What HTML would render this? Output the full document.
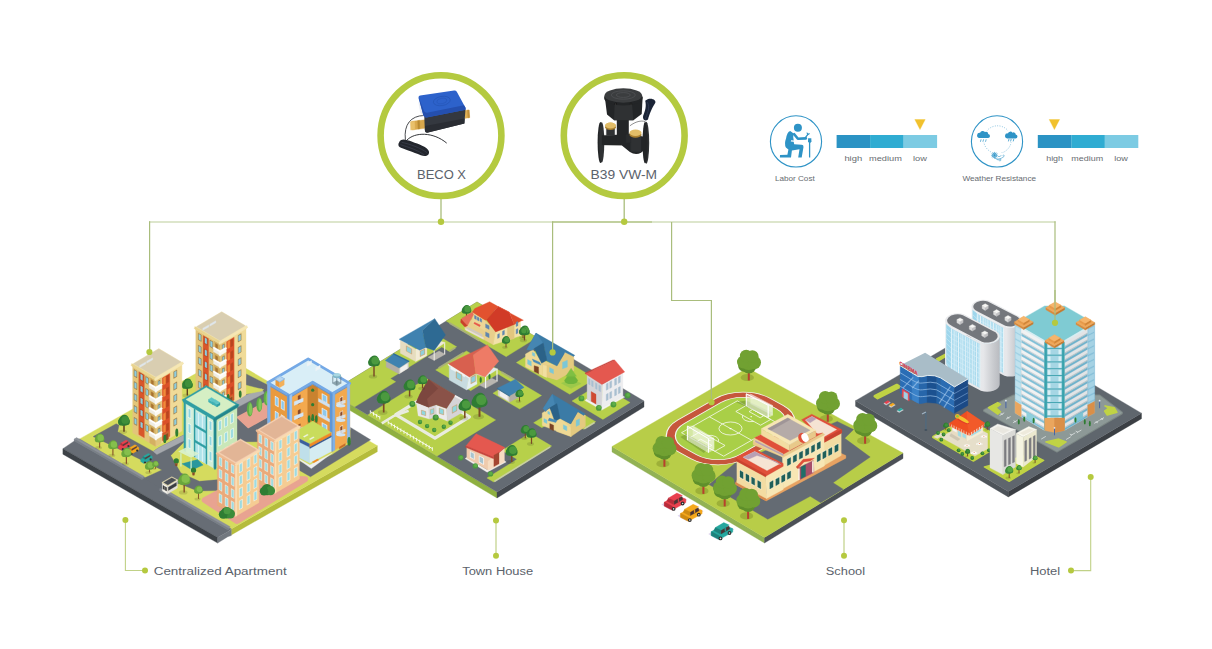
<!DOCTYPE html>
<html><head><meta charset="utf-8"><title>Application</title>
<style>
html,body{margin:0;padding:0;background:#fff;}
svg{display:block;font-family:"Liberation Sans",sans-serif;}
</style></head><body>
<svg width="1212" height="649" viewBox="0 0 1212 649">
<rect width="1212" height="649" fill="#fff"/>
<g id="frame">
<line x1="149.0" y1="222.0" x2="1055.6" y2="222.0" stroke="#d2debb" stroke-width="1.7"/>
<line x1="552.5" y1="222.0" x2="652.0" y2="222.0" stroke="#b7c990" stroke-width="1.7"/>
<line x1="149.6" y1="221.2" x2="149.6" y2="352.0" stroke="#a9bd7c" stroke-width="1.2"/>
<line x1="552.6" y1="221.2" x2="552.6" y2="352.0" stroke="#a9bd7c" stroke-width="1.2"/>
<path d="M671.6 222 V300.5 H711.4 V402" fill="none" stroke="#a9bd7c" stroke-width="1.2"/>
<line x1="1055.0" y1="221.2" x2="1055.0" y2="322.0" stroke="#a9bd7c" stroke-width="1.2"/>
<line x1="441.0" y1="198.0" x2="441.0" y2="222.0" stroke="#a9bd7c" stroke-width="1.3"/>
<line x1="624.2" y1="198.0" x2="624.2" y2="222.0" stroke="#a9bd7c" stroke-width="1.3"/>
<circle cx="441.0" cy="221.8" r="3.2" fill="#b5c93f"/>
<circle cx="624.2" cy="221.8" r="3.2" fill="#b5c93f"/>
<circle cx="441.0" cy="135.6" r="60.4" fill="#fff" stroke="#b4ca40" stroke-width="6.6"/>
<circle cx="624.2" cy="135.6" r="60.4" fill="#fff" stroke="#b4ca40" stroke-width="6.6"/>
<text x="441.5" y="178.6" font-size="12" fill="#5b626b" text-anchor="middle" textLength="49.0" lengthAdjust="spacingAndGlyphs">BECO X</text>
<text x="623.8" y="178.6" font-size="12" fill="#5b626b" text-anchor="middle" textLength="66.5" lengthAdjust="spacingAndGlyphs">B39 VW-M</text>
<path d="M125.4 520 V570.5 H145" fill="none" stroke="#c0d187" stroke-width="1.1"/>
<circle cx="125.4" cy="520.0" r="3.0" fill="#b5c93f"/>
<circle cx="145.0" cy="570.5" r="3.0" fill="#b5c93f"/>
<text x="153.7" y="575.1" font-size="11.7" fill="#5b626b" text-anchor="start" textLength="133.0" lengthAdjust="spacingAndGlyphs">Centralized Apartment</text>
<line x1="496.0" y1="520.4" x2="496.0" y2="555.8" stroke="#c0d187" stroke-width="1.2"/>
<circle cx="496.0" cy="520.4" r="3.0" fill="#b5c93f"/>
<circle cx="496.0" cy="555.8" r="3.0" fill="#b5c93f"/>
<text x="462.2" y="575.1" font-size="11.7" fill="#5b626b" text-anchor="start" textLength="71.0" lengthAdjust="spacingAndGlyphs">Town House</text>
<line x1="844.0" y1="520.3" x2="844.0" y2="555.7" stroke="#c0d187" stroke-width="1.2"/>
<circle cx="844.0" cy="520.3" r="3.0" fill="#b5c93f"/>
<circle cx="844.0" cy="555.7" r="3.0" fill="#b5c93f"/>
<text x="825.8" y="575.3" font-size="11.7" fill="#5b626b" text-anchor="start" textLength="39.2" lengthAdjust="spacingAndGlyphs">School</text>
<path d="M1071 570.6 H1090.7 V477" fill="none" stroke="#c0d187" stroke-width="1.1"/>
<circle cx="1071.0" cy="570.6" r="3.0" fill="#b5c93f"/>
<circle cx="1090.7" cy="477.0" r="3.0" fill="#b5c93f"/>
<text x="1030.0" y="575.1" font-size="11.7" fill="#5b626b" text-anchor="start" textLength="30.2" lengthAdjust="spacingAndGlyphs">Hotel</text>
<circle cx="796.0" cy="141.4" r="25.6" fill="#fff" stroke="#2e93c6" stroke-width="1.1"/>
<rect x="836.6" y="135" width="33.6" height="13" fill="#2b93c4"/>
<rect x="870.1" y="135" width="33.6" height="13" fill="#2facd2"/>
<rect x="903.6" y="135" width="33.5" height="13" fill="#7ccbe3"/>
<polygon points="914.8,119.5 925.2,119.5 920.0,129.6" fill="#f1c12d" stroke="#f1c12d" stroke-width="0.35" stroke-linejoin="round"/>
<text x="775.0" y="180.9" font-size="7.3" fill="#666b70" text-anchor="start" textLength="39.7" lengthAdjust="spacingAndGlyphs">Labor Cost</text>
<text x="844.4" y="160.7" font-size="7.6" fill="#666b70" text-anchor="start" textLength="17.8" lengthAdjust="spacingAndGlyphs">high</text>
<text x="869.1" y="160.7" font-size="7.6" fill="#666b70" text-anchor="start" textLength="32.7" lengthAdjust="spacingAndGlyphs">medium</text>
<text x="913.0" y="160.7" font-size="7.6" fill="#666b70" text-anchor="start" textLength="13.9" lengthAdjust="spacingAndGlyphs">low</text>
<circle cx="997.0" cy="141.4" r="25.6" fill="#fff" stroke="#2e93c6" stroke-width="1.1"/>
<rect x="1037.8" y="135" width="33.6" height="13" fill="#2b93c4"/>
<rect x="1071.3" y="135" width="33.6" height="13" fill="#2facd2"/>
<rect x="1104.8" y="135" width="33.5" height="13" fill="#7ccbe3"/>
<polygon points="1049.2,119.5 1059.6,119.5 1054.4,129.6" fill="#f1c12d" stroke="#f1c12d" stroke-width="0.35" stroke-linejoin="round"/>
<text x="962.4" y="180.9" font-size="7.3" fill="#666b70" text-anchor="start" textLength="73.7" lengthAdjust="spacingAndGlyphs">Weather Resistance</text>
<text x="1046.2" y="160.7" font-size="7.6" fill="#666b70" text-anchor="start" textLength="16.8" lengthAdjust="spacingAndGlyphs">high</text>
<text x="1071.3" y="160.7" font-size="7.6" fill="#666b70" text-anchor="start" textLength="31.8" lengthAdjust="spacingAndGlyphs">medium</text>
<text x="1114.2" y="160.7" font-size="7.6" fill="#666b70" text-anchor="start" textLength="13.7" lengthAdjust="spacingAndGlyphs">low</text>
</g>
<g id="products">
<path d="M423.9 115.5 C411.0 115.8 403.6 124.4 405.4 139.8" fill="none" stroke="#1d1f24" stroke-width="0.8"/>
<path d="M406.6 140.4 C414.7 131.8 433.2 131.8 446.7 143.1" fill="none" stroke="#1d1f24" stroke-width="0.9"/>
<path d="M399.2 142.3 C400.5 138.0 406.0 139.2 412.2 141.7 C418.4 144.1 427.0 146.6 428.8 150.9 C430.1 155.2 425.8 157.1 420.8 155.2 C413.4 152.1 403.6 149.1 399.9 147.2 C398.0 146.0 398.0 144.1 399.2 142.3 Z" fill="#23262d"/>
<path d="M401.7 142.3 C409.7 144.1 420.8 147.8 427.0 152.7" fill="none" stroke="#3c4150" stroke-width="0.7"/>
<path d="M400.5 144.7 C408.5 147.2 418.4 150.3 424.5 155.0" fill="none" stroke="#3c4150" stroke-width="0.7"/>
<polygon points="411.6,121.3 425.1,119.7 425.1,128.3 412.2,129.9" fill="#d9a84c" stroke="#d9a84c" stroke-width="0.35" stroke-linejoin="round"/>
<polygon points="410.3,121.7 414.7,121.2 414.9,129.6 410.7,130.1" fill="#e9c06a" stroke="#e9c06a" stroke-width="0.35" stroke-linejoin="round"/>
<polygon points="417.7,120.7 419.6,120.4 419.8,128.8 418.0,129.1" fill="#b98a32" stroke="#b98a32" stroke-width="0.35" stroke-linejoin="round"/>
<polygon points="464.0,110.6 468.9,110.0 469.5,117.6 464.6,118.5" fill="#e0b055" stroke="#e0b055" stroke-width="0.35" stroke-linejoin="round"/>
<polygon points="467.4,110.1 469.2,110.0 469.7,117.6 467.9,117.9" fill="#c4923a" stroke="#c4923a" stroke-width="0.35" stroke-linejoin="round"/>
<path d="M424.3 116.7 L465.5 109.1 464.4 123.4 427.0 132.8 Q424.8 132.4 424.8 129.9 Z" fill="#34383f"/>
<path d="M425.1 125.9 L464.6 118.5 464.4 123.4 427.0 132.8 Q425.0 132.3 424.9 129.9 Z" fill="#2a2d33"/>
<polygon points="418.6,102.2 422.3,105.3 425.1,117.0 420.6,113.3" fill="#e9ecf2" stroke="#e9ecf2" stroke-width="0.35" stroke-linejoin="round"/>
<path d="M418.6 97.0 Q418.6 95.8 420.2 95.4 L454.1 90.4 Q456.0 90.2 456.8 91.8 L465.5 107.7 Q466.2 109.6 464.5 110.1 L426.5 117.6 Q424.5 117.7 423.5 115.8 L418.6 98.5 Z" fill="#2d62cb"/>
<path d="M418.6 97.0 L423.5 115.8 Q424.5 117.7 426.5 117.6 L464.5 110.1 Q466.2 109.6 465.5 107.7 L464.0 105.3 427.0 112.7 Q424.8 112.8 424.0 111.1 Z" fill="#244fae"/>
<ellipse cx="441.8" cy="101.0" rx="8.5" ry="4.6" fill="none" stroke="#2556b8" stroke-width="0.8" transform="rotate(-10 441.8 101.0)"/>
<ellipse cx="441.8" cy="101.0" rx="5.0" ry="2.7" fill="none" stroke="#2556b8" stroke-width="0.6" transform="rotate(-10 441.8 101.0)"/>
<path d="M629.9 125.8 C635.5 121.6 641.0 120.2 645.2 121.6 L645.2 138.3" fill="none" stroke="#444" stroke-width="0.6"/>
<path d="M645.2 100.8 C649.3 96.6 657.7 99.4 654.9 103.6 C652.1 107.7 649.3 114.7 648.0 119.5 C645.2 121.6 642.4 120.2 643.1 116.1 C645.2 110.5 646.6 106.4 645.2 100.8 Z" fill="#1b2436"/>
<path d="M647.3 102.2 C650.7 107.7 646.6 114.7 645.2 119.5" fill="none" stroke="#3a4560" stroke-width="0.6"/>
<ellipse cx="600.5" cy="142.4" rx="2.9" ry="20.5" fill="#232527"/>
<ellipse cx="601.7" cy="142.4" rx="2.6" ry="20.2" fill="#2f3133"/>
<ellipse cx="646.3" cy="142.7" rx="2.9" ry="21.0" fill="#2f3133"/>
<ellipse cx="645.1" cy="142.7" rx="2.6" ry="20.6" fill="#232527"/>
<polygon points="602.2,135.5 621.6,134.8 621.6,145.2 602.2,144.9" fill="#232527" stroke="#232527" stroke-width="0.35" stroke-linejoin="round"/>
<polygon points="606.4,127.9 614.7,127.9 614.7,135.5 606.4,135.5" fill="#2f3133" stroke="#2f3133" stroke-width="0.35" stroke-linejoin="round"/>
<path d="M616.8 119.5 L628.8 119.5 628.8 135.5 641.7 136.2 645.2 136.9 645.2 149.3 641.0 152.8 Q635.5 155.6 629.9 152.1 L621.6 145.2 616.8 141.0 Z" fill="#232527"/>
<polygon points="630.6,135.5 641.0,135.5 641.0,152.1 630.6,151.4" fill="#2f3133" stroke="#2f3133" stroke-width="0.35" stroke-linejoin="round"/>
<polygon points="625.8,134.8 630.6,133.4 630.6,142.4 625.8,143.1" fill="#2a2c2e" stroke="#2a2c2e" stroke-width="0.35" stroke-linejoin="round"/>
<ellipse cx="610.5" cy="125.5" rx="5.4" ry="2.9" fill="#d8b05a"/>
<ellipse cx="610.5" cy="127.3" rx="5.4" ry="2.6" fill="#a97f2f"/>
<ellipse cx="610.5" cy="125.5" rx="5.4" ry="2.9" fill="#e2bd68"/>
<ellipse cx="635.5" cy="134.7" rx="6.0" ry="3.0" fill="#a97f2f"/>
<ellipse cx="635.5" cy="132.7" rx="6.0" ry="3.2" fill="#e2bd68"/>
<path d="M604.7 96.0 L642.7 96.6 641.7 114.0 633.4 120.2 614.0 120.2 607.0 114.4 Z" fill="#232527"/>
<path d="M614.7 103.6 L632.0 103.6 633.4 120.2 614.0 120.2 Z" fill="#2f3133"/>
<ellipse cx="623.3" cy="98.0" rx="19.2" ry="7.6" fill="#232527"/>
<ellipse cx="623.3" cy="95.5" rx="18.8" ry="7.2" fill="#3b3d3f"/>
<ellipse cx="623.3" cy="95.0" rx="12.0" ry="4.2" fill="none" stroke="#55585b" stroke-width="0.6"/>
<ellipse cx="623.3" cy="95.0" rx="7.0" ry="2.4" fill="none" stroke="#55585b" stroke-width="0.6"/>
<circle cx="615.8" cy="103.9" r="1.2" fill="#111"/>
<circle cx="615.8" cy="103.9" r="0.5" fill="#777"/>
<circle cx="631.0" cy="103.9" r="1.2" fill="#111"/>
<circle cx="631.0" cy="103.9" r="0.5" fill="#777"/>
</g>
<g id="icons">
<circle cx="797.9" cy="127.7" r="4.0" fill="#2e93c6"/>
<path d="M790.2 130.9 Q787.1 131.9 786.1 138.3 Q784.0 143.9 785.9 147.6 L788.4 149.4 787.4 154.7 780.0 155.1 779.9 157.5 791.0 157.5 791.9 150.6 799.5 149.2 798.2 157.5 801.7 157.5 803.5 146.9 Q803.7 144.8 801.6 144.7 L794.2 144.3 793.7 141.8 790.8 141.4 791.1 140.3 793.7 140.5 Q792.8 136.2 793.7 133.4 Z" fill="#2e93c6"/>
<path d="M794.2 134.2 L797.9 138.8 805.9 138.4" fill="none" stroke="#2e93c6" stroke-width="2.6" stroke-linecap="round" stroke-linejoin="round"/>
<path d="M805.7 137.1 L808.1 134.2" fill="none" stroke="#2e93c6" stroke-width="1.3" stroke-linecap="round"/>
<path d="M807.1 133.1 L807.8 134.4 809.3 133.8" fill="none" stroke="#2e93c6" stroke-width="1.1" stroke-linecap="round"/>
<path d="M809.6 139.7 L809.6 157.5" fill="none" stroke="#2e93c6" stroke-width="1.3"/>
<path d="M808.1 138.3 L811.3 138.3 811.5 141.4 810.2 143.0 809.1 143.0 808.0 141.4 Z" fill="#2e93c6"/>
<circle cx="997.5" cy="139.7" r="13.9" fill="none" stroke="#2e93c6" stroke-width="0.6" stroke-dasharray="0.9 1.5"/>
<circle cx="983.2" cy="135.6" r="6.6" fill="#fff"/>
<circle cx="1011.2" cy="135.8" r="6.6" fill="#fff"/>
<ellipse cx="996.6" cy="156.4" rx="7.5" ry="4.8" fill="#fff"/>
<path d="M979.3 138.1 h8.5 a2.0 2.0 0 0 0 0.4 -4.0 a2.2 2.2 0 0 0 -3.3 -2.0 a2.8 2.8 0 0 0 -4.8 0.7 a2.2 2.2 0 0 0 -0.7 5.3 z" fill="#2e93c6"/>
<path d="M1007.2 138.4 h8.1 a1.9 1.9 0 0 0 0.4 -3.8 a2.1 2.1 0 0 0 -3.2 -1.9 a2.6 2.6 0 0 0 -4.6 0.7 a2.1 2.1 0 0 0 -0.7 5.0 z" fill="#2e93c6"/>
<line x1="981.1" y1="139.3" x2="980.4" y2="141.8" stroke="#2e93c6" stroke-width="0.7"/>
<line x1="983.6" y1="139.3" x2="982.9" y2="141.8" stroke="#2e93c6" stroke-width="0.7"/>
<line x1="986.2" y1="139.3" x2="985.5" y2="141.8" stroke="#2e93c6" stroke-width="0.7"/>
<line x1="1009.0" y1="139.0" x2="1008.4" y2="141.4" stroke="#2e93c6" stroke-width="0.8"/>
<line x1="1011.2" y1="139.0" x2="1010.6" y2="141.4" stroke="#2e93c6" stroke-width="0.8"/>
<line x1="1013.8" y1="139.0" x2="1013.2" y2="141.4" stroke="#2e93c6" stroke-width="0.8"/>
<line x1="991.1" y1="155.3" x2="997.9" y2="155.3" stroke="#2e93c6" stroke-width="0.6"/>
<line x1="991.6" y1="153.6" x2="997.5" y2="157.0" stroke="#2e93c6" stroke-width="0.6"/>
<line x1="992.8" y1="152.3" x2="996.2" y2="158.2" stroke="#2e93c6" stroke-width="0.6"/>
<line x1="994.5" y1="151.9" x2="994.5" y2="158.7" stroke="#2e93c6" stroke-width="0.6"/>
<line x1="996.2" y1="152.3" x2="992.8" y2="158.2" stroke="#2e93c6" stroke-width="0.6"/>
<line x1="997.5" y1="153.6" x2="991.6" y2="157.0" stroke="#2e93c6" stroke-width="0.6"/>
<circle cx="994.5" cy="155.3" r="2.1" fill="none" stroke="#2e93c6" stroke-width="0.5"/>
<path d="M994.7 158.2 C998.4 160.1 1002.1 158.2 1004.0 156.4 C1004.9 155.4 1003.5 154.7 1002.6 155.6" fill="none" stroke="#2e93c6" stroke-width="0.6"/>
<path d="M996.6 159.3 C998.4 160.2 999.8 160.1 1000.7 159.3 C1001.4 160.1 1000.5 161.2 999.3 160.8" fill="none" stroke="#2e93c6" stroke-width="0.6"/>
<path d="M998.0 156.4 C999.3 156.8 1000.7 156.4 1001.2 155.4" fill="none" stroke="#2e93c6" stroke-width="0.6"/>
</g>
<g id="tile2">
<polygon points="330.0,392.5 497.0,492.0 497.0,498.0 330.0,398.5" fill="#8fb040" stroke="#8fb040" stroke-width="0.35" stroke-linejoin="round"/>
<polygon points="497.0,492.0 644.0,401.0 644.0,407.0 497.0,498.0" fill="#42474d" stroke="#42474d" stroke-width="0.35" stroke-linejoin="round"/>
<polygon points="477.0,302.0 644.0,401.0 497.0,492.0 330.0,392.5" fill="#646b73" stroke="#646b73" stroke-width="0.35" stroke-linejoin="round"/>
<polygon points="430.0,331.0 456.7,346.8 449.3,351.4 441.8,346.9 390.4,378.6 395.7,381.8 354.5,407.1 330.0,392.5" fill="#b7d04a" stroke="#b7d04a" stroke-width="0.35" stroke-linejoin="round"/>
<polygon points="477.0,302.0 537.1,337.6 506.2,356.7 446.1,321.0" fill="#b7d04a" stroke="#b7d04a" stroke-width="0.35" stroke-linejoin="round"/>
<polygon points="542.0,346.8 595.4,378.4 569.7,394.3 516.3,362.6" fill="#b7d04a" stroke="#b7d04a" stroke-width="0.35" stroke-linejoin="round"/>
<polygon points="599.2,384.2 630.1,402.5 602.9,419.4 572.0,401.0" fill="#b7d04a" stroke="#b7d04a" stroke-width="0.35" stroke-linejoin="round"/>
<polygon points="466.5,350.9 541.6,395.5 519.6,409.1 492.9,393.2 511.3,381.9 497.9,374.0 470.7,390.7 435.6,369.9" fill="#b7d04a" stroke="#b7d04a" stroke-width="0.35" stroke-linejoin="round"/>
<polygon points="426.4,378.6 495.7,419.9 436.9,456.2 367.6,414.9" fill="#b7d04a" stroke="#b7d04a" stroke-width="0.35" stroke-linejoin="round"/>
<polygon points="584.1,414.8 595.8,421.7 583.6,429.3 571.9,422.4" fill="#b7d04a" stroke="#b7d04a" stroke-width="0.35" stroke-linejoin="round"/>
<polygon points="543.9,416.4 552.2,421.4 541.9,427.7 533.6,422.8" fill="#b7d04a" stroke="#b7d04a" stroke-width="0.35" stroke-linejoin="round"/>
<polygon points="529.9,433.1 551.7,446.0 493.6,481.9 486.9,478.0 517.0,459.3 502.0,450.4" fill="#b7d04a" stroke="#b7d04a" stroke-width="0.35" stroke-linejoin="round"/>
<line x1="550.2" y1="446.9" x2="494.3" y2="481.5" stroke="#c8cfa0" stroke-width="1.6"/>
<line x1="594.6" y1="422.5" x2="584.3" y2="428.8" stroke="#c8cfa0" stroke-width="1.6"/>
<line x1="449.5" y1="323.0" x2="479.5" y2="340.8" stroke="#a9b07a" stroke-width="1.8"/>
<line x1="463.6" y1="352.7" x2="438.6" y2="368.1" stroke="#a9b07a" stroke-width="1.8"/>
<line x1="501.3" y1="371.9" x2="514.6" y2="379.8" stroke="#a9b07a" stroke-width="1.8"/>
<line x1="455.2" y1="347.7" x2="449.3" y2="351.4" stroke="#a9b07a" stroke-width="1.8"/>
<polygon points="430.3,393.4 469.5,416.8 435.0,438.1 395.7,414.7" fill="none" stroke="#e9ecdf" stroke-width="3.2" stroke-linejoin="round"/>
<path d="M408.6 410.8 L393.5 416.1 L381.8 423.3" fill="none" stroke="#e9ecdf" stroke-width="2.6"/>
<line x1="370.3" y1="411.6" x2="379.8" y2="417.3" stroke="#fff" stroke-width="0.9"/>
<line x1="370.3" y1="413.8" x2="370.3" y2="410.2" stroke="#fff" stroke-width="0.8"/>
<line x1="373.5" y1="415.7" x2="373.5" y2="412.1" stroke="#fff" stroke-width="0.8"/>
<line x1="376.6" y1="417.6" x2="376.6" y2="414.0" stroke="#fff" stroke-width="0.8"/>
<line x1="379.8" y1="419.5" x2="379.8" y2="415.9" stroke="#fff" stroke-width="0.8"/>
<line x1="388.2" y1="422.3" x2="432.4" y2="448.6" stroke="#fff" stroke-width="0.9"/>
<line x1="388.2" y1="424.5" x2="388.2" y2="420.9" stroke="#fff" stroke-width="0.8"/>
<line x1="391.3" y1="426.4" x2="391.3" y2="422.8" stroke="#fff" stroke-width="0.8"/>
<line x1="394.5" y1="428.2" x2="394.5" y2="424.6" stroke="#fff" stroke-width="0.8"/>
<line x1="397.6" y1="430.1" x2="397.6" y2="426.5" stroke="#fff" stroke-width="0.8"/>
<line x1="400.8" y1="432.0" x2="400.8" y2="428.4" stroke="#fff" stroke-width="0.8"/>
<line x1="404.0" y1="433.9" x2="404.0" y2="430.3" stroke="#fff" stroke-width="0.8"/>
<line x1="407.1" y1="435.8" x2="407.1" y2="432.2" stroke="#fff" stroke-width="0.8"/>
<line x1="410.3" y1="437.7" x2="410.3" y2="434.1" stroke="#fff" stroke-width="0.8"/>
<line x1="413.4" y1="439.5" x2="413.4" y2="435.9" stroke="#fff" stroke-width="0.8"/>
<line x1="416.6" y1="441.4" x2="416.6" y2="437.8" stroke="#fff" stroke-width="0.8"/>
<line x1="419.8" y1="443.3" x2="419.8" y2="439.7" stroke="#fff" stroke-width="0.8"/>
<line x1="422.9" y1="445.2" x2="422.9" y2="441.6" stroke="#fff" stroke-width="0.8"/>
<line x1="426.1" y1="447.1" x2="426.1" y2="443.5" stroke="#fff" stroke-width="0.8"/>
<line x1="429.2" y1="449.0" x2="429.2" y2="445.4" stroke="#fff" stroke-width="0.8"/>
<line x1="432.4" y1="450.8" x2="432.4" y2="447.2" stroke="#fff" stroke-width="0.8"/>
<ellipse cx="465.5" cy="318.0" rx="3.4" ry="1.7" fill="#000" opacity="0.12"/>
<line x1="466.5" y1="318.0" x2="466.5" y2="312.0" stroke="#7a4a25" stroke-width="1.1760000000000002"/>
<circle cx="466.5" cy="309.6" r="4.2" fill="#2f7d33"/>
<circle cx="464.6" cy="310.7" r="2.9" fill="#2f7d33"/>
<circle cx="468.4" cy="310.5" r="2.9" fill="#2f7d33"/>
<circle cx="466.9" cy="307.8" r="2.9" fill="#2f7d33"/>
<circle cx="467.6" cy="309.0" r="3.2" fill="#4b9a3f"/>
<polygon points="463.7,319.6 485.3,320.2 495.7,331.3 493.3,344.8 483.4,339.3 464.9,329.4" fill="#e8cf8c" stroke="#e8cf8c" stroke-width="0.35" stroke-linejoin="round"/>
<polygon points="472.3,311.9 485.3,320.2 485.3,330.7 472.3,323.3" fill="#ecd596" stroke="#ecd596" stroke-width="0.35" stroke-linejoin="round"/>
<polygon points="493.3,344.8 495.7,331.3 509.3,323.3 520.4,319.6 521.0,335.6" fill="#f3e1a8" stroke="#f3e1a8" stroke-width="0.35" stroke-linejoin="round"/>
<polygon points="507.4,325.7 514.2,324.5 514.2,338.7 507.4,340.5" fill="#e2c67e" stroke="#e2c67e" stroke-width="0.35" stroke-linejoin="round"/>
<polygon points="461.0,319.0 472.3,311.9 473.6,314.6 467.4,325.7" fill="#e7705b" stroke="#e7705b" stroke-width="0.35" stroke-linejoin="round"/>
<polygon points="461.0,319.0 467.4,325.7 464.9,327.0 460.6,322.3" fill="#c9402b" stroke="#c9402b" stroke-width="0.35" stroke-linejoin="round"/>
<polygon points="474.8,308.5 489.6,301.7 498.2,306.6 486.5,319.8 485.3,320.2 472.3,311.9" fill="#e2522f" stroke="#e2522f" stroke-width="0.35" stroke-linejoin="round"/>
<polygon points="486.5,319.8 498.2,306.6 509.3,312.2 514.2,324.5 495.7,331.9" fill="#d13b27" stroke="#d13b27" stroke-width="0.35" stroke-linejoin="round"/>
<polygon points="498.2,306.6 523.4,320.2 521.0,321.0 514.2,324.5 509.3,312.2" fill="#dd4a2b" stroke="#dd4a2b" stroke-width="0.35" stroke-linejoin="round"/>
<polygon points="474.5,315.3 476.3,316.2 476.3,319.6 474.5,318.6" fill="#5f86b0" stroke="#5f86b0" stroke-width="0.35" stroke-linejoin="round"/>
<polygon points="477.2,316.9 479.0,317.8 479.0,321.0 477.2,320.1" fill="#5f86b0" stroke="#5f86b0" stroke-width="0.35" stroke-linejoin="round"/>
<polygon points="480.0,318.3 481.7,319.3 481.7,322.3 480.0,321.3" fill="#5f86b0" stroke="#5f86b0" stroke-width="0.35" stroke-linejoin="round"/>
<polygon points="485.6,323.9 489.1,325.7 489.1,329.4 485.6,327.6" fill="#5f86b0" stroke="#5f86b0" stroke-width="0.35" stroke-linejoin="round"/>
<polygon points="485.6,331.9 489.1,333.7 489.1,337.8 485.6,336.0" fill="#5f86b0" stroke="#5f86b0" stroke-width="0.35" stroke-linejoin="round"/>
<polygon points="497.6,334.4 499.4,333.4 499.4,337.4 497.6,338.4" fill="#5f86b0" stroke="#5f86b0" stroke-width="0.35" stroke-linejoin="round"/>
<polygon points="502.5,331.3 504.4,330.3 504.4,334.4 502.5,335.3" fill="#5f86b0" stroke="#5f86b0" stroke-width="0.35" stroke-linejoin="round"/>
<polygon points="516.1,322.3 517.9,321.4 517.9,325.7 516.1,326.6" fill="#5f86b0" stroke="#5f86b0" stroke-width="0.35" stroke-linejoin="round"/>
<polygon points="516.1,329.4 517.9,328.6 517.9,333.1 516.1,334.0" fill="#5f86b0" stroke="#5f86b0" stroke-width="0.35" stroke-linejoin="round"/>
<polygon points="465.5,328.2 483.4,337.4 483.4,339.3 465.5,330.0" fill="#e6e0d8" stroke="#e6e0d8" stroke-width="0.35" stroke-linejoin="round"/>
<polygon points="467.4,328.8 482.2,336.6 482.2,334.4 467.4,327.0" fill="#cfc9c2" stroke="#cfc9c2" stroke-width="0.35" stroke-linejoin="round"/>
<polygon points="474.5,322.3 480.3,325.1 479.7,326.7 473.8,323.5" fill="#e7574a" stroke="#e7574a" stroke-width="0.35" stroke-linejoin="round"/>
<ellipse cx="505.0" cy="347.5" rx="2.9" ry="1.4" fill="#000" opacity="0.12"/>
<line x1="506.0" y1="347.5" x2="506.0" y2="342.0" stroke="#7a4a25" stroke-width="1.0080000000000002"/>
<circle cx="506.0" cy="340.1" r="3.6" fill="#2f7d33"/>
<circle cx="504.4" cy="341.0" r="2.5" fill="#2f7d33"/>
<circle cx="507.6" cy="340.8" r="2.5" fill="#2f7d33"/>
<circle cx="506.4" cy="338.5" r="2.5" fill="#2f7d33"/>
<circle cx="506.9" cy="339.6" r="2.7" fill="#4b9a3f"/>
<ellipse cx="523.5" cy="340.5" rx="3.7" ry="1.8" fill="#000" opacity="0.12"/>
<line x1="524.5" y1="340.5" x2="524.5" y2="333.5" stroke="#7a4a25" stroke-width="1.288"/>
<circle cx="524.5" cy="330.8" r="4.6" fill="#2f7d33"/>
<circle cx="522.4" cy="332.0" r="3.2" fill="#2f7d33"/>
<circle cx="526.6" cy="331.7" r="3.2" fill="#2f7d33"/>
<circle cx="525.0" cy="328.8" r="3.2" fill="#2f7d33"/>
<circle cx="525.6" cy="330.1" r="3.4" fill="#4b9a3f"/>
<polygon points="400.3,340.0 415.7,349.3 415.7,361.6 400.3,353.2" fill="#e6dcc0" stroke="#e6dcc0" stroke-width="0.35" stroke-linejoin="round"/>
<polygon points="415.7,349.3 426.8,346.6 426.8,355.7 415.7,361.6" fill="#f2ebd6" stroke="#f2ebd6" stroke-width="0.35" stroke-linejoin="round"/>
<polygon points="428.0,357.3 434.2,360.4 445.3,354.2 439.1,351.1" fill="#b9b6b0" stroke="#b9b6b0" stroke-width="0.35" stroke-linejoin="round"/>
<polygon points="426.8,347.4 434.2,349.9 445.3,342.5 437.9,340.7" fill="#efe9d8" stroke="#efe9d8" stroke-width="0.35" stroke-linejoin="round"/>
<line x1="434.2" y1="349.9" x2="434.2" y2="360.4" stroke="#f4f1ea" stroke-width="1.0"/>
<line x1="444.7" y1="343.1" x2="444.7" y2="354.2" stroke="#f4f1ea" stroke-width="1.0"/>
<polygon points="399.1,339.2 434.8,318.7 422.5,330.6 425.8,347.4 419.7,350.3" fill="#3f82b0" stroke="#3f82b0" stroke-width="0.35" stroke-linejoin="round"/>
<polygon points="422.5,330.6 434.8,318.7 445.5,334.9 434.2,350.5 425.8,347.4" fill="#2e6a93" stroke="#2e6a93" stroke-width="0.35" stroke-linejoin="round"/>
<polygon points="406.2,345.8 411.8,348.9 411.8,354.2 406.2,351.1" fill="#c9a77a" stroke="#c9a77a" stroke-width="0.35" stroke-linejoin="round"/>
<polygon points="407.0,346.8 411.0,349.0 411.0,353.2 407.0,351.0" fill="#8fd0dc" stroke="#8fd0dc" stroke-width="0.35" stroke-linejoin="round"/>
<polygon points="420.0,351.1 425.0,348.7 425.0,354.2 420.0,356.7" fill="#c9a77a" stroke="#c9a77a" stroke-width="0.35" stroke-linejoin="round"/>
<polygon points="420.8,351.6 424.2,349.9 424.2,353.7 420.8,355.6" fill="#8fd0dc" stroke="#8fd0dc" stroke-width="0.35" stroke-linejoin="round"/>
<polygon points="386.2,361.0 399.1,367.8 399.1,373.9 386.2,367.1" fill="#b4aea6" stroke="#b4aea6" stroke-width="0.35" stroke-linejoin="round"/>
<polygon points="399.1,367.8 408.6,361.6 408.6,368.0 399.1,373.9" fill="#cfcac4" stroke="#cfcac4" stroke-width="0.35" stroke-linejoin="round"/>
<polygon points="400.3,368.0 407.4,363.7 407.4,368.4 400.3,372.7" fill="#f1f0ee" stroke="#f1f0ee" stroke-width="0.35" stroke-linejoin="round"/>
<polygon points="385.2,360.4 393.8,353.6 409.3,361.2 399.1,368.0" fill="#3f82b0" stroke="#3f82b0" stroke-width="0.35" stroke-linejoin="round"/>
<polygon points="393.8,353.6 409.3,361.2 408.6,361.8 393.3,354.3" fill="#2e6a93" stroke="#2e6a93" stroke-width="0.35" stroke-linejoin="round"/>
<ellipse cx="373.0" cy="376.5" rx="4.2" ry="2.1" fill="#000" opacity="0.12"/>
<line x1="374.0" y1="376.5" x2="374.0" y2="364.5" stroke="#7a4a25" stroke-width="1.4560000000000002"/>
<circle cx="374.0" cy="361.3" r="5.2" fill="#2f7d33"/>
<circle cx="371.7" cy="362.6" r="3.6" fill="#2f7d33"/>
<circle cx="376.3" cy="362.4" r="3.6" fill="#2f7d33"/>
<circle cx="374.5" cy="359.0" r="3.6" fill="#2f7d33"/>
<circle cx="375.3" cy="360.6" r="3.9" fill="#4b9a3f"/>
<polygon points="449.2,365.3 469.0,377.0 466.5,389.9 449.2,380.0" fill="#c8dce0" stroke="#c8dce0" stroke-width="0.35" stroke-linejoin="round"/>
<polygon points="469.0,377.0 476.3,373.9 477.0,384.1 466.5,389.9" fill="#e3eff1" stroke="#e3eff1" stroke-width="0.35" stroke-linejoin="round"/>
<polygon points="479.4,385.0 485.6,388.3 497.9,381.3 491.7,378.2" fill="#b9b6b0" stroke="#b9b6b0" stroke-width="0.35" stroke-linejoin="round"/>
<polygon points="477.0,374.5 485.6,377.0 497.9,369.0 489.3,366.5" fill="#dfeaec" stroke="#dfeaec" stroke-width="0.35" stroke-linejoin="round"/>
<line x1="485.6" y1="377.0" x2="485.6" y2="388.3" stroke="#f4f6f6" stroke-width="1.1"/>
<line x1="497.0" y1="369.3" x2="497.0" y2="380.9" stroke="#f4f6f6" stroke-width="1.1"/>
<polygon points="450.8,366.5 464.6,374.5 464.6,377.0 450.8,369.0" fill="#eef5f6" stroke="#eef5f6" stroke-width="0.35" stroke-linejoin="round"/>
<polygon points="448.0,364.0 487.4,344.9 473.3,354.8 475.7,373.3 469.0,377.2" fill="#d8604f" stroke="#d8604f" stroke-width="0.35" stroke-linejoin="round"/>
<polygon points="473.3,354.8 487.4,344.9 498.8,361.2 485.0,377.0 475.7,373.3" fill="#ee7b66" stroke="#ee7b66" stroke-width="0.35" stroke-linejoin="round"/>
<polygon points="448.0,364.0 469.0,377.2 469.0,378.2 448.0,365.0" fill="#f4f6f6" stroke="#f4f6f6" stroke-width="0.35" stroke-linejoin="round"/>
<polygon points="456.0,371.4 461.9,374.7 461.9,381.3 456.0,377.9" fill="#c9a77a" stroke="#c9a77a" stroke-width="0.35" stroke-linejoin="round"/>
<polygon points="456.9,372.6 461.2,375.1 461.2,380.2 456.9,377.7" fill="#8fd0dc" stroke="#8fd0dc" stroke-width="0.35" stroke-linejoin="round"/>
<polygon points="470.8,377.0 475.7,374.5 475.7,381.3 470.8,384.0" fill="#c9a77a" stroke="#c9a77a" stroke-width="0.35" stroke-linejoin="round"/>
<polygon points="471.5,377.7 475.0,376.0 475.0,380.7 471.5,382.5" fill="#8fd0dc" stroke="#8fd0dc" stroke-width="0.35" stroke-linejoin="round"/>
<ellipse cx="480.7" cy="380.0" rx="1.1" ry="3.0" fill="#2f7d33"/>
<ellipse cx="489.5" cy="376.7" rx="1.1" ry="2.6" fill="#2f7d33"/>
<polygon points="498.1,388.7 509.6,395.4 509.6,402.2 498.1,395.4" fill="#d6d2cc" stroke="#d6d2cc" stroke-width="0.35" stroke-linejoin="round"/>
<polygon points="509.6,395.4 521.3,389.0 520.7,396.1 509.6,402.2" fill="#b4aea6" stroke="#b4aea6" stroke-width="0.35" stroke-linejoin="round"/>
<polygon points="500.0,391.1 507.5,395.4 507.5,400.1 500.0,395.7" fill="#f1f0ee" stroke="#f1f0ee" stroke-width="0.35" stroke-linejoin="round"/>
<polygon points="497.4,388.3 515.4,379.2 524.1,387.4 509.6,395.7" fill="#3f82b0" stroke="#3f82b0" stroke-width="0.35" stroke-linejoin="round"/>
<polygon points="497.4,388.3 509.6,395.7 509.6,396.4 497.4,389.0" fill="#2e6a93" stroke="#2e6a93" stroke-width="0.35" stroke-linejoin="round"/>
<ellipse cx="518.5" cy="401.5" rx="2.9" ry="1.4" fill="#000" opacity="0.12"/>
<line x1="519.5" y1="401.5" x2="519.5" y2="395.5" stroke="#7a4a25" stroke-width="1.0080000000000002"/>
<circle cx="519.5" cy="393.6" r="3.6" fill="#2f7d33"/>
<circle cx="517.9" cy="394.5" r="2.5" fill="#2f7d33"/>
<circle cx="521.1" cy="394.3" r="2.5" fill="#2f7d33"/>
<circle cx="519.9" cy="392.0" r="2.5" fill="#2f7d33"/>
<circle cx="520.4" cy="393.1" r="2.7" fill="#4b9a3f"/>
<polygon points="540.9,359.6 557.0,365.7 557.0,379.5 542.8,375.8" fill="#e9d18a" stroke="#e9d18a" stroke-width="0.35" stroke-linejoin="round"/>
<polygon points="525.5,354.0 532.9,349.7 541.6,361.4 542.8,375.8 525.5,367.0" fill="#eed995" stroke="#eed995" stroke-width="0.35" stroke-linejoin="round"/>
<polygon points="542.8,365.1 557.0,365.7 565.0,352.2 573.8,356.5 573.8,370.7 557.0,379.9 542.8,375.8" fill="#e4ca80" stroke="#e4ca80" stroke-width="0.35" stroke-linejoin="round"/>
<polygon points="542.8,365.1 546.5,365.7 546.5,377.4 542.8,375.8" fill="#f1dea0" stroke="#f1dea0" stroke-width="0.35" stroke-linejoin="round"/>
<polygon points="526.8,349.7 536.0,333.1 574.8,355.3 573.6,356.5 565.0,352.2 557.0,366.0 546.5,360.8 543.4,343.6" fill="#3b7ba6" stroke="#3b7ba6" stroke-width="0.35" stroke-linejoin="round"/>
<polygon points="526.8,349.7 536.0,333.1 543.4,343.6 534.2,348.5 532.3,350.3" fill="#4586b2" stroke="#4586b2" stroke-width="0.35" stroke-linejoin="round"/>
<polygon points="534.2,348.5 543.2,342.9 546.9,360.2 541.6,363.3" fill="#2b6288" stroke="#2b6288" stroke-width="0.35" stroke-linejoin="round"/>
<polygon points="532.3,359.0 539.7,362.3 540.9,365.1 533.6,361.8" fill="#4a8cb8" stroke="#4a8cb8" stroke-width="0.35" stroke-linejoin="round"/>
<polygon points="534.2,365.7 538.5,367.0 538.7,373.7 534.2,371.6" fill="#7a4326" stroke="#7a4326" stroke-width="0.35" stroke-linejoin="round"/>
<polygon points="527.6,359.6 531.3,361.4 531.3,366.0 527.6,364.1" fill="#7cc7d6" stroke="#7cc7d6" stroke-width="0.35" stroke-linejoin="round"/>
<polygon points="532.3,352.2 534.8,353.4 534.8,356.5 532.3,355.3" fill="#7cc7d6" stroke="#7cc7d6" stroke-width="0.35" stroke-linejoin="round"/>
<polygon points="549.6,367.6 553.5,369.4 553.5,373.7 549.6,371.9" fill="#7cc7d6" stroke="#7cc7d6" stroke-width="0.35" stroke-linejoin="round"/>
<polygon points="562.5,362.3 567.4,360.2 567.4,367.0 562.5,368.8" fill="#7cc7d6" stroke="#7cc7d6" stroke-width="0.35" stroke-linejoin="round"/>
<polygon points="561.3,383.2 571.1,378.7 581.2,383.6 571.1,388.5" fill="#9cc84a" stroke="#9cc84a" stroke-width="0.35" stroke-linejoin="round"/>
<polygon points="564.4,380.5 577.9,380.5 571.1,371.3" fill="#6fb43c" stroke="#6fb43c" stroke-width="0.35" stroke-linejoin="round"/>
<polygon points="565.8,376.2 576.4,376.2 571.1,368.2" fill="#7fc043" stroke="#7fc043" stroke-width="0.35" stroke-linejoin="round"/>
<ellipse cx="571.1" cy="381.1" rx="6.5" ry="3.0" fill="#6fb43c"/>
<ellipse cx="522.0" cy="338.0" rx="2.8" ry="1.4" fill="#000" opacity="0.12"/>
<line x1="523.0" y1="338.0" x2="523.0" y2="333.0" stroke="#7a4a25" stroke-width="1.0"/>
<circle cx="523.0" cy="331.2" r="3.5" fill="#2f7d33"/>
<circle cx="521.4" cy="332.1" r="2.4" fill="#2f7d33"/>
<circle cx="524.6" cy="331.9" r="2.4" fill="#2f7d33"/>
<circle cx="523.4" cy="329.6" r="2.4" fill="#2f7d33"/>
<circle cx="523.9" cy="330.7" r="2.6" fill="#4b9a3f"/>
<polygon points="585.0,400.5 601.9,410.1 624.7,397.1 622.9,395.9 601.9,407.6 586.5,399.0" fill="#f3f3f3" stroke="#f3f3f3" stroke-width="0.35" stroke-linejoin="round"/>
<polygon points="587.1,374.4 602.5,384.2 601.9,407.9 587.1,399.2" fill="#d4d4d8" stroke="#d4d4d8" stroke-width="0.35" stroke-linejoin="round"/>
<polygon points="602.5,384.2 622.9,372.5 622.9,396.5 601.9,407.9" fill="#ededef" stroke="#ededef" stroke-width="0.35" stroke-linejoin="round"/>
<polygon points="585.3,373.7 614.9,360.2 624.7,371.9 601.9,384.5" fill="#e4584f" stroke="#e4584f" stroke-width="0.35" stroke-linejoin="round"/>
<polygon points="585.3,373.7 614.9,360.2 613.0,359.9 585.0,372.9" fill="#c8423b" stroke="#c8423b" stroke-width="0.35" stroke-linejoin="round"/>
<polygon points="591.2,391.6 596.0,394.3 596.0,403.9 591.2,401.2" fill="#cf4a32" stroke="#cf4a32" stroke-width="0.35" stroke-linejoin="round"/>
<polygon points="588.4,378.2 590.1,379.2 590.1,385.0 588.4,384.0" fill="#a9bfd0" stroke="#a9bfd0" stroke-width="0.35" stroke-linejoin="round"/>
<polygon points="591.5,380.2 593.2,381.2 593.2,387.0 591.5,386.0" fill="#a9bfd0" stroke="#a9bfd0" stroke-width="0.35" stroke-linejoin="round"/>
<polygon points="595.4,382.7 597.1,383.7 597.1,389.5 595.4,388.5" fill="#a9bfd0" stroke="#a9bfd0" stroke-width="0.35" stroke-linejoin="round"/>
<polygon points="598.8,384.9 600.6,385.9 600.6,391.7 598.8,390.7" fill="#a9bfd0" stroke="#a9bfd0" stroke-width="0.35" stroke-linejoin="round"/>
<polygon points="606.2,383.9 608.2,382.8 608.2,389.2 606.2,390.3" fill="#a9bfd0" stroke="#a9bfd0" stroke-width="0.35" stroke-linejoin="round"/>
<polygon points="606.2,394.4 608.2,393.3 608.2,399.7 606.2,400.8" fill="#a9bfd0" stroke="#a9bfd0" stroke-width="0.35" stroke-linejoin="round"/>
<polygon points="609.7,381.9 611.7,380.8 611.7,387.2 609.7,388.4" fill="#a9bfd0" stroke="#a9bfd0" stroke-width="0.35" stroke-linejoin="round"/>
<polygon points="609.7,392.4 611.7,391.3 611.7,397.7 609.7,398.8" fill="#a9bfd0" stroke="#a9bfd0" stroke-width="0.35" stroke-linejoin="round"/>
<polygon points="614.6,379.1 616.6,378.0 616.6,384.4 614.6,385.5" fill="#a9bfd0" stroke="#a9bfd0" stroke-width="0.35" stroke-linejoin="round"/>
<polygon points="614.6,389.6 616.6,388.5 616.6,394.9 614.6,396.0" fill="#a9bfd0" stroke="#a9bfd0" stroke-width="0.35" stroke-linejoin="round"/>
<polygon points="618.3,377.0 620.3,375.9 620.3,382.3 618.3,383.4" fill="#a9bfd0" stroke="#a9bfd0" stroke-width="0.35" stroke-linejoin="round"/>
<polygon points="618.3,387.5 620.3,386.4 620.3,392.8 618.3,393.9" fill="#a9bfd0" stroke="#a9bfd0" stroke-width="0.35" stroke-linejoin="round"/>
<circle cx="581.4" cy="398.4" r="2.9" fill="#4b9a3f"/>
<circle cx="581.9" cy="397.8" r="1.8" fill="#5fae48"/>
<circle cx="598.8" cy="407.9" r="2.9" fill="#4b9a3f"/>
<circle cx="599.3" cy="407.3" r="1.8" fill="#5fae48"/>
<circle cx="613.4" cy="404.5" r="2.9" fill="#4b9a3f"/>
<circle cx="613.9" cy="403.9" r="1.8" fill="#5fae48"/>
<circle cx="627.6" cy="395.5" r="2.9" fill="#4b9a3f"/>
<circle cx="628.1" cy="394.9" r="1.8" fill="#5fae48"/>
<polygon points="416.3,402.3 428.7,407.0 429.3,419.0 418.2,415.8" fill="#e9e7e8" stroke="#e9e7e8" stroke-width="0.35" stroke-linejoin="round"/>
<polygon points="428.7,407.0 436.4,404.7 436.9,416.8 429.3,419.0" fill="#d8d5d8" stroke="#d8d5d8" stroke-width="0.35" stroke-linejoin="round"/>
<polygon points="436.1,405.1 446.5,408.4 447.4,421.1 436.9,416.8" fill="#ecebec" stroke="#ecebec" stroke-width="0.35" stroke-linejoin="round"/>
<polygon points="446.5,408.4 455.2,395.3 462.3,399.6 462.3,412.5 447.4,421.1" fill="#d6d4d7" stroke="#d6d4d7" stroke-width="0.35" stroke-linejoin="round"/>
<polygon points="420.0,394.0 428.7,379.2 455.2,395.3 446.5,408.4 436.1,404.7 428.7,407.2 416.3,402.3" fill="#8a5248" stroke="#8a5248" stroke-width="0.35" stroke-linejoin="round"/>
<polygon points="420.0,394.0 428.7,379.2 437.9,388.5 426.8,399.0 428.7,407.2 416.3,402.3" fill="#7c473f" stroke="#7c473f" stroke-width="0.35" stroke-linejoin="round"/>
<polygon points="455.2,395.3 462.8,399.3 462.3,400.6 454.7,396.4" fill="#f2f1f2" stroke="#f2f1f2" stroke-width="0.35" stroke-linejoin="round"/>
<polygon points="421.3,410.0 425.8,411.5 425.8,415.8 421.3,414.4" fill="#c9a77a" stroke="#c9a77a" stroke-width="0.35" stroke-linejoin="round"/>
<polygon points="422.0,410.8 425.1,411.9 425.1,415.1 422.0,414.0" fill="#8fd8e0" stroke="#8fd8e0" stroke-width="0.35" stroke-linejoin="round"/>
<polygon points="430.3,409.7 434.0,408.4 434.0,413.4 430.3,414.6" fill="#c9a77a" stroke="#c9a77a" stroke-width="0.35" stroke-linejoin="round"/>
<polygon points="430.8,410.1 433.4,409.2 433.4,412.9 430.8,413.8" fill="#8fd8e0" stroke="#8fd8e0" stroke-width="0.35" stroke-linejoin="round"/>
<polygon points="439.1,407.9 443.8,409.7 443.8,415.0 439.1,413.4" fill="#c9a77a" stroke="#c9a77a" stroke-width="0.35" stroke-linejoin="round"/>
<polygon points="439.8,408.8 443.1,410.1 443.1,414.1 439.8,412.9" fill="#8fd8e0" stroke="#8fd8e0" stroke-width="0.35" stroke-linejoin="round"/>
<polygon points="452.1,407.0 457.0,404.5 457.0,410.7 452.1,413.4" fill="#c9a77a" stroke="#c9a77a" stroke-width="0.35" stroke-linejoin="round"/>
<polygon points="452.8,407.4 456.3,405.6 456.3,410.2 452.8,412.2" fill="#8fd8e0" stroke="#8fd8e0" stroke-width="0.35" stroke-linejoin="round"/>
<circle cx="412.3" cy="403.9" r="3.0" fill="#3f8f3a"/>
<circle cx="412.7" cy="403.4" r="1.8" fill="#58a846"/>
<circle cx="435.7" cy="417.4" r="3.0" fill="#3f8f3a"/>
<circle cx="436.1" cy="416.9" r="1.8" fill="#58a846"/>
<circle cx="420.0" cy="422.0" r="2.2" fill="#3f8f3a"/>
<circle cx="420.4" cy="421.5" r="1.3" fill="#58a846"/>
<circle cx="427.1" cy="426.1" r="2.2" fill="#3f8f3a"/>
<circle cx="427.5" cy="425.6" r="1.3" fill="#58a846"/>
<circle cx="434.2" cy="430.0" r="2.2" fill="#3f8f3a"/>
<circle cx="434.6" cy="429.5" r="1.3" fill="#58a846"/>
<circle cx="443.8" cy="426.7" r="2.2" fill="#3f8f3a"/>
<circle cx="444.2" cy="426.2" r="1.3" fill="#58a846"/>
<circle cx="450.5" cy="422.7" r="2.2" fill="#3f8f3a"/>
<circle cx="450.9" cy="422.2" r="1.3" fill="#58a846"/>
<ellipse cx="408.6" cy="396.5" rx="4.2" ry="2.1" fill="#000" opacity="0.12"/>
<line x1="409.6" y1="396.5" x2="409.6" y2="388.5" stroke="#7a4a25" stroke-width="1.4560000000000002"/>
<circle cx="409.6" cy="385.3" r="5.2" fill="#2f7d33"/>
<circle cx="407.2" cy="386.6" r="3.6" fill="#2f7d33"/>
<circle cx="411.9" cy="386.4" r="3.6" fill="#2f7d33"/>
<circle cx="410.1" cy="383.0" r="3.6" fill="#2f7d33"/>
<circle cx="410.9" cy="384.5" r="3.9" fill="#4b9a3f"/>
<ellipse cx="421.5" cy="388.5" rx="3.4" ry="1.7" fill="#000" opacity="0.12"/>
<line x1="422.5" y1="388.5" x2="422.5" y2="382.5" stroke="#7a4a25" stroke-width="1.1760000000000002"/>
<circle cx="422.5" cy="380.1" r="4.2" fill="#2f7d33"/>
<circle cx="420.6" cy="381.2" r="2.9" fill="#2f7d33"/>
<circle cx="424.4" cy="381.0" r="2.9" fill="#2f7d33"/>
<circle cx="422.9" cy="378.2" r="2.9" fill="#2f7d33"/>
<circle cx="423.6" cy="379.5" r="3.2" fill="#4b9a3f"/>
<ellipse cx="382.7" cy="412.5" rx="4.8" ry="2.4" fill="#000" opacity="0.12"/>
<line x1="383.7" y1="412.5" x2="383.7" y2="401.5" stroke="#7a4a25" stroke-width="1.6800000000000002"/>
<circle cx="383.7" cy="397.7" r="6.0" fill="#2f7d33"/>
<circle cx="381.0" cy="399.2" r="4.2" fill="#2f7d33"/>
<circle cx="386.4" cy="398.9" r="4.2" fill="#2f7d33"/>
<circle cx="384.3" cy="395.0" r="4.2" fill="#2f7d33"/>
<circle cx="385.2" cy="396.8" r="4.5" fill="#4b9a3f"/>
<ellipse cx="463.8" cy="418.3" rx="4.4" ry="2.2" fill="#000" opacity="0.12"/>
<line x1="464.8" y1="418.3" x2="464.8" y2="408.8" stroke="#7a4a25" stroke-width="1.54"/>
<circle cx="464.8" cy="405.4" r="5.5" fill="#2f7d33"/>
<circle cx="462.3" cy="406.8" r="3.8" fill="#2f7d33"/>
<circle cx="467.2" cy="406.5" r="3.8" fill="#2f7d33"/>
<circle cx="465.3" cy="402.9" r="3.8" fill="#2f7d33"/>
<circle cx="466.1" cy="404.6" r="4.1" fill="#4b9a3f"/>
<ellipse cx="478.5" cy="416.8" rx="5.6" ry="2.8" fill="#000" opacity="0.12"/>
<line x1="479.5" y1="416.8" x2="479.5" y2="405.3" stroke="#7a4a25" stroke-width="1.9600000000000002"/>
<circle cx="479.5" cy="400.7" r="7.0" fill="#2f7d33"/>
<circle cx="476.4" cy="402.5" r="4.9" fill="#2f7d33"/>
<circle cx="482.7" cy="402.1" r="4.9" fill="#2f7d33"/>
<circle cx="480.2" cy="397.6" r="4.9" fill="#2f7d33"/>
<circle cx="481.3" cy="399.7" r="5.2" fill="#4b9a3f"/>
<polygon points="554.9,415.4 571.0,423.9 571.0,436.6 556.6,431.5" fill="#e9d18a" stroke="#e9d18a" stroke-width="0.35" stroke-linejoin="round"/>
<polygon points="542.2,412.9 549.8,408.6 559.2,418.8 561.7,419.7 571.0,428.1 571.0,436.6 542.2,425.6" fill="#eed995" stroke="#eed995" stroke-width="0.35" stroke-linejoin="round"/>
<polygon points="571.0,423.9 577.8,411.7 585.4,415.4 585.4,426.4 571.0,436.6" fill="#e4ca80" stroke="#e4ca80" stroke-width="0.35" stroke-linejoin="round"/>
<polygon points="543.1,408.6 552.4,394.2 585.1,413.7 583.7,415.4 577.8,411.7 570.5,423.9 559.2,418.0 554.9,405.3" fill="#3b7ba6" stroke="#3b7ba6" stroke-width="0.35" stroke-linejoin="round"/>
<polygon points="543.1,408.6 552.4,394.2 554.9,405.3 548.1,408.6 545.6,411.7" fill="#4586b2" stroke="#4586b2" stroke-width="0.35" stroke-linejoin="round"/>
<polygon points="549.8,407.8 556.9,403.6 560.0,418.5 554.9,421.4" fill="#2b6288" stroke="#2b6288" stroke-width="0.35" stroke-linejoin="round"/>
<polygon points="549.8,423.6 553.6,425.3 553.6,430.7 549.8,429.0" fill="#7a4326" stroke="#7a4326" stroke-width="0.35" stroke-linejoin="round"/>
<polygon points="543.9,418.5 546.9,420.0 546.9,423.6 543.9,422.0" fill="#7cc7d6" stroke="#7cc7d6" stroke-width="0.35" stroke-linejoin="round"/>
<polygon points="563.4,424.7 566.8,426.4 566.8,430.7 563.4,429.0" fill="#7cc7d6" stroke="#7cc7d6" stroke-width="0.35" stroke-linejoin="round"/>
<polygon points="576.1,420.5 579.5,418.8 579.5,424.7 576.1,426.4" fill="#7cc7d6" stroke="#7cc7d6" stroke-width="0.35" stroke-linejoin="round"/>
<polygon points="547.8,411.2 549.8,412.2 549.8,414.7 547.8,413.7" fill="#7cc7d6" stroke="#7cc7d6" stroke-width="0.35" stroke-linejoin="round"/>
<polygon points="548.1,420.5 555.8,422.5 556.9,420.5 549.3,418.1" fill="#4a8cb8" stroke="#4a8cb8" stroke-width="0.35" stroke-linejoin="round"/>
<polygon points="465.1,458.6 487.1,472.2 506.1,462.0 504.4,460.8 487.1,469.7 466.8,457.5" fill="#f3f1ee" stroke="#f3f1ee" stroke-width="0.35" stroke-linejoin="round"/>
<polygon points="466.8,446.8 493.1,457.8 488.0,470.0 466.8,458.1" fill="#efcbad" stroke="#efcbad" stroke-width="0.35" stroke-linejoin="round"/>
<polygon points="493.1,457.5 504.4,448.5 504.4,462.0 488.0,470.5 488.0,461.2" fill="#f6dcc2" stroke="#f6dcc2" stroke-width="0.35" stroke-linejoin="round"/>
<polygon points="465.9,445.9 476.1,433.7 504.9,447.6 493.9,457.5" fill="#e4584f" stroke="#e4584f" stroke-width="0.35" stroke-linejoin="round"/>
<polygon points="465.9,445.9 493.9,457.5 493.6,458.8 465.6,447.3" fill="#c8423b" stroke="#c8423b" stroke-width="0.35" stroke-linejoin="round"/>
<polygon points="493.9,455.3 499.0,452.4 499.0,463.7 493.9,466.6" fill="#a34632" stroke="#a34632" stroke-width="0.35" stroke-linejoin="round"/>
<polygon points="470.2,451.4 474.4,453.4 474.4,459.5 470.2,457.5" fill="#fff" stroke="#fff" stroke-width="0.35" stroke-linejoin="round"/>
<polygon points="470.8,452.2 473.8,453.8 473.8,458.7 470.8,457.1" fill="#a9c4cf" stroke="#a9c4cf" stroke-width="0.35" stroke-linejoin="round"/>
<polygon points="479.0,455.8 483.7,458.1 483.7,464.6 479.0,462.2" fill="#fff" stroke="#fff" stroke-width="0.35" stroke-linejoin="round"/>
<polygon points="479.7,456.6 483.0,458.5 483.0,463.7 479.7,461.8" fill="#a9c4cf" stroke="#a9c4cf" stroke-width="0.35" stroke-linejoin="round"/>
<circle cx="460.8" cy="457.8" r="2.7" fill="#4b9a3f"/>
<circle cx="461.2" cy="457.3" r="1.6" fill="#5fae48"/>
<circle cx="475.3" cy="465.9" r="2.7" fill="#4b9a3f"/>
<circle cx="475.7" cy="465.4" r="1.6" fill="#5fae48"/>
<circle cx="490.5" cy="473.9" r="2.7" fill="#4b9a3f"/>
<circle cx="490.9" cy="473.4" r="1.6" fill="#5fae48"/>
<ellipse cx="510.7" cy="462.0" rx="4.2" ry="2.1" fill="#000" opacity="0.12"/>
<line x1="511.7" y1="462.0" x2="511.7" y2="454.0" stroke="#7a4a25" stroke-width="1.4560000000000002"/>
<circle cx="511.7" cy="450.9" r="5.2" fill="#2f7d33"/>
<circle cx="509.4" cy="452.2" r="3.6" fill="#2f7d33"/>
<circle cx="514.0" cy="451.9" r="3.6" fill="#2f7d33"/>
<circle cx="512.2" cy="448.5" r="3.6" fill="#2f7d33"/>
<circle cx="513.0" cy="450.1" r="3.9" fill="#4b9a3f"/>
<ellipse cx="524.3" cy="438.3" rx="3.2" ry="1.6" fill="#000" opacity="0.12"/>
<line x1="525.3" y1="438.3" x2="525.3" y2="431.8" stroke="#7a4a25" stroke-width="1.12"/>
<circle cx="525.3" cy="429.6" r="4.0" fill="#2f7d33"/>
<circle cx="523.5" cy="430.6" r="2.8" fill="#2f7d33"/>
<circle cx="527.1" cy="430.4" r="2.8" fill="#2f7d33"/>
<circle cx="525.7" cy="427.8" r="2.8" fill="#2f7d33"/>
<circle cx="526.3" cy="429.0" r="3.0" fill="#4b9a3f"/>
<ellipse cx="530.5" cy="443.9" rx="3.5" ry="1.8" fill="#000" opacity="0.12"/>
<line x1="531.5" y1="443.9" x2="531.5" y2="435.9" stroke="#7a4a25" stroke-width="1.2320000000000002"/>
<circle cx="531.5" cy="433.4" r="4.4" fill="#2f7d33"/>
<circle cx="529.5" cy="434.5" r="3.1" fill="#2f7d33"/>
<circle cx="533.5" cy="434.3" r="3.1" fill="#2f7d33"/>
<circle cx="532.0" cy="431.4" r="3.1" fill="#2f7d33"/>
<circle cx="532.6" cy="432.7" r="3.3" fill="#4b9a3f"/>
</g>
<g id="tile1">
<polygon points="231.3,528.9 377.3,445.7 377.3,451.7 231.3,534.9" fill="#b5bc3c" stroke="#b5bc3c" stroke-width="0.35" stroke-linejoin="round"/>
<polygon points="225.9,356.6 377.3,445.7 231.3,528.9 79.6,438.9" fill="#d5db5e" stroke="#d5db5e" stroke-width="0.35" stroke-linejoin="round"/>
<polygon points="62.9,448.7 76.5,439.4 79.6,438.9 231.3,528.9 227.8,531.7 217.7,537.6" fill="#676d75" stroke="#676d75" stroke-width="0.35" stroke-linejoin="round"/>
<polygon points="62.9,448.7 217.7,537.6 217.7,543.1 62.9,454.2" fill="#3d4247" stroke="#3d4247" stroke-width="0.35" stroke-linejoin="round"/>
<polygon points="217.7,537.6 227.8,531.7 231.3,529.5 231.3,535.5 227.8,536.7 217.7,543.1" fill="#72787f" stroke="#72787f" stroke-width="0.35" stroke-linejoin="round"/>
<polygon points="76.5,439.2 144.3,478.0 142.0,479.5 74.2,440.7" fill="#7d838a" stroke="#7d838a" stroke-width="0.35" stroke-linejoin="round"/>
<polygon points="76.5,437.6 144.3,476.4 142.0,477.9 74.2,439.1" fill="#8c9198" stroke="#8c9198" stroke-width="0.35" stroke-linejoin="round"/>
<polygon points="74.2,439.1 142.0,477.9 142.0,479.5 74.2,440.7" fill="#7a8087" stroke="#7a8087" stroke-width="0.35" stroke-linejoin="round"/>
<polygon points="161.9,489.1 230.3,528.4 228.0,529.9 159.6,490.6" fill="#7d838a" stroke="#7d838a" stroke-width="0.35" stroke-linejoin="round"/>
<polygon points="161.9,487.5 230.3,526.8 228.0,528.3 159.6,489.0" fill="#8c9198" stroke="#8c9198" stroke-width="0.35" stroke-linejoin="round"/>
<polygon points="159.6,489.0 228.0,528.3 228.0,529.9 159.6,490.6" fill="#7a8087" stroke="#7a8087" stroke-width="0.35" stroke-linejoin="round"/>
<polygon points="93.1,436.6 116.2,423.7 119.0,425.3 117.7,431.8 153.2,451.4 158.7,447.7 183.7,435.1 186.8,439.2 170.7,455.5 180.9,473.0 199.4,481.3 219.7,479.5 219.7,490.6 197.5,490.9 179.1,483.5 161.9,489.1 144.3,478.0 161.9,469.9" fill="#676d75" stroke="#676d75" stroke-width="0.35" stroke-linejoin="round"/>
<polygon points="153.2,451.4 158.7,447.7 183.7,435.1 186.8,439.2 156.9,454.5" fill="#a6a9ad" stroke="#a6a9ad" stroke-width="0.35" stroke-linejoin="round"/>
<polygon points="246.2,373.9 267.8,385.0 276.3,389.3 276.3,441.7 236.2,441.7 228.5,426.3 232.4,403.2 245.5,395.5" fill="#676d75" stroke="#676d75" stroke-width="0.35" stroke-linejoin="round"/>
<polygon points="232.4,400.9 261.6,388.5 264.3,393.2 236.2,408.1" fill="#a6a9ad" stroke="#a6a9ad" stroke-width="0.35" stroke-linejoin="round"/>
<polygon points="245.5,385.0 263.7,389.6 261.6,391.2 245.5,394.2" fill="#d5db5e" stroke="#d5db5e" stroke-width="0.35" stroke-linejoin="round"/>
<polygon points="237.5,417.3 267.0,401.6 267.0,417.0 248.2,427.5" fill="#e8a391" stroke="#e8a391" stroke-width="1.6" stroke-linejoin="round"/>
<polygon points="350.5,427.4 370.6,439.8 310.5,476.8 297.8,469.4 297.8,460.2 309.3,466.0 332.4,454.4 350.5,442.8" fill="#676d75" stroke="#676d75" stroke-width="0.35" stroke-linejoin="round"/>
<path d="M204.7 500.1 L246.2 478.2 L305.1 479.3 L237.0 520.9 Z" fill="#e8a391" stroke="#e8a391" stroke-width="6" stroke-linejoin="round"/>
<polygon points="220.1,410.2 195.8,395.9 195.8,328.2 220.1,342.5" fill="#e3c57a" stroke="#e3c57a" stroke-width="0.35" stroke-linejoin="round"/>
<polygon points="220.1,410.2 246.0,394.9 246.0,327.2 220.1,342.5" fill="#f0db98" stroke="#f0db98" stroke-width="0.35" stroke-linejoin="round"/>
<polygon points="220.1,410.2 214.1,406.7 214.1,341.0 220.1,344.5" fill="#d4b062" stroke="#d4b062" stroke-width="0.35" stroke-linejoin="round"/>
<polygon points="220.1,410.2 225.6,407.0 225.6,341.3 220.1,344.5" fill="#e2c67c" stroke="#e2c67c" stroke-width="0.35" stroke-linejoin="round"/>
<polygon points="220.1,343.7 193.8,328.2 221.7,311.7 248.0,327.2" fill="#f0e3b2" stroke="#f0e3b2" stroke-width="0.35" stroke-linejoin="round"/>
<polygon points="220.1,340.4 196.8,326.7 221.7,312.0 245.0,325.7" fill="#d9ceb1" stroke="#d9ceb1" stroke-width="0.35" stroke-linejoin="round"/>
<polygon points="221.1,344.6 194.8,329.1 194.8,326.6 221.1,342.1" fill="#e9d48f" stroke="#e9d48f" stroke-width="0.35" stroke-linejoin="round"/>
<polygon points="219.1,344.6 247.0,328.1 247.0,325.6 219.1,342.1" fill="#f6e7b4" stroke="#f6e7b4" stroke-width="0.35" stroke-linejoin="round"/>
<polygon points="208.6,401.4 203.1,398.2 203.1,335.5 208.6,338.7" fill="#d8562b" stroke="#d8562b" stroke-width="0.35" stroke-linejoin="round"/>
<polygon points="226.6,404.4 234.1,399.9 234.1,337.2 226.6,341.7" fill="#da5029" stroke="#da5029" stroke-width="0.35" stroke-linejoin="round"/>
<polygon points="212.9,396.2 209.9,394.4 209.9,387.8 212.9,389.6" fill="#9a7a46" stroke="#9a7a46" stroke-width="0.35" stroke-linejoin="round"/>
<polygon points="212.3,395.1 210.5,394.1 210.5,388.9 212.3,389.9" fill="#8fcfe0" stroke="#8fcfe0" stroke-width="0.35" stroke-linejoin="round"/>
<polygon points="207.4,392.9 204.4,391.2 204.4,384.6 207.4,386.3" fill="#b8481f" stroke="#b8481f" stroke-width="0.35" stroke-linejoin="round"/>
<polygon points="206.8,391.9 205.0,390.8 205.0,385.6 206.8,386.7" fill="#8fcfe0" stroke="#8fcfe0" stroke-width="0.35" stroke-linejoin="round"/>
<polygon points="201.3,389.3 198.3,387.6 198.3,381.0 201.3,382.7" fill="#9a7a46" stroke="#9a7a46" stroke-width="0.35" stroke-linejoin="round"/>
<polygon points="200.7,388.3 198.9,387.2 198.9,382.0 200.7,383.1" fill="#8fcfe0" stroke="#8fcfe0" stroke-width="0.35" stroke-linejoin="round"/>
<polygon points="238.0,389.9 241.2,388.0 241.2,381.4 238.0,383.3" fill="#9a7a46" stroke="#9a7a46" stroke-width="0.35" stroke-linejoin="round"/>
<polygon points="238.6,388.8 240.6,387.6 240.6,382.4 238.6,383.6" fill="#8fcfe0" stroke="#8fcfe0" stroke-width="0.35" stroke-linejoin="round"/>
<polygon points="227.7,396.5 229.9,395.2 229.9,388.2 227.7,389.5" fill="#f08a3a" stroke="#f08a3a" stroke-width="0.35" stroke-linejoin="round"/>
<polygon points="230.7,394.8 232.9,393.5 232.9,386.5 230.7,387.8" fill="#b8451f" stroke="#b8451f" stroke-width="0.35" stroke-linejoin="round"/>
<polygon points="217.7,399.6 215.5,398.3 215.5,391.3 217.7,392.6" fill="#a87432" stroke="#a87432" stroke-width="0.35" stroke-linejoin="round"/>
<polygon points="222.3,399.1 224.3,397.9 224.3,391.5 222.3,392.7" fill="#8a6a3a" stroke="#8a6a3a" stroke-width="0.35" stroke-linejoin="round"/>
<polygon points="222.7,398.3 223.9,397.6 223.9,392.4 222.7,393.1" fill="#8fcfe0" stroke="#8fcfe0" stroke-width="0.35" stroke-linejoin="round"/>
<polygon points="220.9,403.9 213.5,399.5 213.5,395.1 220.9,399.5" fill="#efece2" stroke="#efece2" stroke-width="0.35" stroke-linejoin="round"/>
<polygon points="219.3,403.9 226.1,399.9 226.1,395.5 219.3,399.5" fill="#fbf9f2" stroke="#fbf9f2" stroke-width="0.35" stroke-linejoin="round"/>
<polygon points="220.1,400.0 212.7,395.6 214.1,394.8 220.1,398.3 225.5,395.1 226.9,396.0" fill="#ffffff" stroke="#ffffff" stroke-width="0.35" stroke-linejoin="round"/>
<polygon points="212.9,384.2 209.9,382.5 209.9,375.9 212.9,377.6" fill="#9a7a46" stroke="#9a7a46" stroke-width="0.35" stroke-linejoin="round"/>
<polygon points="212.3,383.2 210.5,382.1 210.5,376.9 212.3,378.0" fill="#8fcfe0" stroke="#8fcfe0" stroke-width="0.35" stroke-linejoin="round"/>
<polygon points="207.4,381.0 204.4,379.2 204.4,372.6 207.4,374.4" fill="#b8481f" stroke="#b8481f" stroke-width="0.35" stroke-linejoin="round"/>
<polygon points="206.8,379.9 205.0,378.9 205.0,373.7 206.8,374.7" fill="#8fcfe0" stroke="#8fcfe0" stroke-width="0.35" stroke-linejoin="round"/>
<polygon points="201.3,377.4 198.3,375.6 198.3,369.0 201.3,370.8" fill="#9a7a46" stroke="#9a7a46" stroke-width="0.35" stroke-linejoin="round"/>
<polygon points="200.7,376.3 198.9,375.3 198.9,370.1 200.7,371.1" fill="#8fcfe0" stroke="#8fcfe0" stroke-width="0.35" stroke-linejoin="round"/>
<polygon points="238.0,377.9 241.2,376.0 241.2,369.4 238.0,371.3" fill="#9a7a46" stroke="#9a7a46" stroke-width="0.35" stroke-linejoin="round"/>
<polygon points="238.6,376.9 240.6,375.7 240.6,370.5 238.6,371.7" fill="#8fcfe0" stroke="#8fcfe0" stroke-width="0.35" stroke-linejoin="round"/>
<polygon points="227.7,384.6 229.9,383.3 229.9,376.3 227.7,377.6" fill="#f08a3a" stroke="#f08a3a" stroke-width="0.35" stroke-linejoin="round"/>
<polygon points="230.7,382.8 232.9,381.5 232.9,374.5 230.7,375.8" fill="#b8451f" stroke="#b8451f" stroke-width="0.35" stroke-linejoin="round"/>
<polygon points="217.7,387.7 215.5,386.4 215.5,379.4 217.7,380.7" fill="#a87432" stroke="#a87432" stroke-width="0.35" stroke-linejoin="round"/>
<polygon points="222.3,387.2 224.3,386.0 224.3,379.6 222.3,380.8" fill="#8a6a3a" stroke="#8a6a3a" stroke-width="0.35" stroke-linejoin="round"/>
<polygon points="222.7,386.3 223.9,385.6 223.9,380.4 222.7,381.1" fill="#8fcfe0" stroke="#8fcfe0" stroke-width="0.35" stroke-linejoin="round"/>
<polygon points="220.9,391.9 213.5,387.6 213.5,383.2 220.9,387.5" fill="#efece2" stroke="#efece2" stroke-width="0.35" stroke-linejoin="round"/>
<polygon points="219.3,391.9 226.1,387.9 226.1,383.5 219.3,387.5" fill="#fbf9f2" stroke="#fbf9f2" stroke-width="0.35" stroke-linejoin="round"/>
<polygon points="220.1,388.0 212.7,383.7 214.1,382.8 220.1,386.4 225.5,383.2 226.9,384.0" fill="#ffffff" stroke="#ffffff" stroke-width="0.35" stroke-linejoin="round"/>
<polygon points="212.9,372.3 209.9,370.5 209.9,363.9 212.9,365.7" fill="#9a7a46" stroke="#9a7a46" stroke-width="0.35" stroke-linejoin="round"/>
<polygon points="212.3,371.2 210.5,370.2 210.5,365.0 212.3,366.0" fill="#8fcfe0" stroke="#8fcfe0" stroke-width="0.35" stroke-linejoin="round"/>
<polygon points="207.4,369.0 204.4,367.3 204.4,360.7 207.4,362.4" fill="#b8481f" stroke="#b8481f" stroke-width="0.35" stroke-linejoin="round"/>
<polygon points="206.8,368.0 205.0,366.9 205.0,361.7 206.8,362.8" fill="#8fcfe0" stroke="#8fcfe0" stroke-width="0.35" stroke-linejoin="round"/>
<polygon points="201.3,365.4 198.3,363.7 198.3,357.1 201.3,358.8" fill="#9a7a46" stroke="#9a7a46" stroke-width="0.35" stroke-linejoin="round"/>
<polygon points="200.7,364.4 198.9,363.3 198.9,358.1 200.7,359.2" fill="#8fcfe0" stroke="#8fcfe0" stroke-width="0.35" stroke-linejoin="round"/>
<polygon points="238.0,366.0 241.2,364.1 241.2,357.5 238.0,359.4" fill="#9a7a46" stroke="#9a7a46" stroke-width="0.35" stroke-linejoin="round"/>
<polygon points="238.6,364.9 240.6,363.7 240.6,358.5 238.6,359.7" fill="#8fcfe0" stroke="#8fcfe0" stroke-width="0.35" stroke-linejoin="round"/>
<polygon points="227.7,372.7 229.9,371.4 229.9,364.4 227.7,365.7" fill="#f08a3a" stroke="#f08a3a" stroke-width="0.35" stroke-linejoin="round"/>
<polygon points="230.7,370.9 232.9,369.6 232.9,362.6 230.7,363.9" fill="#b8451f" stroke="#b8451f" stroke-width="0.35" stroke-linejoin="round"/>
<polygon points="217.7,375.7 215.5,374.4 215.5,367.4 217.7,368.7" fill="#a87432" stroke="#a87432" stroke-width="0.35" stroke-linejoin="round"/>
<polygon points="222.3,375.2 224.3,374.1 224.3,367.7 222.3,368.8" fill="#8a6a3a" stroke="#8a6a3a" stroke-width="0.35" stroke-linejoin="round"/>
<polygon points="222.7,374.4 223.9,373.7 223.9,368.5 222.7,369.2" fill="#8fcfe0" stroke="#8fcfe0" stroke-width="0.35" stroke-linejoin="round"/>
<polygon points="220.9,380.0 213.5,375.6 213.5,371.2 220.9,375.6" fill="#efece2" stroke="#efece2" stroke-width="0.35" stroke-linejoin="round"/>
<polygon points="219.3,380.0 226.1,376.0 226.1,371.6 219.3,375.6" fill="#fbf9f2" stroke="#fbf9f2" stroke-width="0.35" stroke-linejoin="round"/>
<polygon points="220.1,376.1 212.7,371.7 214.1,370.9 220.1,374.4 225.5,371.2 226.9,372.1" fill="#ffffff" stroke="#ffffff" stroke-width="0.35" stroke-linejoin="round"/>
<polygon points="212.9,360.3 209.9,358.6 209.9,352.0 212.9,353.7" fill="#9a7a46" stroke="#9a7a46" stroke-width="0.35" stroke-linejoin="round"/>
<polygon points="212.3,359.3 210.5,358.2 210.5,353.0 212.3,354.1" fill="#8fcfe0" stroke="#8fcfe0" stroke-width="0.35" stroke-linejoin="round"/>
<polygon points="207.4,357.1 204.4,355.3 204.4,348.7 207.4,350.5" fill="#b8481f" stroke="#b8481f" stroke-width="0.35" stroke-linejoin="round"/>
<polygon points="206.8,356.0 205.0,355.0 205.0,349.8 206.8,350.8" fill="#8fcfe0" stroke="#8fcfe0" stroke-width="0.35" stroke-linejoin="round"/>
<polygon points="201.3,353.5 198.3,351.7 198.3,345.1 201.3,346.9" fill="#9a7a46" stroke="#9a7a46" stroke-width="0.35" stroke-linejoin="round"/>
<polygon points="200.7,352.4 198.9,351.4 198.9,346.2 200.7,347.2" fill="#8fcfe0" stroke="#8fcfe0" stroke-width="0.35" stroke-linejoin="round"/>
<polygon points="238.0,354.0 241.2,352.1 241.2,345.5 238.0,347.4" fill="#9a7a46" stroke="#9a7a46" stroke-width="0.35" stroke-linejoin="round"/>
<polygon points="238.6,353.0 240.6,351.8 240.6,346.6 238.6,347.8" fill="#8fcfe0" stroke="#8fcfe0" stroke-width="0.35" stroke-linejoin="round"/>
<polygon points="227.7,360.7 229.9,359.4 229.9,352.4 227.7,353.7" fill="#f08a3a" stroke="#f08a3a" stroke-width="0.35" stroke-linejoin="round"/>
<polygon points="230.7,358.9 232.9,357.6 232.9,350.6 230.7,351.9" fill="#b8451f" stroke="#b8451f" stroke-width="0.35" stroke-linejoin="round"/>
<polygon points="217.7,363.8 215.5,362.5 215.5,355.5 217.7,356.8" fill="#a87432" stroke="#a87432" stroke-width="0.35" stroke-linejoin="round"/>
<polygon points="222.3,363.3 224.3,362.1 224.3,355.7 222.3,356.9" fill="#8a6a3a" stroke="#8a6a3a" stroke-width="0.35" stroke-linejoin="round"/>
<polygon points="222.7,362.5 223.9,361.7 223.9,356.5 222.7,357.3" fill="#8fcfe0" stroke="#8fcfe0" stroke-width="0.35" stroke-linejoin="round"/>
<polygon points="220.9,368.1 213.5,363.7 213.5,359.3 220.9,363.7" fill="#efece2" stroke="#efece2" stroke-width="0.35" stroke-linejoin="round"/>
<polygon points="219.3,368.1 226.1,364.1 226.1,359.7 219.3,363.7" fill="#fbf9f2" stroke="#fbf9f2" stroke-width="0.35" stroke-linejoin="round"/>
<polygon points="220.1,364.1 212.7,359.8 214.1,358.9 220.1,362.5 225.5,359.3 226.9,360.1" fill="#ffffff" stroke="#ffffff" stroke-width="0.35" stroke-linejoin="round"/>
<polygon points="212.9,348.4 209.9,346.6 209.9,340.0 212.9,341.8" fill="#9a7a46" stroke="#9a7a46" stroke-width="0.35" stroke-linejoin="round"/>
<polygon points="212.3,347.3 210.5,346.3 210.5,341.1 212.3,342.1" fill="#8fcfe0" stroke="#8fcfe0" stroke-width="0.35" stroke-linejoin="round"/>
<polygon points="207.4,345.2 204.4,343.4 204.4,336.8 207.4,338.6" fill="#b8481f" stroke="#b8481f" stroke-width="0.35" stroke-linejoin="round"/>
<polygon points="206.8,344.1 205.0,343.0 205.0,337.8 206.8,338.9" fill="#8fcfe0" stroke="#8fcfe0" stroke-width="0.35" stroke-linejoin="round"/>
<polygon points="201.3,341.6 198.3,339.8 198.3,333.2 201.3,335.0" fill="#9a7a46" stroke="#9a7a46" stroke-width="0.35" stroke-linejoin="round"/>
<polygon points="200.7,340.5 198.9,339.4 198.9,334.2 200.7,335.3" fill="#8fcfe0" stroke="#8fcfe0" stroke-width="0.35" stroke-linejoin="round"/>
<polygon points="238.0,342.1 241.2,340.2 241.2,333.6 238.0,335.5" fill="#9a7a46" stroke="#9a7a46" stroke-width="0.35" stroke-linejoin="round"/>
<polygon points="238.6,341.0 240.6,339.9 240.6,334.7 238.6,335.8" fill="#8fcfe0" stroke="#8fcfe0" stroke-width="0.35" stroke-linejoin="round"/>
<polygon points="227.7,348.8 229.9,347.5 229.9,340.5 227.7,341.8" fill="#f08a3a" stroke="#f08a3a" stroke-width="0.35" stroke-linejoin="round"/>
<polygon points="230.7,347.0 232.9,345.7 232.9,338.7 230.7,340.0" fill="#b8451f" stroke="#b8451f" stroke-width="0.35" stroke-linejoin="round"/>
<polygon points="217.7,351.8 215.5,350.5 215.5,343.5 217.7,344.8" fill="#a87432" stroke="#a87432" stroke-width="0.35" stroke-linejoin="round"/>
<polygon points="222.3,351.4 224.3,350.2 224.3,343.8 222.3,345.0" fill="#8a6a3a" stroke="#8a6a3a" stroke-width="0.35" stroke-linejoin="round"/>
<polygon points="222.7,350.5 223.9,349.8 223.9,344.6 222.7,345.3" fill="#8fcfe0" stroke="#8fcfe0" stroke-width="0.35" stroke-linejoin="round"/>
<polygon points="220.9,356.1 213.5,351.8 213.5,347.4 220.9,351.7" fill="#efece2" stroke="#efece2" stroke-width="0.35" stroke-linejoin="round"/>
<polygon points="219.3,356.1 226.1,352.1 226.1,347.7 219.3,351.7" fill="#fbf9f2" stroke="#fbf9f2" stroke-width="0.35" stroke-linejoin="round"/>
<polygon points="220.1,352.2 212.7,347.8 214.1,347.0 220.1,350.5 225.5,347.4 226.9,348.2" fill="#ffffff" stroke="#ffffff" stroke-width="0.35" stroke-linejoin="round"/>
<polygon points="227.6,405.8 233.1,402.5 233.1,395.0 227.6,398.3" fill="#c96a32" stroke="#c96a32" stroke-width="0.35" stroke-linejoin="round"/>
<polygon points="228.7,405.1 232.1,403.1 232.1,397.1 228.7,399.1" fill="#8a4a22" stroke="#8a4a22" stroke-width="0.35" stroke-linejoin="round"/>
<polygon points="202.8,328.3 208.8,324.9 208.8,326.9 202.8,330.3" fill="#dfe6ea" stroke="#dfe6ea" stroke-width="0.35" stroke-linejoin="round"/>
<polygon points="209.8,324.2 215.8,320.8 215.8,322.8 209.8,326.2" fill="#dfe6ea" stroke="#dfe6ea" stroke-width="0.35" stroke-linejoin="round"/>
<ellipse cx="186.3" cy="395.5" rx="3.8" ry="1.9" fill="#000" opacity="0.12"/>
<line x1="187.3" y1="395.5" x2="187.3" y2="387.0" stroke="#5a3a1a" stroke-width="1.344"/>
<circle cx="187.3" cy="384.2" r="4.8" fill="#2f7d33"/>
<circle cx="185.1" cy="385.4" r="3.4" fill="#2f7d33"/>
<circle cx="189.5" cy="385.1" r="3.4" fill="#2f7d33"/>
<circle cx="187.8" cy="382.0" r="3.4" fill="#2f7d33"/>
<circle cx="188.5" cy="383.4" r="3.6" fill="#3f8f3a"/>
<ellipse cx="240.2" cy="394.1" rx="1.4" ry="3.6" fill="#2f7d33"/>
<ellipse cx="228.2" cy="397.5" rx="1.4" ry="3.6" fill="#2f7d33"/>
<ellipse cx="249.8" cy="409.3" rx="2.9" ry="7.2" fill="#5fae45"/>
<ellipse cx="250.5" cy="409.3" rx="1.6" ry="6.0" fill="#84c65a"/>
<ellipse cx="259.3" cy="404.7" rx="2.9" ry="7.2" fill="#5fae45"/>
<ellipse cx="260.0" cy="404.7" rx="1.6" ry="6.0" fill="#84c65a"/>
<ellipse cx="266.6" cy="398.2" rx="2.9" ry="7.2" fill="#5fae45"/>
<ellipse cx="267.3" cy="398.2" rx="1.6" ry="6.0" fill="#84c65a"/>
<ellipse cx="123.0" cy="431.8" rx="4.2" ry="2.1" fill="#000" opacity="0.12"/>
<line x1="124.0" y1="431.8" x2="124.0" y2="423.8" stroke="#5a3a1a" stroke-width="1.4560000000000002"/>
<circle cx="124.0" cy="420.6" r="5.2" fill="#2f7d33"/>
<circle cx="121.6" cy="421.9" r="3.6" fill="#2f7d33"/>
<circle cx="126.3" cy="421.7" r="3.6" fill="#2f7d33"/>
<circle cx="124.5" cy="418.3" r="3.6" fill="#2f7d33"/>
<circle cx="125.3" cy="419.9" r="3.9" fill="#3f8f3a"/>
<polygon points="155.8,446.5 132.7,432.9 132.7,365.2 155.8,378.8" fill="#e3c57a" stroke="#e3c57a" stroke-width="0.35" stroke-linejoin="round"/>
<polygon points="155.8,446.5 181.9,431.1 181.9,363.4 155.8,378.8" fill="#f0db98" stroke="#f0db98" stroke-width="0.35" stroke-linejoin="round"/>
<polygon points="155.8,446.5 149.8,443.0 149.8,377.3 155.8,380.8" fill="#d4b062" stroke="#d4b062" stroke-width="0.35" stroke-linejoin="round"/>
<polygon points="155.8,446.5 161.3,443.3 161.3,377.6 155.8,380.8" fill="#e2c67c" stroke="#e2c67c" stroke-width="0.35" stroke-linejoin="round"/>
<polygon points="155.8,380.0 130.7,365.2 158.8,348.6 183.9,363.4" fill="#f0e3b2" stroke="#f0e3b2" stroke-width="0.35" stroke-linejoin="round"/>
<polygon points="155.8,376.7 133.7,363.7 158.8,348.9 180.9,361.9" fill="#d9ceb1" stroke="#d9ceb1" stroke-width="0.35" stroke-linejoin="round"/>
<polygon points="156.8,380.9 131.7,366.1 131.7,363.6 156.8,378.4" fill="#e9d48f" stroke="#e9d48f" stroke-width="0.35" stroke-linejoin="round"/>
<polygon points="154.8,380.9 182.9,364.3 182.9,361.8 154.8,378.4" fill="#f6e7b4" stroke="#f6e7b4" stroke-width="0.35" stroke-linejoin="round"/>
<polygon points="144.3,437.7 138.8,434.5 138.8,371.8 144.3,375.0" fill="#d8562b" stroke="#d8562b" stroke-width="0.35" stroke-linejoin="round"/>
<polygon points="162.3,440.7 169.8,436.2 169.8,373.5 162.3,378.0" fill="#da5029" stroke="#da5029" stroke-width="0.35" stroke-linejoin="round"/>
<polygon points="148.6,432.5 145.6,430.7 145.6,424.1 148.6,425.9" fill="#9a7a46" stroke="#9a7a46" stroke-width="0.35" stroke-linejoin="round"/>
<polygon points="148.0,431.4 146.2,430.4 146.2,425.2 148.0,426.2" fill="#8fcfe0" stroke="#8fcfe0" stroke-width="0.35" stroke-linejoin="round"/>
<polygon points="143.1,429.2 140.1,427.5 140.1,420.9 143.1,422.6" fill="#b8481f" stroke="#b8481f" stroke-width="0.35" stroke-linejoin="round"/>
<polygon points="142.5,428.2 140.7,427.1 140.7,421.9 142.5,423.0" fill="#8fcfe0" stroke="#8fcfe0" stroke-width="0.35" stroke-linejoin="round"/>
<polygon points="137.0,425.6 134.0,423.9 134.0,417.3 137.0,419.0" fill="#9a7a46" stroke="#9a7a46" stroke-width="0.35" stroke-linejoin="round"/>
<polygon points="136.4,424.6 134.6,423.5 134.6,418.3 136.4,419.4" fill="#8fcfe0" stroke="#8fcfe0" stroke-width="0.35" stroke-linejoin="round"/>
<polygon points="173.7,426.2 176.9,424.3 176.9,417.7 173.7,419.6" fill="#9a7a46" stroke="#9a7a46" stroke-width="0.35" stroke-linejoin="round"/>
<polygon points="174.3,425.1 176.3,423.9 176.3,418.7 174.3,419.9" fill="#8fcfe0" stroke="#8fcfe0" stroke-width="0.35" stroke-linejoin="round"/>
<polygon points="163.4,432.8 165.6,431.5 165.6,424.5 163.4,425.8" fill="#f08a3a" stroke="#f08a3a" stroke-width="0.35" stroke-linejoin="round"/>
<polygon points="166.4,431.1 168.6,429.8 168.6,422.8 166.4,424.1" fill="#b8451f" stroke="#b8451f" stroke-width="0.35" stroke-linejoin="round"/>
<polygon points="153.4,435.9 151.2,434.6 151.2,427.6 153.4,428.9" fill="#a87432" stroke="#a87432" stroke-width="0.35" stroke-linejoin="round"/>
<polygon points="158.0,435.4 160.0,434.2 160.0,427.8 158.0,429.0" fill="#8a6a3a" stroke="#8a6a3a" stroke-width="0.35" stroke-linejoin="round"/>
<polygon points="158.4,434.6 159.6,433.9 159.6,428.7 158.4,429.4" fill="#8fcfe0" stroke="#8fcfe0" stroke-width="0.35" stroke-linejoin="round"/>
<polygon points="156.6,440.2 149.2,435.8 149.2,431.4 156.6,435.8" fill="#efece2" stroke="#efece2" stroke-width="0.35" stroke-linejoin="round"/>
<polygon points="155.0,440.2 161.8,436.2 161.8,431.8 155.0,435.8" fill="#fbf9f2" stroke="#fbf9f2" stroke-width="0.35" stroke-linejoin="round"/>
<polygon points="155.8,436.3 148.4,431.9 149.8,431.1 155.8,434.6 161.2,431.4 162.6,432.3" fill="#ffffff" stroke="#ffffff" stroke-width="0.35" stroke-linejoin="round"/>
<polygon points="148.6,420.5 145.6,418.8 145.6,412.2 148.6,413.9" fill="#9a7a46" stroke="#9a7a46" stroke-width="0.35" stroke-linejoin="round"/>
<polygon points="148.0,419.5 146.2,418.4 146.2,413.2 148.0,414.3" fill="#8fcfe0" stroke="#8fcfe0" stroke-width="0.35" stroke-linejoin="round"/>
<polygon points="143.1,417.3 140.1,415.5 140.1,408.9 143.1,410.7" fill="#b8481f" stroke="#b8481f" stroke-width="0.35" stroke-linejoin="round"/>
<polygon points="142.5,416.2 140.7,415.2 140.7,410.0 142.5,411.0" fill="#8fcfe0" stroke="#8fcfe0" stroke-width="0.35" stroke-linejoin="round"/>
<polygon points="137.0,413.7 134.0,411.9 134.0,405.3 137.0,407.1" fill="#9a7a46" stroke="#9a7a46" stroke-width="0.35" stroke-linejoin="round"/>
<polygon points="136.4,412.6 134.6,411.6 134.6,406.4 136.4,407.4" fill="#8fcfe0" stroke="#8fcfe0" stroke-width="0.35" stroke-linejoin="round"/>
<polygon points="173.7,414.2 176.9,412.3 176.9,405.7 173.7,407.6" fill="#9a7a46" stroke="#9a7a46" stroke-width="0.35" stroke-linejoin="round"/>
<polygon points="174.3,413.2 176.3,412.0 176.3,406.8 174.3,408.0" fill="#8fcfe0" stroke="#8fcfe0" stroke-width="0.35" stroke-linejoin="round"/>
<polygon points="163.4,420.9 165.6,419.6 165.6,412.6 163.4,413.9" fill="#f08a3a" stroke="#f08a3a" stroke-width="0.35" stroke-linejoin="round"/>
<polygon points="166.4,419.1 168.6,417.8 168.6,410.8 166.4,412.1" fill="#b8451f" stroke="#b8451f" stroke-width="0.35" stroke-linejoin="round"/>
<polygon points="153.4,424.0 151.2,422.7 151.2,415.7 153.4,417.0" fill="#a87432" stroke="#a87432" stroke-width="0.35" stroke-linejoin="round"/>
<polygon points="158.0,423.5 160.0,422.3 160.0,415.9 158.0,417.1" fill="#8a6a3a" stroke="#8a6a3a" stroke-width="0.35" stroke-linejoin="round"/>
<polygon points="158.4,422.6 159.6,421.9 159.6,416.7 158.4,417.4" fill="#8fcfe0" stroke="#8fcfe0" stroke-width="0.35" stroke-linejoin="round"/>
<polygon points="156.6,428.2 149.2,423.9 149.2,419.5 156.6,423.8" fill="#efece2" stroke="#efece2" stroke-width="0.35" stroke-linejoin="round"/>
<polygon points="155.0,428.2 161.8,424.2 161.8,419.8 155.0,423.8" fill="#fbf9f2" stroke="#fbf9f2" stroke-width="0.35" stroke-linejoin="round"/>
<polygon points="155.8,424.3 148.4,420.0 149.8,419.1 155.8,422.7 161.2,419.5 162.6,420.3" fill="#ffffff" stroke="#ffffff" stroke-width="0.35" stroke-linejoin="round"/>
<polygon points="148.6,408.6 145.6,406.8 145.6,400.2 148.6,402.0" fill="#9a7a46" stroke="#9a7a46" stroke-width="0.35" stroke-linejoin="round"/>
<polygon points="148.0,407.5 146.2,406.5 146.2,401.3 148.0,402.3" fill="#8fcfe0" stroke="#8fcfe0" stroke-width="0.35" stroke-linejoin="round"/>
<polygon points="143.1,405.3 140.1,403.6 140.1,397.0 143.1,398.7" fill="#b8481f" stroke="#b8481f" stroke-width="0.35" stroke-linejoin="round"/>
<polygon points="142.5,404.3 140.7,403.2 140.7,398.0 142.5,399.1" fill="#8fcfe0" stroke="#8fcfe0" stroke-width="0.35" stroke-linejoin="round"/>
<polygon points="137.0,401.7 134.0,400.0 134.0,393.4 137.0,395.1" fill="#9a7a46" stroke="#9a7a46" stroke-width="0.35" stroke-linejoin="round"/>
<polygon points="136.4,400.7 134.6,399.6 134.6,394.4 136.4,395.5" fill="#8fcfe0" stroke="#8fcfe0" stroke-width="0.35" stroke-linejoin="round"/>
<polygon points="173.7,402.3 176.9,400.4 176.9,393.8 173.7,395.7" fill="#9a7a46" stroke="#9a7a46" stroke-width="0.35" stroke-linejoin="round"/>
<polygon points="174.3,401.2 176.3,400.0 176.3,394.8 174.3,396.0" fill="#8fcfe0" stroke="#8fcfe0" stroke-width="0.35" stroke-linejoin="round"/>
<polygon points="163.4,409.0 165.6,407.7 165.6,400.7 163.4,402.0" fill="#f08a3a" stroke="#f08a3a" stroke-width="0.35" stroke-linejoin="round"/>
<polygon points="166.4,407.2 168.6,405.9 168.6,398.9 166.4,400.2" fill="#b8451f" stroke="#b8451f" stroke-width="0.35" stroke-linejoin="round"/>
<polygon points="153.4,412.0 151.2,410.7 151.2,403.7 153.4,405.0" fill="#a87432" stroke="#a87432" stroke-width="0.35" stroke-linejoin="round"/>
<polygon points="158.0,411.5 160.0,410.4 160.0,404.0 158.0,405.1" fill="#8a6a3a" stroke="#8a6a3a" stroke-width="0.35" stroke-linejoin="round"/>
<polygon points="158.4,410.7 159.6,410.0 159.6,404.8 158.4,405.5" fill="#8fcfe0" stroke="#8fcfe0" stroke-width="0.35" stroke-linejoin="round"/>
<polygon points="156.6,416.3 149.2,411.9 149.2,407.5 156.6,411.9" fill="#efece2" stroke="#efece2" stroke-width="0.35" stroke-linejoin="round"/>
<polygon points="155.0,416.3 161.8,412.3 161.8,407.9 155.0,411.9" fill="#fbf9f2" stroke="#fbf9f2" stroke-width="0.35" stroke-linejoin="round"/>
<polygon points="155.8,412.4 148.4,408.0 149.8,407.2 155.8,410.7 161.2,407.5 162.6,408.4" fill="#ffffff" stroke="#ffffff" stroke-width="0.35" stroke-linejoin="round"/>
<polygon points="148.6,396.6 145.6,394.9 145.6,388.3 148.6,390.0" fill="#9a7a46" stroke="#9a7a46" stroke-width="0.35" stroke-linejoin="round"/>
<polygon points="148.0,395.6 146.2,394.5 146.2,389.3 148.0,390.4" fill="#8fcfe0" stroke="#8fcfe0" stroke-width="0.35" stroke-linejoin="round"/>
<polygon points="143.1,393.4 140.1,391.6 140.1,385.0 143.1,386.8" fill="#b8481f" stroke="#b8481f" stroke-width="0.35" stroke-linejoin="round"/>
<polygon points="142.5,392.3 140.7,391.3 140.7,386.1 142.5,387.1" fill="#8fcfe0" stroke="#8fcfe0" stroke-width="0.35" stroke-linejoin="round"/>
<polygon points="137.0,389.8 134.0,388.0 134.0,381.4 137.0,383.2" fill="#9a7a46" stroke="#9a7a46" stroke-width="0.35" stroke-linejoin="round"/>
<polygon points="136.4,388.7 134.6,387.7 134.6,382.5 136.4,383.5" fill="#8fcfe0" stroke="#8fcfe0" stroke-width="0.35" stroke-linejoin="round"/>
<polygon points="173.7,390.3 176.9,388.4 176.9,381.8 173.7,383.7" fill="#9a7a46" stroke="#9a7a46" stroke-width="0.35" stroke-linejoin="round"/>
<polygon points="174.3,389.3 176.3,388.1 176.3,382.9 174.3,384.1" fill="#8fcfe0" stroke="#8fcfe0" stroke-width="0.35" stroke-linejoin="round"/>
<polygon points="163.4,397.0 165.6,395.7 165.6,388.7 163.4,390.0" fill="#f08a3a" stroke="#f08a3a" stroke-width="0.35" stroke-linejoin="round"/>
<polygon points="166.4,395.2 168.6,393.9 168.6,386.9 166.4,388.2" fill="#b8451f" stroke="#b8451f" stroke-width="0.35" stroke-linejoin="round"/>
<polygon points="153.4,400.1 151.2,398.8 151.2,391.8 153.4,393.1" fill="#a87432" stroke="#a87432" stroke-width="0.35" stroke-linejoin="round"/>
<polygon points="158.0,399.6 160.0,398.4 160.0,392.0 158.0,393.2" fill="#8a6a3a" stroke="#8a6a3a" stroke-width="0.35" stroke-linejoin="round"/>
<polygon points="158.4,398.8 159.6,398.0 159.6,392.8 158.4,393.6" fill="#8fcfe0" stroke="#8fcfe0" stroke-width="0.35" stroke-linejoin="round"/>
<polygon points="156.6,404.4 149.2,400.0 149.2,395.6 156.6,400.0" fill="#efece2" stroke="#efece2" stroke-width="0.35" stroke-linejoin="round"/>
<polygon points="155.0,404.4 161.8,400.4 161.8,396.0 155.0,400.0" fill="#fbf9f2" stroke="#fbf9f2" stroke-width="0.35" stroke-linejoin="round"/>
<polygon points="155.8,400.4 148.4,396.1 149.8,395.2 155.8,398.8 161.2,395.6 162.6,396.4" fill="#ffffff" stroke="#ffffff" stroke-width="0.35" stroke-linejoin="round"/>
<polygon points="148.6,384.7 145.6,382.9 145.6,376.3 148.6,378.1" fill="#9a7a46" stroke="#9a7a46" stroke-width="0.35" stroke-linejoin="round"/>
<polygon points="148.0,383.6 146.2,382.6 146.2,377.4 148.0,378.4" fill="#8fcfe0" stroke="#8fcfe0" stroke-width="0.35" stroke-linejoin="round"/>
<polygon points="143.1,381.5 140.1,379.7 140.1,373.1 143.1,374.9" fill="#b8481f" stroke="#b8481f" stroke-width="0.35" stroke-linejoin="round"/>
<polygon points="142.5,380.4 140.7,379.3 140.7,374.1 142.5,375.2" fill="#8fcfe0" stroke="#8fcfe0" stroke-width="0.35" stroke-linejoin="round"/>
<polygon points="137.0,377.9 134.0,376.1 134.0,369.5 137.0,371.3" fill="#9a7a46" stroke="#9a7a46" stroke-width="0.35" stroke-linejoin="round"/>
<polygon points="136.4,376.8 134.6,375.7 134.6,370.5 136.4,371.6" fill="#8fcfe0" stroke="#8fcfe0" stroke-width="0.35" stroke-linejoin="round"/>
<polygon points="173.7,378.4 176.9,376.5 176.9,369.9 173.7,371.8" fill="#9a7a46" stroke="#9a7a46" stroke-width="0.35" stroke-linejoin="round"/>
<polygon points="174.3,377.3 176.3,376.2 176.3,371.0 174.3,372.1" fill="#8fcfe0" stroke="#8fcfe0" stroke-width="0.35" stroke-linejoin="round"/>
<polygon points="163.4,385.1 165.6,383.8 165.6,376.8 163.4,378.1" fill="#f08a3a" stroke="#f08a3a" stroke-width="0.35" stroke-linejoin="round"/>
<polygon points="166.4,383.3 168.6,382.0 168.6,375.0 166.4,376.3" fill="#b8451f" stroke="#b8451f" stroke-width="0.35" stroke-linejoin="round"/>
<polygon points="153.4,388.1 151.2,386.8 151.2,379.8 153.4,381.1" fill="#a87432" stroke="#a87432" stroke-width="0.35" stroke-linejoin="round"/>
<polygon points="158.0,387.7 160.0,386.5 160.0,380.1 158.0,381.3" fill="#8a6a3a" stroke="#8a6a3a" stroke-width="0.35" stroke-linejoin="round"/>
<polygon points="158.4,386.8 159.6,386.1 159.6,380.9 158.4,381.6" fill="#8fcfe0" stroke="#8fcfe0" stroke-width="0.35" stroke-linejoin="round"/>
<polygon points="156.6,392.4 149.2,388.1 149.2,383.7 156.6,388.0" fill="#efece2" stroke="#efece2" stroke-width="0.35" stroke-linejoin="round"/>
<polygon points="155.0,392.4 161.8,388.4 161.8,384.0 155.0,388.0" fill="#fbf9f2" stroke="#fbf9f2" stroke-width="0.35" stroke-linejoin="round"/>
<polygon points="155.8,388.5 148.4,384.1 149.8,383.3 155.8,386.8 161.2,383.7 162.6,384.5" fill="#ffffff" stroke="#ffffff" stroke-width="0.35" stroke-linejoin="round"/>
<polygon points="163.3,442.1 168.8,438.8 168.8,431.3 163.3,434.6" fill="#c96a32" stroke="#c96a32" stroke-width="0.35" stroke-linejoin="round"/>
<polygon points="164.4,441.4 167.8,439.4 167.8,433.4 164.4,435.4" fill="#8a4a22" stroke="#8a4a22" stroke-width="0.35" stroke-linejoin="round"/>
<polygon points="139.7,365.4 145.7,362.0 145.7,364.0 139.7,367.4" fill="#dfe6ea" stroke="#dfe6ea" stroke-width="0.35" stroke-linejoin="round"/>
<polygon points="146.7,361.2 152.7,357.8 152.7,359.8 146.7,363.2" fill="#dfe6ea" stroke="#dfe6ea" stroke-width="0.35" stroke-linejoin="round"/>
<ellipse cx="164.8" cy="438.9" rx="1.5" ry="4.2" fill="#2f7d33"/>
<ellipse cx="176.8" cy="432.6" rx="1.5" ry="4.2" fill="#2f7d33"/>
<polygon points="312.7,440.0 289.7,453.5 289.7,395.7 312.7,382.2" fill="#f3a94e" stroke="#f3a94e" stroke-width="0.35" stroke-linejoin="round"/>
<polygon points="312.7,440.0 332.3,451.5 332.3,393.7 312.7,382.2" fill="#e99a3e" stroke="#e99a3e" stroke-width="0.35" stroke-linejoin="round"/>
<polygon points="307.7,385.2 317.7,385.2 317.7,432.0 307.7,432.0" fill="#c9822f" stroke="#c9822f" stroke-width="0.35" stroke-linejoin="round"/>
<polygon points="289.7,453.5 267.7,440.6 267.7,382.8 289.7,395.7" fill="#e99a3e" stroke="#e99a3e" stroke-width="0.35" stroke-linejoin="round"/>
<polygon points="332.3,451.5 349.8,441.2 349.8,383.4 332.3,393.7" fill="#f3a94e" stroke="#f3a94e" stroke-width="0.35" stroke-linejoin="round"/>
<polygon points="267.7,382.8 308.2,358.9 349.8,383.4 332.3,393.7 312.7,382.2 289.7,395.7" fill="#d9eef7" stroke="#74a9e6" stroke-width="2.8" stroke-linejoin="round"/>
<polyline points="267.7,384.8 289.7,397.7 312.7,384.2 332.3,395.7 349.8,385.4" fill="none" stroke="#5d93d6" stroke-width="0.9"/>
<polygon points="289.7,453.5 287.3,452.1 287.3,394.3 289.7,395.7" fill="#7db1ea" stroke="#7db1ea" stroke-width="0.35" stroke-linejoin="round"/>
<polygon points="268.9,441.3 267.7,440.6 267.7,382.8 268.9,383.5" fill="#7db1ea" stroke="#7db1ea" stroke-width="0.35" stroke-linejoin="round"/>
<polygon points="270.3,442.1 267.7,440.6 267.7,382.8 270.3,384.3" fill="#7db1ea" stroke="#7db1ea" stroke-width="0.35" stroke-linejoin="round"/>
<polygon points="289.7,453.5 287.5,452.2 287.5,394.4 289.7,395.7" fill="#5f97d8" stroke="#5f97d8" stroke-width="0.35" stroke-linejoin="round"/>
<polygon points="332.3,451.5 334.9,450.0 334.9,392.2 332.3,393.7" fill="#7db1ea" stroke="#7db1ea" stroke-width="0.35" stroke-linejoin="round"/>
<polygon points="347.2,442.7 349.8,441.2 349.8,383.4 347.2,384.9" fill="#8dbcf0" stroke="#8dbcf0" stroke-width="0.35" stroke-linejoin="round"/>
<polygon points="289.7,453.5 291.9,452.2 291.9,394.4 289.7,395.7" fill="#9cc6f2" stroke="#9cc6f2" stroke-width="0.35" stroke-linejoin="round"/>
<polygon points="332.3,451.5 329.9,450.1 329.9,392.3 332.3,393.7" fill="#5f97d8" stroke="#5f97d8" stroke-width="0.35" stroke-linejoin="round"/>
<polygon points="284.4,410.6 281.0,408.6 281.0,399.6 284.4,401.6" fill="#f5f8fa" stroke="#f5f8fa" stroke-width="0.35" stroke-linejoin="round"/>
<polygon points="283.8,409.6 281.6,408.3 281.6,400.7 283.8,402.0" fill="#8fc8ea" stroke="#8fc8ea" stroke-width="0.35" stroke-linejoin="round"/>
<polygon points="278.4,407.1 275.0,405.1 275.0,396.1 278.4,398.1" fill="#f5f8fa" stroke="#f5f8fa" stroke-width="0.35" stroke-linejoin="round"/>
<polygon points="277.8,406.0 275.6,404.7 275.6,397.1 277.8,398.4" fill="#8fc8ea" stroke="#8fc8ea" stroke-width="0.35" stroke-linejoin="round"/>
<polygon points="284.4,425.6 281.0,423.6 281.0,414.6 284.4,416.6" fill="#f5f8fa" stroke="#f5f8fa" stroke-width="0.35" stroke-linejoin="round"/>
<polygon points="283.8,424.6 281.6,423.3 281.6,415.7 283.8,417.0" fill="#8fc8ea" stroke="#8fc8ea" stroke-width="0.35" stroke-linejoin="round"/>
<polygon points="278.4,422.1 275.0,420.1 275.0,411.1 278.4,413.1" fill="#f5f8fa" stroke="#f5f8fa" stroke-width="0.35" stroke-linejoin="round"/>
<polygon points="277.8,421.0 275.6,419.7 275.6,412.1 277.8,413.4" fill="#8fc8ea" stroke="#8fc8ea" stroke-width="0.35" stroke-linejoin="round"/>
<polygon points="284.4,440.6 281.0,438.6 281.0,429.6 284.4,431.6" fill="#f5f8fa" stroke="#f5f8fa" stroke-width="0.35" stroke-linejoin="round"/>
<polygon points="283.8,439.6 281.6,438.3 281.6,430.7 283.8,432.0" fill="#8fc8ea" stroke="#8fc8ea" stroke-width="0.35" stroke-linejoin="round"/>
<polygon points="278.4,437.1 275.0,435.1 275.0,426.1 278.4,428.1" fill="#f5f8fa" stroke="#f5f8fa" stroke-width="0.35" stroke-linejoin="round"/>
<polygon points="277.8,436.0 275.6,434.7 275.6,427.1 277.8,428.4" fill="#8fc8ea" stroke="#8fc8ea" stroke-width="0.35" stroke-linejoin="round"/>
<polygon points="339.8,406.3 342.8,404.5 342.8,396.0 339.8,397.8" fill="#f4e3cf" stroke="#f4e3cf" stroke-width="0.35" stroke-linejoin="round"/>
<polygon points="340.4,406.0 342.2,404.9 342.2,397.1 340.4,398.2" fill="#8a4a2a" stroke="#8a4a2a" stroke-width="0.35" stroke-linejoin="round"/>
<ellipse cx="340.8" cy="405.7" rx="4.6" ry="1.7" fill="#cfe3f3"/>
<polygon points="336.3,402.8 345.5,399.8 345.5,402.9 336.3,405.9" fill="#dbeaf6" opacity="0.85"/>
<polygon points="339.8,420.8 342.8,419.0 342.8,410.5 339.8,412.3" fill="#f4e3cf" stroke="#f4e3cf" stroke-width="0.35" stroke-linejoin="round"/>
<polygon points="340.4,420.5 342.2,419.4 342.2,411.6 340.4,412.7" fill="#8a4a2a" stroke="#8a4a2a" stroke-width="0.35" stroke-linejoin="round"/>
<ellipse cx="340.8" cy="420.2" rx="4.6" ry="1.7" fill="#cfe3f3"/>
<polygon points="336.3,417.3 345.5,414.3 345.5,417.4 336.3,420.4" fill="#dbeaf6" opacity="0.85"/>
<polygon points="339.8,435.3 342.8,433.5 342.8,425.0 339.8,426.8" fill="#f4e3cf" stroke="#f4e3cf" stroke-width="0.35" stroke-linejoin="round"/>
<polygon points="340.4,435.0 342.2,433.9 342.2,426.1 340.4,427.2" fill="#8a4a2a" stroke="#8a4a2a" stroke-width="0.35" stroke-linejoin="round"/>
<ellipse cx="340.8" cy="434.7" rx="4.6" ry="1.7" fill="#cfe3f3"/>
<polygon points="336.3,431.8 345.5,428.8 345.5,431.9 336.3,434.9" fill="#dbeaf6" opacity="0.85"/>
<polygon points="298.0,396.0 300.4,394.8 300.4,403.0 298.0,404.2" fill="#8a4a2a" stroke="#8a4a2a" stroke-width="0.35" stroke-linejoin="round"/>
<polygon points="294.2,401.8 303.2,398.0 303.2,401.4 294.2,405.4" fill="#d4e6f5" stroke="#d4e6f5" stroke-width="0.35" stroke-linejoin="round"/>
<polygon points="321.9,393.4 327.1,396.3 327.1,403.3 321.9,400.3" fill="#f5f8fa" stroke="#f5f8fa" stroke-width="0.35" stroke-linejoin="round"/>
<polygon points="322.7,394.5 326.3,396.5 326.3,402.3 322.7,400.3" fill="#8fc8ea" stroke="#8fc8ea" stroke-width="0.35" stroke-linejoin="round"/>
<polygon points="318.5,398.5 329.5,404.5 329.5,407.5 318.5,401.5" fill="#cfe1f2" stroke="#cfe1f2" stroke-width="0.35" stroke-linejoin="round"/>
<circle cx="312.7" cy="390.2" r="1.6" fill="#2f7d33"/>
<polygon points="298.0,410.5 300.4,409.3 300.4,417.5 298.0,418.7" fill="#8a4a2a" stroke="#8a4a2a" stroke-width="0.35" stroke-linejoin="round"/>
<polygon points="294.2,416.3 303.2,412.5 303.2,415.9 294.2,419.9" fill="#d4e6f5" stroke="#d4e6f5" stroke-width="0.35" stroke-linejoin="round"/>
<polygon points="321.9,407.9 327.1,410.8 327.1,417.8 321.9,414.8" fill="#f5f8fa" stroke="#f5f8fa" stroke-width="0.35" stroke-linejoin="round"/>
<polygon points="322.7,409.0 326.3,411.0 326.3,416.8 322.7,414.8" fill="#8fc8ea" stroke="#8fc8ea" stroke-width="0.35" stroke-linejoin="round"/>
<polygon points="318.5,413.0 329.5,419.0 329.5,422.0 318.5,416.0" fill="#cfe1f2" stroke="#cfe1f2" stroke-width="0.35" stroke-linejoin="round"/>
<circle cx="312.7" cy="404.7" r="1.6" fill="#2f7d33"/>
<polygon points="298.0,425.0 300.4,423.8 300.4,432.0 298.0,433.2" fill="#8a4a2a" stroke="#8a4a2a" stroke-width="0.35" stroke-linejoin="round"/>
<polygon points="294.2,430.8 303.2,427.0 303.2,430.4 294.2,434.4" fill="#d4e6f5" stroke="#d4e6f5" stroke-width="0.35" stroke-linejoin="round"/>
<polygon points="321.9,422.4 327.1,425.3 327.1,432.3 321.9,429.3" fill="#f5f8fa" stroke="#f5f8fa" stroke-width="0.35" stroke-linejoin="round"/>
<polygon points="322.7,423.5 326.3,425.5 326.3,431.3 322.7,429.3" fill="#8fc8ea" stroke="#8fc8ea" stroke-width="0.35" stroke-linejoin="round"/>
<polygon points="318.5,427.5 329.5,433.5 329.5,436.5 318.5,430.5" fill="#cfe1f2" stroke="#cfe1f2" stroke-width="0.35" stroke-linejoin="round"/>
<circle cx="312.7" cy="419.2" r="1.6" fill="#2f7d33"/>
<polygon points="290.7,434.5 309.8,444.1 309.8,463.1 290.7,453.5" fill="#bfdfea" stroke="#bfdfea" stroke-width="0.35" stroke-linejoin="round"/>
<polygon points="309.8,444.1 331.3,432.5 331.3,451.5 309.8,463.1" fill="#d5ecf2" stroke="#d5ecf2" stroke-width="0.35" stroke-linejoin="round"/>
<polygon points="312.7,421.0 290.7,434.5 309.8,444.1 331.3,432.5" fill="#c9dc5c" stroke="#c9dc5c" stroke-width="0.35" stroke-linejoin="round"/>
<polygon points="290.7,434.5 309.8,444.1 309.8,447.3 290.7,437.7" fill="#3c5f9c" stroke="#3c5f9c" stroke-width="0.35" stroke-linejoin="round"/>
<polygon points="309.8,444.1 331.3,432.5 331.3,435.7 309.8,447.3" fill="#f08a24" stroke="#f08a24" stroke-width="0.35" stroke-linejoin="round"/>
<polygon points="309.8,447.3 331.3,435.7 331.3,436.9 309.8,448.5" fill="#35538a" stroke="#35538a" stroke-width="0.35" stroke-linejoin="round"/>
<ellipse cx="309.1" cy="418.9" rx="1.3" ry="3.6" fill="#2f7d33"/>
<ellipse cx="312.7" cy="417.5" rx="1.3" ry="3.6" fill="#2f7d33"/>
<ellipse cx="316.3" cy="418.9" rx="1.3" ry="3.6" fill="#2f7d33"/>
<polygon points="303.3,436.6 307.3,434.3 308.3,434.9 304.3,437.2" fill="#eef3e2" stroke="#eef3e2" stroke-width="0.35" stroke-linejoin="round"/>
<polygon points="309.3,439.1 313.3,436.8 314.3,437.4 310.3,439.7" fill="#eef3e2" stroke="#eef3e2" stroke-width="0.35" stroke-linejoin="round"/>
<polygon points="291.7,454.5 309.8,465.1 332.3,453.0 311.3,468.6" fill="#eceff0" stroke="#eceff0" stroke-width="0.35" stroke-linejoin="round"/>
<polygon points="312.3,461.9 317.3,459.1 318.8,459.9 313.8,462.7" fill="#f08a24" stroke="#f08a24" stroke-width="0.35" stroke-linejoin="round"/>
<polygon points="279.7,387.5 275.7,385.2 275.7,378.7 279.7,381.0" fill="#e99a3e" stroke="#e99a3e" stroke-width="0.35" stroke-linejoin="round"/>
<polygon points="279.7,387.5 284.2,384.9 284.2,378.4 279.7,381.0" fill="#f3b05a" stroke="#f3b05a" stroke-width="0.35" stroke-linejoin="round"/>
<polygon points="279.7,381.0 275.7,378.7 280.2,376.0 284.2,378.4" fill="#d9eef7" stroke="#d9eef7" stroke-width="0.35" stroke-linejoin="round"/>
<polygon points="275.1,379.3 279.7,381.9 284.7,378.9 280.1,376.3" fill="#b9d6ee" stroke="#7db1ea" stroke-width="0.7" stroke-linejoin="round"/>
<polygon points="332.3,383.2 336.8,386.0 341.3,383.2 336.8,380.6" fill="#8aa3ad" stroke="#8aa3ad" stroke-width="0.35" stroke-linejoin="round"/>
<line x1="332.8" y1="383.2" x2="332.8" y2="376.2" stroke="#5c7480" stroke-width="0.7"/>
<line x1="336.8" y1="384.7" x2="336.8" y2="376.2" stroke="#5c7480" stroke-width="0.7"/>
<line x1="340.8" y1="383.2" x2="340.8" y2="376.2" stroke="#5c7480" stroke-width="0.7"/>
<ellipse cx="336.8" cy="375.7" rx="4.2" ry="2.3" fill="#7fb6c9"/>
<ellipse cx="336.8" cy="374.8" rx="3.4" ry="1.7" fill="#a9d6e2"/>
<polygon points="307.1,363.1 311.5,360.7 311.5,363.9 307.1,366.3" fill="#eef3f6" stroke="#eef3f6" stroke-width="0.35" stroke-linejoin="round"/>
<polygon points="315.7,367.7 320.1,365.3 320.1,368.5 315.7,370.9" fill="#eef3f6" stroke="#eef3f6" stroke-width="0.35" stroke-linejoin="round"/>
<polygon points="339.3,447.1 345.3,443.6 345.3,445.6 339.3,449.1" fill="#c46a2a" stroke="#c46a2a" stroke-width="0.35" stroke-linejoin="round"/>
<ellipse cx="349.1" cy="441.3" rx="1.7" ry="4.4" fill="#2f7d33"/>
<polygon points="215.0,469.0 184.3,450.9 184.3,399.9 215.0,418.0" fill="#d3efd9" stroke="#d3efd9" stroke-width="0.35" stroke-linejoin="round"/>
<polygon points="215.0,469.0 237.0,456.0 237.0,405.0 215.0,418.0" fill="#c9e7b8" stroke="#c9e7b8" stroke-width="0.35" stroke-linejoin="round"/>
<polygon points="206.0,463.7 195.0,457.2 195.0,411.2 206.0,417.7" fill="#aee3ea" stroke="#aee3ea" stroke-width="0.35" stroke-linejoin="round"/>
<polygon points="206.3,463.9 205.7,463.5 205.7,417.5 206.3,417.9" fill="#e6f7f8" stroke="#e6f7f8" stroke-width="0.35" stroke-linejoin="round"/>
<polygon points="202.6,461.7 202.0,461.3 202.0,415.3 202.6,415.7" fill="#e6f7f8" stroke="#e6f7f8" stroke-width="0.35" stroke-linejoin="round"/>
<polygon points="198.9,459.5 198.3,459.1 198.3,413.1 198.9,413.5" fill="#e6f7f8" stroke="#e6f7f8" stroke-width="0.35" stroke-linejoin="round"/>
<polygon points="195.3,457.4 194.7,457.0 194.7,411.0 195.3,411.4" fill="#e6f7f8" stroke="#e6f7f8" stroke-width="0.35" stroke-linejoin="round"/>
<polygon points="206.0,448.7 195.0,442.2 195.0,440.0 206.0,446.5" fill="#2f9ea3" stroke="#2f9ea3" stroke-width="0.35" stroke-linejoin="round"/>
<polygon points="206.0,433.2 195.0,426.7 195.0,424.5 206.0,431.0" fill="#2f9ea3" stroke="#2f9ea3" stroke-width="0.35" stroke-linejoin="round"/>
<polygon points="207.0,464.3 205.8,463.6 205.8,415.6 207.0,416.3" fill="#2f9ea3" stroke="#2f9ea3" stroke-width="0.35" stroke-linejoin="round"/>
<polygon points="195.2,457.3 194.0,456.6 194.0,408.6 195.2,409.3" fill="#2f9ea3" stroke="#2f9ea3" stroke-width="0.35" stroke-linejoin="round"/>
<polygon points="212.0,461.7 209.0,460.0 209.0,450.5 212.0,452.2" fill="#f2fbf6" stroke="#f2fbf6" stroke-width="0.35" stroke-linejoin="round"/>
<polygon points="211.3,460.6 209.7,459.7 209.7,451.6 211.3,452.5" fill="#8fd6e0" stroke="#8fd6e0" stroke-width="0.35" stroke-linejoin="round"/>
<polygon points="191.0,449.3 188.0,447.6 188.0,438.1 191.0,439.8" fill="#f2fbf6" stroke="#f2fbf6" stroke-width="0.35" stroke-linejoin="round"/>
<polygon points="190.3,448.2 188.7,447.3 188.7,439.2 190.3,440.1" fill="#8fd6e0" stroke="#8fd6e0" stroke-width="0.35" stroke-linejoin="round"/>
<polygon points="218.5,461.4 221.5,459.7 221.5,450.2 218.5,451.9" fill="#f2fbf0" stroke="#f2fbf0" stroke-width="0.35" stroke-linejoin="round"/>
<polygon points="219.2,460.3 220.8,459.4 220.8,451.3 219.2,452.2" fill="#8fd6e0" stroke="#8fd6e0" stroke-width="0.35" stroke-linejoin="round"/>
<polygon points="224.5,457.9 227.5,456.1 227.5,446.6 224.5,448.4" fill="#f2fbf0" stroke="#f2fbf0" stroke-width="0.35" stroke-linejoin="round"/>
<polygon points="225.2,456.8 226.8,455.8 226.8,447.7 225.2,448.7" fill="#8fd6e0" stroke="#8fd6e0" stroke-width="0.35" stroke-linejoin="round"/>
<polygon points="230.5,454.4 233.5,452.6 233.5,443.1 230.5,444.9" fill="#f2fbf0" stroke="#f2fbf0" stroke-width="0.35" stroke-linejoin="round"/>
<polygon points="231.2,453.2 232.8,452.3 232.8,444.2 231.2,445.1" fill="#8fd6e0" stroke="#8fd6e0" stroke-width="0.35" stroke-linejoin="round"/>
<polygon points="212.0,446.5 209.0,444.8 209.0,435.3 212.0,437.0" fill="#f2fbf6" stroke="#f2fbf6" stroke-width="0.35" stroke-linejoin="round"/>
<polygon points="211.3,445.4 209.7,444.5 209.7,436.4 211.3,437.3" fill="#8fd6e0" stroke="#8fd6e0" stroke-width="0.35" stroke-linejoin="round"/>
<polygon points="191.0,434.1 188.0,432.4 188.0,422.9 191.0,424.6" fill="#f2fbf6" stroke="#f2fbf6" stroke-width="0.35" stroke-linejoin="round"/>
<polygon points="190.3,433.0 188.7,432.1 188.7,424.0 190.3,424.9" fill="#8fd6e0" stroke="#8fd6e0" stroke-width="0.35" stroke-linejoin="round"/>
<polygon points="218.5,446.2 221.5,444.5 221.5,435.0 218.5,436.7" fill="#f2fbf0" stroke="#f2fbf0" stroke-width="0.35" stroke-linejoin="round"/>
<polygon points="219.2,445.1 220.8,444.2 220.8,436.1 219.2,437.0" fill="#8fd6e0" stroke="#8fd6e0" stroke-width="0.35" stroke-linejoin="round"/>
<polygon points="224.5,442.7 227.5,440.9 227.5,431.4 224.5,433.2" fill="#f2fbf0" stroke="#f2fbf0" stroke-width="0.35" stroke-linejoin="round"/>
<polygon points="225.2,441.6 226.8,440.6 226.8,432.5 225.2,433.5" fill="#8fd6e0" stroke="#8fd6e0" stroke-width="0.35" stroke-linejoin="round"/>
<polygon points="230.5,439.2 233.5,437.4 233.5,427.9 230.5,429.7" fill="#f2fbf0" stroke="#f2fbf0" stroke-width="0.35" stroke-linejoin="round"/>
<polygon points="231.2,438.0 232.8,437.1 232.8,429.0 231.2,429.9" fill="#8fd6e0" stroke="#8fd6e0" stroke-width="0.35" stroke-linejoin="round"/>
<polygon points="212.0,431.3 209.0,429.6 209.0,420.1 212.0,421.8" fill="#f2fbf6" stroke="#f2fbf6" stroke-width="0.35" stroke-linejoin="round"/>
<polygon points="211.3,430.2 209.7,429.3 209.7,421.2 211.3,422.1" fill="#8fd6e0" stroke="#8fd6e0" stroke-width="0.35" stroke-linejoin="round"/>
<polygon points="191.0,418.9 188.0,417.2 188.0,407.7 191.0,409.4" fill="#f2fbf6" stroke="#f2fbf6" stroke-width="0.35" stroke-linejoin="round"/>
<polygon points="190.3,417.8 188.7,416.9 188.7,408.8 190.3,409.7" fill="#8fd6e0" stroke="#8fd6e0" stroke-width="0.35" stroke-linejoin="round"/>
<polygon points="218.5,431.0 221.5,429.3 221.5,419.8 218.5,421.5" fill="#f2fbf0" stroke="#f2fbf0" stroke-width="0.35" stroke-linejoin="round"/>
<polygon points="219.2,429.9 220.8,429.0 220.8,420.9 219.2,421.8" fill="#8fd6e0" stroke="#8fd6e0" stroke-width="0.35" stroke-linejoin="round"/>
<polygon points="224.5,427.5 227.5,425.7 227.5,416.2 224.5,418.0" fill="#f2fbf0" stroke="#f2fbf0" stroke-width="0.35" stroke-linejoin="round"/>
<polygon points="225.2,426.4 226.8,425.4 226.8,417.3 225.2,418.3" fill="#8fd6e0" stroke="#8fd6e0" stroke-width="0.35" stroke-linejoin="round"/>
<polygon points="230.5,424.0 233.5,422.2 233.5,412.7 230.5,414.5" fill="#f2fbf0" stroke="#f2fbf0" stroke-width="0.35" stroke-linejoin="round"/>
<polygon points="231.2,422.8 232.8,421.9 232.8,413.8 231.2,414.7" fill="#8fd6e0" stroke="#8fd6e0" stroke-width="0.35" stroke-linejoin="round"/>
<polygon points="215.6,469.4 213.8,468.3 213.8,417.3 215.6,418.4" fill="#2f9ea3" stroke="#2f9ea3" stroke-width="0.35" stroke-linejoin="round"/>
<polygon points="214.4,469.4 216.2,468.3 216.2,417.3 214.4,418.4" fill="#23868c" stroke="#23868c" stroke-width="0.35" stroke-linejoin="round"/>
<polygon points="185.7,451.7 183.9,450.7 183.9,399.7 185.7,400.7" fill="#2f9ea3" stroke="#2f9ea3" stroke-width="0.35" stroke-linejoin="round"/>
<polygon points="215.0,419.4 181.9,399.9 206.3,385.5 239.4,405.0" fill="#2f9ea3" stroke="#2f9ea3" stroke-width="0.35" stroke-linejoin="round"/>
<polygon points="216.2,421.5 183.1,402.0 183.1,399.2 216.2,418.7" fill="#2f9ea3" stroke="#2f9ea3" stroke-width="0.35" stroke-linejoin="round"/>
<polygon points="213.8,421.5 238.2,407.1 238.2,404.3 213.8,418.7" fill="#23868c" stroke="#23868c" stroke-width="0.35" stroke-linejoin="round"/>
<polygon points="215.0,416.7 185.9,399.5 206.3,387.5 235.4,404.6" fill="#d5efc4" stroke="#d5efc4" stroke-width="0.35" stroke-linejoin="round"/>
<polygon points="213.0,404.7 208.5,402.0 208.5,399.4 213.0,402.1" fill="#3fb0b4" stroke="#3fb0b4" stroke-width="0.35" stroke-linejoin="round"/>
<polygon points="213.0,404.7 216.0,402.9 216.0,400.3 213.0,402.1" fill="#2f9ea3" stroke="#2f9ea3" stroke-width="0.35" stroke-linejoin="round"/>
<polygon points="213.0,402.1 208.5,399.4 211.5,397.6 216.0,400.3" fill="#5cc4c6" stroke="#5cc4c6" stroke-width="0.35" stroke-linejoin="round"/>
<polygon points="217.0,406.9 212.5,404.2 212.5,401.6 217.0,404.3" fill="#3fb0b4" stroke="#3fb0b4" stroke-width="0.35" stroke-linejoin="round"/>
<polygon points="217.0,406.9 220.0,405.1 220.0,402.5 217.0,404.3" fill="#2f9ea3" stroke="#2f9ea3" stroke-width="0.35" stroke-linejoin="round"/>
<polygon points="217.0,404.3 212.5,401.6 215.5,399.8 220.0,402.5" fill="#5cc4c6" stroke="#5cc4c6" stroke-width="0.35" stroke-linejoin="round"/>
<polygon points="181.8,463.8 192.0,469.9 203.1,465.1 197.5,459.5" fill="#2a979d" stroke="#2a979d" stroke-width="0.35" stroke-linejoin="round"/>
<polygon points="178.1,451.4 191.1,457.7 199.4,453.6 185.5,447.7" fill="#d9f2cf" opacity="0.9"/>
<line x1="180.9" y1="453.2" x2="180.9" y2="466.5" stroke="#cdeec4" stroke-width="1.3"/>
<line x1="191.1" y1="458.4" x2="191.1" y2="471.2" stroke="#cdeec4" stroke-width="1.3"/>
<circle cx="176.3" cy="460.9" r="2.6" fill="#2f7d33"/>
<polygon points="175.1,463.5 177.5,463.5 177.1,465.9 175.5,465.9" fill="#8a4a2a" stroke="#8a4a2a" stroke-width="0.35" stroke-linejoin="round"/>
<circle cx="193.5" cy="470.2" r="2.6" fill="#2f7d33"/>
<polygon points="192.3,472.8 194.7,472.8 194.3,475.2 192.7,475.2" fill="#8a4a2a" stroke="#8a4a2a" stroke-width="0.35" stroke-linejoin="round"/>
<polygon points="275.1,493.2 257.3,482.7 257.3,430.7 275.1,441.2" fill="#e9aa7b" stroke="#e9aa7b" stroke-width="0.35" stroke-linejoin="round"/>
<polygon points="275.1,493.2 299.4,478.9 299.4,426.9 275.1,441.2" fill="#f5cc93" stroke="#f5cc93" stroke-width="0.35" stroke-linejoin="round"/>
<polygon points="275.1,442.1 255.7,430.7 281.6,415.4 301.0,426.9" fill="#f6d2b4" stroke="#f6d2b4" stroke-width="0.35" stroke-linejoin="round"/>
<polygon points="275.1,439.0 259.7,429.9 281.6,417.0 297.0,426.1" fill="#e2b596" stroke="#e2b596" stroke-width="0.35" stroke-linejoin="round"/>
<polygon points="275.9,443.3 256.5,431.8 256.5,429.6 275.9,441.1" fill="#efba90" stroke="#efba90" stroke-width="0.35" stroke-linejoin="round"/>
<polygon points="274.3,443.3 300.2,428.0 300.2,425.8 274.3,441.1" fill="#fadcb0" stroke="#fadcb0" stroke-width="0.35" stroke-linejoin="round"/>
<polygon points="273.6,487.8 270.6,486.1 270.6,477.6 273.6,479.4" fill="#f8efe2" stroke="#f8efe2" stroke-width="0.35" stroke-linejoin="round"/>
<polygon points="273.0,486.9 271.2,485.8 271.2,478.6 273.0,479.6" fill="#9fdbe0" stroke="#9fdbe0" stroke-width="0.35" stroke-linejoin="round"/>
<polygon points="267.7,484.3 264.7,482.6 264.7,474.1 267.7,475.9" fill="#f8efe2" stroke="#f8efe2" stroke-width="0.35" stroke-linejoin="round"/>
<polygon points="267.1,483.4 265.3,482.3 265.3,475.1 267.1,476.1" fill="#9fdbe0" stroke="#9fdbe0" stroke-width="0.35" stroke-linejoin="round"/>
<polygon points="261.8,480.8 258.8,479.1 258.8,470.6 261.8,472.4" fill="#f8efe2" stroke="#f8efe2" stroke-width="0.35" stroke-linejoin="round"/>
<polygon points="261.2,479.9 259.4,478.8 259.4,471.6 261.2,472.6" fill="#9fdbe0" stroke="#9fdbe0" stroke-width="0.35" stroke-linejoin="round"/>
<polygon points="278.8,486.5 282.0,484.6 282.0,475.8 278.8,477.6" fill="#fbf4e6" stroke="#fbf4e6" stroke-width="0.35" stroke-linejoin="round"/>
<polygon points="279.4,485.5 281.4,484.4 281.4,476.7 279.4,477.9" fill="#9fdbe0" stroke="#9fdbe0" stroke-width="0.35" stroke-linejoin="round"/>
<polygon points="286.9,481.8 290.1,479.9 290.1,471.0 286.9,472.9" fill="#fbf4e6" stroke="#fbf4e6" stroke-width="0.35" stroke-linejoin="round"/>
<polygon points="287.5,480.8 289.5,479.6 289.5,472.0 287.5,473.2" fill="#9fdbe0" stroke="#9fdbe0" stroke-width="0.35" stroke-linejoin="round"/>
<polygon points="294.2,477.5 297.4,475.6 297.4,466.7 294.2,468.6" fill="#fbf4e6" stroke="#fbf4e6" stroke-width="0.35" stroke-linejoin="round"/>
<polygon points="294.8,476.5 296.8,475.3 296.8,467.7 294.8,468.9" fill="#9fdbe0" stroke="#9fdbe0" stroke-width="0.35" stroke-linejoin="round"/>
<polygon points="273.6,475.6 270.6,473.8 270.6,465.4 273.6,467.1" fill="#f8efe2" stroke="#f8efe2" stroke-width="0.35" stroke-linejoin="round"/>
<polygon points="273.0,474.6 271.2,473.6 271.2,466.3 273.0,467.4" fill="#9fdbe0" stroke="#9fdbe0" stroke-width="0.35" stroke-linejoin="round"/>
<polygon points="267.7,472.1 264.7,470.3 264.7,461.9 267.7,463.6" fill="#f8efe2" stroke="#f8efe2" stroke-width="0.35" stroke-linejoin="round"/>
<polygon points="267.1,471.1 265.3,470.1 265.3,462.8 267.1,463.9" fill="#9fdbe0" stroke="#9fdbe0" stroke-width="0.35" stroke-linejoin="round"/>
<polygon points="261.8,468.6 258.8,466.8 258.8,458.4 261.8,460.1" fill="#f8efe2" stroke="#f8efe2" stroke-width="0.35" stroke-linejoin="round"/>
<polygon points="261.2,467.6 259.4,466.6 259.4,459.3 261.2,460.4" fill="#9fdbe0" stroke="#9fdbe0" stroke-width="0.35" stroke-linejoin="round"/>
<polygon points="278.8,474.2 282.0,472.4 282.0,463.5 278.8,465.4" fill="#fbf4e6" stroke="#fbf4e6" stroke-width="0.35" stroke-linejoin="round"/>
<polygon points="279.4,473.3 281.4,472.1 281.4,464.5 279.4,465.6" fill="#9fdbe0" stroke="#9fdbe0" stroke-width="0.35" stroke-linejoin="round"/>
<polygon points="286.9,469.5 290.1,467.6 290.1,458.8 286.9,460.7" fill="#fbf4e6" stroke="#fbf4e6" stroke-width="0.35" stroke-linejoin="round"/>
<polygon points="287.5,468.6 289.5,467.4 289.5,459.7 287.5,460.9" fill="#9fdbe0" stroke="#9fdbe0" stroke-width="0.35" stroke-linejoin="round"/>
<polygon points="294.2,465.2 297.4,463.3 297.4,454.5 294.2,456.4" fill="#fbf4e6" stroke="#fbf4e6" stroke-width="0.35" stroke-linejoin="round"/>
<polygon points="294.8,464.3 296.8,463.1 296.8,455.4 294.8,456.6" fill="#9fdbe0" stroke="#9fdbe0" stroke-width="0.35" stroke-linejoin="round"/>
<polygon points="273.6,463.3 270.6,461.6 270.6,453.1 273.6,454.9" fill="#f8efe2" stroke="#f8efe2" stroke-width="0.35" stroke-linejoin="round"/>
<polygon points="273.0,462.4 271.2,461.3 271.2,454.1 273.0,455.1" fill="#9fdbe0" stroke="#9fdbe0" stroke-width="0.35" stroke-linejoin="round"/>
<polygon points="267.7,459.8 264.7,458.1 264.7,449.6 267.7,451.4" fill="#f8efe2" stroke="#f8efe2" stroke-width="0.35" stroke-linejoin="round"/>
<polygon points="267.1,458.9 265.3,457.8 265.3,450.6 267.1,451.6" fill="#9fdbe0" stroke="#9fdbe0" stroke-width="0.35" stroke-linejoin="round"/>
<polygon points="261.8,456.3 258.8,454.6 258.8,446.1 261.8,447.9" fill="#f8efe2" stroke="#f8efe2" stroke-width="0.35" stroke-linejoin="round"/>
<polygon points="261.2,455.4 259.4,454.3 259.4,447.1 261.2,448.1" fill="#9fdbe0" stroke="#9fdbe0" stroke-width="0.35" stroke-linejoin="round"/>
<polygon points="278.8,462.0 282.0,460.1 282.0,451.3 278.8,453.1" fill="#fbf4e6" stroke="#fbf4e6" stroke-width="0.35" stroke-linejoin="round"/>
<polygon points="279.4,461.0 281.4,459.9 281.4,452.2 279.4,453.4" fill="#9fdbe0" stroke="#9fdbe0" stroke-width="0.35" stroke-linejoin="round"/>
<polygon points="286.9,457.3 290.1,455.4 290.1,446.5 286.9,448.4" fill="#fbf4e6" stroke="#fbf4e6" stroke-width="0.35" stroke-linejoin="round"/>
<polygon points="287.5,456.3 289.5,455.1 289.5,447.5 287.5,448.7" fill="#9fdbe0" stroke="#9fdbe0" stroke-width="0.35" stroke-linejoin="round"/>
<polygon points="294.2,453.0 297.4,451.1 297.4,442.2 294.2,444.1" fill="#fbf4e6" stroke="#fbf4e6" stroke-width="0.35" stroke-linejoin="round"/>
<polygon points="294.8,452.0 296.8,450.8 296.8,443.2 294.8,444.4" fill="#9fdbe0" stroke="#9fdbe0" stroke-width="0.35" stroke-linejoin="round"/>
<polygon points="273.6,451.1 270.6,449.3 270.6,440.9 273.6,442.6" fill="#f8efe2" stroke="#f8efe2" stroke-width="0.35" stroke-linejoin="round"/>
<polygon points="273.0,450.1 271.2,449.1 271.2,441.8 273.0,442.9" fill="#9fdbe0" stroke="#9fdbe0" stroke-width="0.35" stroke-linejoin="round"/>
<polygon points="267.7,447.6 264.7,445.8 264.7,437.4 267.7,439.1" fill="#f8efe2" stroke="#f8efe2" stroke-width="0.35" stroke-linejoin="round"/>
<polygon points="267.1,446.6 265.3,445.6 265.3,438.3 267.1,439.4" fill="#9fdbe0" stroke="#9fdbe0" stroke-width="0.35" stroke-linejoin="round"/>
<polygon points="261.8,444.1 258.8,442.3 258.8,433.9 261.8,435.6" fill="#f8efe2" stroke="#f8efe2" stroke-width="0.35" stroke-linejoin="round"/>
<polygon points="261.2,443.1 259.4,442.1 259.4,434.8 261.2,435.9" fill="#9fdbe0" stroke="#9fdbe0" stroke-width="0.35" stroke-linejoin="round"/>
<polygon points="278.8,449.7 282.0,447.9 282.0,439.0 278.8,440.9" fill="#fbf4e6" stroke="#fbf4e6" stroke-width="0.35" stroke-linejoin="round"/>
<polygon points="279.4,448.8 281.4,447.6 281.4,440.0 279.4,441.1" fill="#9fdbe0" stroke="#9fdbe0" stroke-width="0.35" stroke-linejoin="round"/>
<polygon points="286.9,445.0 290.1,443.1 290.1,434.3 286.9,436.2" fill="#fbf4e6" stroke="#fbf4e6" stroke-width="0.35" stroke-linejoin="round"/>
<polygon points="287.5,444.1 289.5,442.9 289.5,435.2 287.5,436.4" fill="#9fdbe0" stroke="#9fdbe0" stroke-width="0.35" stroke-linejoin="round"/>
<polygon points="294.2,440.7 297.4,438.8 297.4,430.0 294.2,431.9" fill="#fbf4e6" stroke="#fbf4e6" stroke-width="0.35" stroke-linejoin="round"/>
<polygon points="294.8,439.8 296.8,438.6 296.8,430.9 294.8,432.1" fill="#9fdbe0" stroke="#9fdbe0" stroke-width="0.35" stroke-linejoin="round"/>
<polygon points="275.4,493.4 274.2,492.7 274.2,442.2 275.4,442.9" fill="#f3c29a" stroke="#f3c29a" stroke-width="0.35" stroke-linejoin="round"/>
<polygon points="274.8,493.4 276.1,492.6 276.1,442.1 274.8,442.9" fill="#fbe0b8" stroke="#fbe0b8" stroke-width="0.35" stroke-linejoin="round"/>
<circle cx="267.0" cy="489.7" r="5.6" fill="#2f7d33"/>
<circle cx="270.5" cy="490.7" r="4.6" fill="#3c8c3a"/>
<circle cx="264.0" cy="491.2" r="4.2" fill="#2f7d33"/>
<polygon points="235.8,516.3 217.4,505.4 217.4,453.4 235.8,464.3" fill="#e9aa7b" stroke="#e9aa7b" stroke-width="0.35" stroke-linejoin="round"/>
<polygon points="235.8,516.3 258.9,502.7 258.9,450.7 235.8,464.3" fill="#f5cc93" stroke="#f5cc93" stroke-width="0.35" stroke-linejoin="round"/>
<polygon points="235.8,465.2 215.8,453.4 240.5,438.9 260.5,450.7" fill="#f6d2b4" stroke="#f6d2b4" stroke-width="0.35" stroke-linejoin="round"/>
<polygon points="235.8,462.1 219.8,452.6 240.5,440.4 256.5,449.9" fill="#e2b596" stroke="#e2b596" stroke-width="0.35" stroke-linejoin="round"/>
<polygon points="236.6,466.4 216.6,454.6 216.6,452.4 236.6,464.2" fill="#efba90" stroke="#efba90" stroke-width="0.35" stroke-linejoin="round"/>
<polygon points="235.0,466.4 259.7,451.8 259.7,449.6 235.0,464.2" fill="#fadcb0" stroke="#fadcb0" stroke-width="0.35" stroke-linejoin="round"/>
<polygon points="234.2,510.9 231.2,509.1 231.2,500.7 234.2,502.4" fill="#f8efe2" stroke="#f8efe2" stroke-width="0.35" stroke-linejoin="round"/>
<polygon points="233.6,509.9 231.8,508.9 231.8,501.6 233.6,502.7" fill="#9fdbe0" stroke="#9fdbe0" stroke-width="0.35" stroke-linejoin="round"/>
<polygon points="228.1,507.3 225.1,505.5 225.1,497.0 228.1,498.8" fill="#f8efe2" stroke="#f8efe2" stroke-width="0.35" stroke-linejoin="round"/>
<polygon points="227.5,506.3 225.7,505.2 225.7,498.0 227.5,499.1" fill="#9fdbe0" stroke="#9fdbe0" stroke-width="0.35" stroke-linejoin="round"/>
<polygon points="222.0,503.6 219.0,501.9 219.0,493.4 222.0,495.2" fill="#f8efe2" stroke="#f8efe2" stroke-width="0.35" stroke-linejoin="round"/>
<polygon points="221.4,502.7 219.6,501.6 219.6,494.4 221.4,495.4" fill="#9fdbe0" stroke="#9fdbe0" stroke-width="0.35" stroke-linejoin="round"/>
<polygon points="239.3,509.7 242.5,507.9 242.5,499.0 239.3,500.9" fill="#fbf4e6" stroke="#fbf4e6" stroke-width="0.35" stroke-linejoin="round"/>
<polygon points="239.9,508.8 241.9,507.6 241.9,500.0 239.9,501.1" fill="#9fdbe0" stroke="#9fdbe0" stroke-width="0.35" stroke-linejoin="round"/>
<polygon points="246.9,505.2 250.1,503.4 250.1,494.5 246.9,496.4" fill="#fbf4e6" stroke="#fbf4e6" stroke-width="0.35" stroke-linejoin="round"/>
<polygon points="247.5,504.3 249.5,503.1 249.5,495.5 247.5,496.6" fill="#9fdbe0" stroke="#9fdbe0" stroke-width="0.35" stroke-linejoin="round"/>
<polygon points="253.8,501.2 257.0,499.3 257.0,490.4 253.8,492.3" fill="#fbf4e6" stroke="#fbf4e6" stroke-width="0.35" stroke-linejoin="round"/>
<polygon points="254.4,500.2 256.4,499.0 256.4,491.4 254.4,492.6" fill="#9fdbe0" stroke="#9fdbe0" stroke-width="0.35" stroke-linejoin="round"/>
<polygon points="234.2,498.6 231.2,496.9 231.2,488.4 234.2,490.2" fill="#f8efe2" stroke="#f8efe2" stroke-width="0.35" stroke-linejoin="round"/>
<polygon points="233.6,497.7 231.8,496.6 231.8,489.4 233.6,490.4" fill="#9fdbe0" stroke="#9fdbe0" stroke-width="0.35" stroke-linejoin="round"/>
<polygon points="228.1,495.0 225.1,493.2 225.1,484.8 228.1,486.6" fill="#f8efe2" stroke="#f8efe2" stroke-width="0.35" stroke-linejoin="round"/>
<polygon points="227.5,494.1 225.7,493.0 225.7,485.7 227.5,486.8" fill="#9fdbe0" stroke="#9fdbe0" stroke-width="0.35" stroke-linejoin="round"/>
<polygon points="222.0,491.4 219.0,489.6 219.0,481.2 222.0,482.9" fill="#f8efe2" stroke="#f8efe2" stroke-width="0.35" stroke-linejoin="round"/>
<polygon points="221.4,490.4 219.6,489.4 219.6,482.1 221.4,483.2" fill="#9fdbe0" stroke="#9fdbe0" stroke-width="0.35" stroke-linejoin="round"/>
<polygon points="239.3,497.5 242.5,495.6 242.5,486.8 239.3,488.6" fill="#fbf4e6" stroke="#fbf4e6" stroke-width="0.35" stroke-linejoin="round"/>
<polygon points="239.9,496.5 241.9,495.4 241.9,487.7 239.9,488.9" fill="#9fdbe0" stroke="#9fdbe0" stroke-width="0.35" stroke-linejoin="round"/>
<polygon points="246.9,493.0 250.1,491.1 250.1,482.3 246.9,484.1" fill="#fbf4e6" stroke="#fbf4e6" stroke-width="0.35" stroke-linejoin="round"/>
<polygon points="247.5,492.0 249.5,490.9 249.5,483.2 247.5,484.4" fill="#9fdbe0" stroke="#9fdbe0" stroke-width="0.35" stroke-linejoin="round"/>
<polygon points="253.8,488.9 257.0,487.0 257.0,478.2 253.8,480.1" fill="#fbf4e6" stroke="#fbf4e6" stroke-width="0.35" stroke-linejoin="round"/>
<polygon points="254.4,488.0 256.4,486.8 256.4,479.1 254.4,480.3" fill="#9fdbe0" stroke="#9fdbe0" stroke-width="0.35" stroke-linejoin="round"/>
<polygon points="234.2,486.4 231.2,484.6 231.2,476.2 234.2,477.9" fill="#f8efe2" stroke="#f8efe2" stroke-width="0.35" stroke-linejoin="round"/>
<polygon points="233.6,485.4 231.8,484.4 231.8,477.1 233.6,478.2" fill="#9fdbe0" stroke="#9fdbe0" stroke-width="0.35" stroke-linejoin="round"/>
<polygon points="228.1,482.8 225.1,481.0 225.1,472.5 228.1,474.3" fill="#f8efe2" stroke="#f8efe2" stroke-width="0.35" stroke-linejoin="round"/>
<polygon points="227.5,481.8 225.7,480.7 225.7,473.5 227.5,474.6" fill="#9fdbe0" stroke="#9fdbe0" stroke-width="0.35" stroke-linejoin="round"/>
<polygon points="222.0,479.1 219.0,477.4 219.0,468.9 222.0,470.7" fill="#f8efe2" stroke="#f8efe2" stroke-width="0.35" stroke-linejoin="round"/>
<polygon points="221.4,478.2 219.6,477.1 219.6,469.9 221.4,470.9" fill="#9fdbe0" stroke="#9fdbe0" stroke-width="0.35" stroke-linejoin="round"/>
<polygon points="239.3,485.2 242.5,483.4 242.5,474.5 239.3,476.4" fill="#fbf4e6" stroke="#fbf4e6" stroke-width="0.35" stroke-linejoin="round"/>
<polygon points="239.9,484.3 241.9,483.1 241.9,475.5 239.9,476.6" fill="#9fdbe0" stroke="#9fdbe0" stroke-width="0.35" stroke-linejoin="round"/>
<polygon points="246.9,480.7 250.1,478.9 250.1,470.0 246.9,471.9" fill="#fbf4e6" stroke="#fbf4e6" stroke-width="0.35" stroke-linejoin="round"/>
<polygon points="247.5,479.8 249.5,478.6 249.5,471.0 247.5,472.1" fill="#9fdbe0" stroke="#9fdbe0" stroke-width="0.35" stroke-linejoin="round"/>
<polygon points="253.8,476.7 257.0,474.8 257.0,465.9 253.8,467.8" fill="#fbf4e6" stroke="#fbf4e6" stroke-width="0.35" stroke-linejoin="round"/>
<polygon points="254.4,475.7 256.4,474.5 256.4,466.9 254.4,468.1" fill="#9fdbe0" stroke="#9fdbe0" stroke-width="0.35" stroke-linejoin="round"/>
<polygon points="234.2,474.1 231.2,472.4 231.2,463.9 234.2,465.7" fill="#f8efe2" stroke="#f8efe2" stroke-width="0.35" stroke-linejoin="round"/>
<polygon points="233.6,473.2 231.8,472.1 231.8,464.9 233.6,465.9" fill="#9fdbe0" stroke="#9fdbe0" stroke-width="0.35" stroke-linejoin="round"/>
<polygon points="228.1,470.5 225.1,468.7 225.1,460.3 228.1,462.1" fill="#f8efe2" stroke="#f8efe2" stroke-width="0.35" stroke-linejoin="round"/>
<polygon points="227.5,469.6 225.7,468.5 225.7,461.2 227.5,462.3" fill="#9fdbe0" stroke="#9fdbe0" stroke-width="0.35" stroke-linejoin="round"/>
<polygon points="222.0,466.9 219.0,465.1 219.0,456.7 222.0,458.4" fill="#f8efe2" stroke="#f8efe2" stroke-width="0.35" stroke-linejoin="round"/>
<polygon points="221.4,465.9 219.6,464.9 219.6,457.6 221.4,458.7" fill="#9fdbe0" stroke="#9fdbe0" stroke-width="0.35" stroke-linejoin="round"/>
<polygon points="239.3,473.0 242.5,471.1 242.5,462.3 239.3,464.1" fill="#fbf4e6" stroke="#fbf4e6" stroke-width="0.35" stroke-linejoin="round"/>
<polygon points="239.9,472.0 241.9,470.9 241.9,463.2 239.9,464.4" fill="#9fdbe0" stroke="#9fdbe0" stroke-width="0.35" stroke-linejoin="round"/>
<polygon points="246.9,468.5 250.1,466.6 250.1,457.8 246.9,459.6" fill="#fbf4e6" stroke="#fbf4e6" stroke-width="0.35" stroke-linejoin="round"/>
<polygon points="247.5,467.5 249.5,466.4 249.5,458.7 247.5,459.9" fill="#9fdbe0" stroke="#9fdbe0" stroke-width="0.35" stroke-linejoin="round"/>
<polygon points="253.8,464.4 257.0,462.5 257.0,453.7 253.8,455.6" fill="#fbf4e6" stroke="#fbf4e6" stroke-width="0.35" stroke-linejoin="round"/>
<polygon points="254.4,463.5 256.4,462.3 256.4,454.6 254.4,455.8" fill="#9fdbe0" stroke="#9fdbe0" stroke-width="0.35" stroke-linejoin="round"/>
<polygon points="236.1,516.5 234.9,515.8 234.9,465.3 236.1,466.0" fill="#f3c29a" stroke="#f3c29a" stroke-width="0.35" stroke-linejoin="round"/>
<polygon points="235.5,516.5 236.8,515.7 236.8,465.2 235.5,466.0" fill="#fbe0b8" stroke="#fbe0b8" stroke-width="0.35" stroke-linejoin="round"/>
<circle cx="226.6" cy="512.8" r="5.8" fill="#2f7d33"/>
<circle cx="230.2" cy="513.8" r="4.8" fill="#3c8c3a"/>
<circle cx="223.2" cy="514.3" r="4.4" fill="#2f7d33"/>
<circle cx="227.1" cy="510.8" r="3.5" fill="#4a9a42"/>
<polygon points="118.5,445.9 127.0,441.1 130.0,442.9 130.0,445.4 121.5,450.1 118.5,448.3" fill="#e8414e" stroke="#e8414e" stroke-width="0.35" stroke-linejoin="round"/>
<polygon points="120.8,443.1 126.2,440.1 128.2,441.3 122.8,444.3" fill="#e8414e" stroke="#e8414e" stroke-width="0.35" stroke-linejoin="round"/>
<polygon points="120.6,444.7 122.8,445.9 122.8,444.3 120.8,443.1" fill="#b72c3a" stroke="#b72c3a" stroke-width="0.35" stroke-linejoin="round"/>
<polygon points="123.0,445.9 128.0,443.0 128.0,441.6 123.0,444.4" fill="#5a3a3a" stroke="#5a3a3a" stroke-width="0.35" stroke-linejoin="round"/>
<circle cx="122.8" cy="449.2" r="1.1" fill="#333"/>
<circle cx="128.4" cy="446.0" r="1.1" fill="#333"/>
<polygon points="127.3,450.5 135.8,445.7 138.8,447.5 138.8,450.0 130.3,454.7 127.3,452.9" fill="#f5a81c" stroke="#f5a81c" stroke-width="0.35" stroke-linejoin="round"/>
<polygon points="129.6,447.7 135.0,444.7 137.0,445.9 131.6,448.9" fill="#f5a81c" stroke="#f5a81c" stroke-width="0.35" stroke-linejoin="round"/>
<polygon points="129.4,449.3 131.6,450.5 131.6,448.9 129.6,447.7" fill="#d28a10" stroke="#d28a10" stroke-width="0.35" stroke-linejoin="round"/>
<polygon points="131.8,450.5 136.8,447.6 136.8,446.2 131.8,449.0" fill="#5a3a3a" stroke="#5a3a3a" stroke-width="0.35" stroke-linejoin="round"/>
<circle cx="131.6" cy="453.8" r="1.1" fill="#333"/>
<circle cx="137.2" cy="450.6" r="1.1" fill="#333"/>
<polygon points="140.7,459.2 149.2,454.4 152.2,456.2 152.2,458.7 143.7,463.4 140.7,461.6" fill="#26a79f" stroke="#26a79f" stroke-width="0.35" stroke-linejoin="round"/>
<polygon points="143.0,456.4 148.4,453.4 150.4,454.6 145.0,457.6" fill="#26a79f" stroke="#26a79f" stroke-width="0.35" stroke-linejoin="round"/>
<polygon points="142.8,458.0 145.0,459.2 145.0,457.6 143.0,456.4" fill="#1c857f" stroke="#1c857f" stroke-width="0.35" stroke-linejoin="round"/>
<polygon points="145.2,459.2 150.2,456.3 150.2,454.9 145.2,457.7" fill="#5a3a3a" stroke="#5a3a3a" stroke-width="0.35" stroke-linejoin="round"/>
<circle cx="145.0" cy="462.5" r="1.1" fill="#333"/>
<circle cx="150.6" cy="459.3" r="1.1" fill="#333"/>
<ellipse cx="98.6" cy="447.7" rx="3.4" ry="1.7" fill="#000" opacity="0.12"/>
<line x1="99.6" y1="447.7" x2="99.6" y2="440.7" stroke="#8a5a2a" stroke-width="1.1760000000000002"/>
<circle cx="99.6" cy="438.3" r="4.2" fill="#6aa63c"/>
<circle cx="97.7" cy="439.4" r="2.9" fill="#6aa63c"/>
<circle cx="101.5" cy="439.2" r="2.9" fill="#6aa63c"/>
<circle cx="100.0" cy="436.4" r="2.9" fill="#6aa63c"/>
<circle cx="100.6" cy="437.7" r="3.2" fill="#85bf4c"/>
<ellipse cx="111.9" cy="455.5" rx="3.4" ry="1.7" fill="#000" opacity="0.12"/>
<line x1="112.9" y1="455.5" x2="112.9" y2="447.5" stroke="#8a5a2a" stroke-width="1.1760000000000002"/>
<circle cx="112.9" cy="445.1" r="4.2" fill="#6aa63c"/>
<circle cx="111.0" cy="446.1" r="2.9" fill="#6aa63c"/>
<circle cx="114.8" cy="445.9" r="2.9" fill="#6aa63c"/>
<circle cx="113.3" cy="443.2" r="2.9" fill="#6aa63c"/>
<circle cx="113.9" cy="444.5" r="3.2" fill="#85bf4c"/>
<ellipse cx="125.4" cy="463.8" rx="3.5" ry="1.8" fill="#000" opacity="0.12"/>
<line x1="126.4" y1="463.8" x2="126.4" y2="455.3" stroke="#8a5a2a" stroke-width="1.2320000000000002"/>
<circle cx="126.4" cy="452.8" r="4.4" fill="#6aa63c"/>
<circle cx="124.4" cy="453.9" r="3.1" fill="#6aa63c"/>
<circle cx="128.4" cy="453.6" r="3.1" fill="#6aa63c"/>
<circle cx="126.8" cy="450.8" r="3.1" fill="#6aa63c"/>
<circle cx="127.5" cy="452.1" r="3.3" fill="#85bf4c"/>
<ellipse cx="148.5" cy="472.5" rx="3.2" ry="1.6" fill="#000" opacity="0.12"/>
<line x1="149.5" y1="472.5" x2="149.5" y2="468.0" stroke="#8a5a2a" stroke-width="1.12"/>
<circle cx="149.5" cy="465.8" r="4.0" fill="#6aa63c"/>
<circle cx="147.7" cy="466.8" r="2.8" fill="#6aa63c"/>
<circle cx="151.3" cy="466.6" r="2.8" fill="#6aa63c"/>
<circle cx="149.9" cy="464.0" r="2.8" fill="#6aa63c"/>
<circle cx="150.5" cy="465.2" r="3.0" fill="#85bf4c"/>
<ellipse cx="154.4" cy="468.8" rx="2.2" ry="1.1" fill="#000" opacity="0.12"/>
<line x1="155.4" y1="468.8" x2="155.4" y2="465.3" stroke="#8a5a2a" stroke-width="1.0"/>
<circle cx="155.4" cy="464.0" r="2.8" fill="#6aa63c"/>
<circle cx="154.1" cy="464.7" r="2.0" fill="#6aa63c"/>
<circle cx="156.7" cy="464.6" r="2.0" fill="#6aa63c"/>
<circle cx="155.7" cy="462.8" r="2.0" fill="#6aa63c"/>
<circle cx="156.1" cy="463.6" r="2.1" fill="#85bf4c"/>
<ellipse cx="183.2" cy="492.4" rx="4.3" ry="2.2" fill="#000" opacity="0.12"/>
<line x1="184.2" y1="492.4" x2="184.2" y2="482.9" stroke="#8a5a2a" stroke-width="1.5120000000000002"/>
<circle cx="184.2" cy="479.6" r="5.4" fill="#6aa63c"/>
<circle cx="181.8" cy="481.0" r="3.8" fill="#6aa63c"/>
<circle cx="186.7" cy="480.7" r="3.8" fill="#6aa63c"/>
<circle cx="184.8" cy="477.2" r="3.8" fill="#6aa63c"/>
<circle cx="185.6" cy="478.8" r="4.1" fill="#85bf4c"/>
<ellipse cx="197.5" cy="498.9" rx="3.0" ry="1.5" fill="#000" opacity="0.12"/>
<line x1="198.5" y1="498.9" x2="198.5" y2="491.9" stroke="#8a5a2a" stroke-width="1.064"/>
<circle cx="198.5" cy="489.9" r="3.8" fill="#6aa63c"/>
<circle cx="196.8" cy="490.8" r="2.7" fill="#6aa63c"/>
<circle cx="200.2" cy="490.6" r="2.7" fill="#6aa63c"/>
<circle cx="198.8" cy="488.1" r="2.7" fill="#6aa63c"/>
<circle cx="199.4" cy="489.3" r="2.8" fill="#85bf4c"/>
<polygon points="167.4,494.0 162.4,491.0 162.4,483.0 167.4,486.0" fill="#f3f1ea" stroke="#f3f1ea" stroke-width="0.35" stroke-linejoin="round"/>
<polygon points="167.4,494.0 177.4,488.1 177.4,480.1 167.4,486.0" fill="#e3e0d6" stroke="#e3e0d6" stroke-width="0.35" stroke-linejoin="round"/>
<polygon points="161.8,482.5 171.8,476.7 178.0,480.1 167.8,486.1" fill="#f1e6b8" stroke="#f1e6b8" stroke-width="0.35" stroke-linejoin="round"/>
<polygon points="163.6,482.4 171.8,477.7 176.2,480.1 167.8,484.9" fill="#4a4f56" stroke="#4a4f56" stroke-width="0.35" stroke-linejoin="round"/>
<polygon points="166.6,491.0 165.2,490.2 165.2,486.7 166.6,487.5" fill="#333" stroke="#333" stroke-width="0.35" stroke-linejoin="round"/>
<polygon points="164.5,489.8 163.1,489.0 163.1,485.5 164.5,486.3" fill="#333" stroke="#333" stroke-width="0.35" stroke-linejoin="round"/>
<polygon points="168.4,490.4 176.4,485.7 176.4,482.5 168.4,487.2" fill="#3a3d42" stroke="#3a3d42" stroke-width="0.35" stroke-linejoin="round"/>
</g>
<g id="tile4">
<defs><linearGradient id="silog" x1="0" x2="1" y1="0" y2="0"><stop offset="0" stop-color="#f1f2f4"/><stop offset="0.7" stop-color="#e6e7ea"/><stop offset="0.88" stop-color="#c9cbcf"/><stop offset="1" stop-color="#b9bbc0"/></linearGradient></defs>
<polygon points="855.5,400.7 1008.3,491.4 1008.3,496.9 855.5,406.2" fill="#4e545a" stroke="#4e545a" stroke-width="0.35" stroke-linejoin="round"/>
<polygon points="1008.3,491.4 1141.5,413.2 1141.5,418.7 1008.3,496.9" fill="#3b3f44" stroke="#3b3f44" stroke-width="0.35" stroke-linejoin="round"/>
<polygon points="988.7,322.5 1141.5,413.2 1008.3,491.4 855.5,400.7" fill="#5f666d" stroke="#5f666d" stroke-width="0.35" stroke-linejoin="round"/>
<polygon points="874.7,396.2 896.8,384.9 899.8,386.8 877.6,398.2" fill="#c0d344" stroke="#c0d344" stroke-width="2.5" stroke-linejoin="round"/>
<polygon points="936.6,358.8 945.0,354.3 945.4,356.7 938.1,361.0" fill="#c0d344" stroke="#c0d344" stroke-width="1.5" stroke-linejoin="round"/>
<polygon points="984.8,410.5 1013.4,396.3 1099.4,396.3 1121.2,412.9 1056.9,450.8" fill="#8d9997" stroke="#7b8684" stroke-width="3.5" stroke-linejoin="round"/>
<polygon points="984.8,410.5 1013.4,396.3 1099.4,396.3 1121.2,412.9 1056.9,450.8" fill="#8d9997" stroke="#8d9997" stroke-width="1.5" stroke-linejoin="round"/>
<polygon points="988.5,407.7 997.7,402.6 1000.5,404.4 995.9,407.7 1000.5,411.8 997.7,414.2" fill="#c0d344" stroke="#c0d344" stroke-width="1.5" stroke-linejoin="round"/>
<polygon points="1045.8,441.9 1058.7,439.1 1066.1,441.9 1058.7,446.9" fill="#c0d344" stroke="#c0d344" stroke-width="1.5" stroke-linejoin="round"/>
<polygon points="1104.9,405.9 1108.6,408.1 1104.6,411.1 1107.2,415.1 1117.0,412.3 1114.2,407.7" fill="#c0d344" stroke="#c0d344" stroke-width="1.5" stroke-linejoin="round"/>
<line x1="999.6" y1="415.5" x2="1004.2" y2="412.8" stroke="#e8ecec" stroke-width="0.7"/>
<line x1="1006.0" y1="419.2" x2="1010.6" y2="416.5" stroke="#e8ecec" stroke-width="0.7"/>
<line x1="1012.9" y1="422.9" x2="1017.5" y2="420.2" stroke="#e8ecec" stroke-width="0.7"/>
<line x1="1041.2" y1="439.1" x2="1045.8" y2="436.4" stroke="#e8ecec" stroke-width="0.7"/>
<line x1="1066.1" y1="439.5" x2="1070.7" y2="436.8" stroke="#e8ecec" stroke-width="0.7"/>
<line x1="1070.7" y1="435.5" x2="1075.3" y2="432.8" stroke="#e8ecec" stroke-width="0.7"/>
<line x1="1076.8" y1="432.7" x2="1081.4" y2="430.0" stroke="#e8ecec" stroke-width="0.7"/>
<line x1="1094.2" y1="423.4" x2="1098.8" y2="420.7" stroke="#e8ecec" stroke-width="0.7"/>
<line x1="1099.4" y1="420.3" x2="1104.0" y2="417.6" stroke="#e8ecec" stroke-width="0.7"/>
<line x1="1000.5" y1="413.3" x2="1002.7" y2="414.6" stroke="#e8ecec" stroke-width="0.7"/>
<line x1="1007.0" y1="417.0" x2="1009.2" y2="418.3" stroke="#e8ecec" stroke-width="0.7"/>
<line x1="1013.6" y1="420.7" x2="1015.8" y2="422.0" stroke="#e8ecec" stroke-width="0.7"/>
<line x1="1069.8" y1="434.0" x2="1072.0" y2="435.3" stroke="#e8ecec" stroke-width="0.7"/>
<line x1="1075.7" y1="431.0" x2="1077.9" y2="432.3" stroke="#e8ecec" stroke-width="0.7"/>
<line x1="1095.7" y1="421.6" x2="1097.9" y2="422.9" stroke="#e8ecec" stroke-width="0.7"/>
<line x1="1100.9" y1="418.4" x2="1103.1" y2="419.7" stroke="#e8ecec" stroke-width="0.7"/>
<polygon points="933.5,437.0 948.5,428.6 967.0,420.3 990.4,432.7 990.4,449.9 973.4,460.2" fill="#c0d344" stroke="#c0d344" stroke-width="3" stroke-linejoin="round"/>
<polygon points="940.5,437.0 953.4,430.2 970.7,424.7 987.7,433.5 987.7,448.7 975.0,456.1" fill="#e6dfca" stroke="#e6dfca" stroke-width="0.35" stroke-linejoin="round"/>
<polygon points="933.5,437.0 940.5,433.0 943.6,434.8 937.4,438.5" fill="#e6dfca" stroke="#e6dfca" stroke-width="0.35" stroke-linejoin="round"/>
<polygon points="984.4,466.9 1031.0,454.3 1043.6,460.4 1009.2,481.3" fill="#c0d344" stroke="#c0d344" stroke-width="1.5" stroke-linejoin="round"/>
<path d="M971.5 306.6 A11.5 6.9 0 0 0 977.3 312.6 L1004.4 326.7 A11.5 6.9 0 0 0 1021.6 320.7 V369.7 A11.5 6.9 0 0 1 1004.4 375.7 L977.3 361.6 A11.5 6.9 0 0 1 971.5 355.6 Z" fill="url(#silog)"/>
<polygon points="972.7,309.6 977.3,314.1 1003.4,328.2 1003.4,372.7 977.3,358.6 972.7,350.6" fill="#9ed6ec" stroke="#9ed6ec" stroke-width="0.35" stroke-linejoin="round"/>
<line x1="977.3" y1="314.1" x2="977.3" y2="358.6" stroke="#eef7fb" stroke-width="0.9"/>
<line x1="978.9" y1="315.0" x2="978.9" y2="359.5" stroke="#c4e6f4" stroke-width="1.2"/>
<line x1="980.5" y1="315.9" x2="980.5" y2="360.4" stroke="#eef7fb" stroke-width="0.9"/>
<line x1="982.2" y1="316.8" x2="982.2" y2="361.3" stroke="#c4e6f4" stroke-width="1.2"/>
<line x1="983.8" y1="317.6" x2="983.8" y2="362.1" stroke="#eef7fb" stroke-width="0.9"/>
<line x1="985.4" y1="318.5" x2="985.4" y2="363.0" stroke="#c4e6f4" stroke-width="1.2"/>
<line x1="987.1" y1="319.4" x2="987.1" y2="363.9" stroke="#eef7fb" stroke-width="0.9"/>
<line x1="988.7" y1="320.3" x2="988.7" y2="364.8" stroke="#c4e6f4" stroke-width="1.2"/>
<line x1="990.3" y1="321.2" x2="990.3" y2="365.7" stroke="#eef7fb" stroke-width="0.9"/>
<line x1="992.0" y1="322.0" x2="992.0" y2="366.5" stroke="#c4e6f4" stroke-width="1.2"/>
<line x1="993.6" y1="322.9" x2="993.6" y2="367.4" stroke="#eef7fb" stroke-width="0.9"/>
<line x1="995.2" y1="323.8" x2="995.2" y2="368.3" stroke="#c4e6f4" stroke-width="1.2"/>
<line x1="996.8" y1="324.7" x2="996.8" y2="369.2" stroke="#eef7fb" stroke-width="0.9"/>
<line x1="998.5" y1="325.5" x2="998.5" y2="370.0" stroke="#c4e6f4" stroke-width="1.2"/>
<line x1="1000.1" y1="326.4" x2="1000.1" y2="370.9" stroke="#eef7fb" stroke-width="0.9"/>
<line x1="1001.7" y1="327.3" x2="1001.7" y2="371.8" stroke="#c4e6f4" stroke-width="1.2"/>
<line x1="1003.4" y1="328.2" x2="1003.4" y2="372.7" stroke="#eef7fb" stroke-width="0.9"/>
<line x1="972.7" y1="314.6" x2="977.3" y2="319.1" stroke="#d9eff8" stroke-width="0.5"/>
<line x1="977.3" y1="319.1" x2="1003.4" y2="333.2" stroke="#d9eff8" stroke-width="0.5"/>
<line x1="972.7" y1="319.6" x2="977.3" y2="324.1" stroke="#d9eff8" stroke-width="0.5"/>
<line x1="977.3" y1="324.1" x2="1003.4" y2="338.2" stroke="#d9eff8" stroke-width="0.5"/>
<line x1="972.7" y1="324.6" x2="977.3" y2="329.1" stroke="#d9eff8" stroke-width="0.5"/>
<line x1="977.3" y1="329.1" x2="1003.4" y2="343.2" stroke="#d9eff8" stroke-width="0.5"/>
<line x1="972.7" y1="329.6" x2="977.3" y2="334.1" stroke="#d9eff8" stroke-width="0.5"/>
<line x1="977.3" y1="334.1" x2="1003.4" y2="348.2" stroke="#d9eff8" stroke-width="0.5"/>
<line x1="972.7" y1="334.6" x2="977.3" y2="339.1" stroke="#d9eff8" stroke-width="0.5"/>
<line x1="977.3" y1="339.1" x2="1003.4" y2="353.2" stroke="#d9eff8" stroke-width="0.5"/>
<line x1="972.7" y1="339.6" x2="977.3" y2="344.1" stroke="#d9eff8" stroke-width="0.5"/>
<line x1="977.3" y1="344.1" x2="1003.4" y2="358.2" stroke="#d9eff8" stroke-width="0.5"/>
<line x1="972.7" y1="344.6" x2="977.3" y2="349.1" stroke="#d9eff8" stroke-width="0.5"/>
<line x1="977.3" y1="349.1" x2="1003.4" y2="363.2" stroke="#d9eff8" stroke-width="0.5"/>
<line x1="972.7" y1="349.6" x2="977.3" y2="354.1" stroke="#d9eff8" stroke-width="0.5"/>
<line x1="977.3" y1="354.1" x2="1003.4" y2="368.2" stroke="#d9eff8" stroke-width="0.5"/>
<path d="M988.8 300.6 A11.5 6.9 0 0 0 977.3 312.6 L1004.4 326.7 A11.5 6.9 0 0 0 1015.9 314.7 Z" fill="#e9eaec"/>
<path d="M987.8 301.6 A9.7 5.8 0 0 0 978.2 311.7 L1005.3 325.7 A9.7 5.8 0 0 0 1015.0 315.6 Z" fill="#74777c"/>
<polygon points="985.2,310.4 982.1,308.5 982.1,305.5 985.2,307.4" fill="#dcdcdc" stroke="#dcdcdc" stroke-width="0.35" stroke-linejoin="round"/>
<polygon points="985.2,310.4 988.3,308.5 988.3,305.5 985.2,307.4" fill="#c2c2c4" stroke="#c2c2c4" stroke-width="0.35" stroke-linejoin="round"/>
<polygon points="985.2,307.4 982.1,305.5 985.2,303.7 988.3,305.5" fill="#f6f6f4" stroke="#f6f6f4" stroke-width="0.35" stroke-linejoin="round"/>
<polygon points="996.6,316.3 993.5,314.4 993.5,311.4 996.6,313.3" fill="#dcdcdc" stroke="#dcdcdc" stroke-width="0.35" stroke-linejoin="round"/>
<polygon points="996.6,316.3 999.7,314.4 999.7,311.4 996.6,313.3" fill="#c2c2c4" stroke="#c2c2c4" stroke-width="0.35" stroke-linejoin="round"/>
<polygon points="996.6,313.3 993.5,311.4 996.6,309.6 999.7,311.4" fill="#f6f6f4" stroke="#f6f6f4" stroke-width="0.35" stroke-linejoin="round"/>
<polygon points="1008.0,322.2 1004.9,320.3 1004.9,317.3 1008.0,319.2" fill="#dcdcdc" stroke="#dcdcdc" stroke-width="0.35" stroke-linejoin="round"/>
<polygon points="1008.0,322.2 1011.1,320.3 1011.1,317.3 1008.0,319.2" fill="#c2c2c4" stroke="#c2c2c4" stroke-width="0.35" stroke-linejoin="round"/>
<polygon points="1008.0,319.2 1004.9,317.3 1008.0,315.5 1011.1,317.3" fill="#f6f6f4" stroke="#f6f6f4" stroke-width="0.35" stroke-linejoin="round"/>
<path d="M945.1 320.7 A12.5 7.5 0 0 0 951.4 327.2 L980.9 342.7 A12.5 7.5 0 0 0 999.7 336.2 V384.2 A12.5 7.5 0 0 1 980.9 390.7 L951.4 375.2 A12.5 7.5 0 0 1 945.1 368.7 Z" fill="url(#silog)"/>
<polygon points="946.3,323.7 951.4,328.7 979.9,344.2 979.9,387.7 951.4,372.2 946.3,363.7" fill="#9ed6ec" stroke="#9ed6ec" stroke-width="0.35" stroke-linejoin="round"/>
<line x1="951.4" y1="328.7" x2="951.4" y2="372.2" stroke="#eef7fb" stroke-width="0.9"/>
<line x1="953.2" y1="329.7" x2="953.2" y2="373.2" stroke="#c4e6f4" stroke-width="1.2"/>
<line x1="954.9" y1="330.6" x2="954.9" y2="374.1" stroke="#eef7fb" stroke-width="0.9"/>
<line x1="956.7" y1="331.6" x2="956.7" y2="375.1" stroke="#c4e6f4" stroke-width="1.2"/>
<line x1="958.5" y1="332.6" x2="958.5" y2="376.1" stroke="#eef7fb" stroke-width="0.9"/>
<line x1="960.3" y1="333.6" x2="960.3" y2="377.1" stroke="#c4e6f4" stroke-width="1.2"/>
<line x1="962.1" y1="334.5" x2="962.1" y2="378.0" stroke="#eef7fb" stroke-width="0.9"/>
<line x1="963.9" y1="335.5" x2="963.9" y2="379.0" stroke="#c4e6f4" stroke-width="1.2"/>
<line x1="965.7" y1="336.5" x2="965.7" y2="380.0" stroke="#eef7fb" stroke-width="0.9"/>
<line x1="967.4" y1="337.4" x2="967.4" y2="380.9" stroke="#c4e6f4" stroke-width="1.2"/>
<line x1="969.2" y1="338.4" x2="969.2" y2="381.9" stroke="#eef7fb" stroke-width="0.9"/>
<line x1="971.0" y1="339.4" x2="971.0" y2="382.9" stroke="#c4e6f4" stroke-width="1.2"/>
<line x1="972.8" y1="340.4" x2="972.8" y2="383.9" stroke="#eef7fb" stroke-width="0.9"/>
<line x1="974.6" y1="341.3" x2="974.6" y2="384.8" stroke="#c4e6f4" stroke-width="1.2"/>
<line x1="976.4" y1="342.3" x2="976.4" y2="385.8" stroke="#eef7fb" stroke-width="0.9"/>
<line x1="978.2" y1="343.3" x2="978.2" y2="386.8" stroke="#c4e6f4" stroke-width="1.2"/>
<line x1="979.9" y1="344.2" x2="979.9" y2="387.7" stroke="#eef7fb" stroke-width="0.9"/>
<line x1="946.3" y1="328.6" x2="951.4" y2="333.6" stroke="#d9eff8" stroke-width="0.5"/>
<line x1="951.4" y1="333.6" x2="979.9" y2="349.1" stroke="#d9eff8" stroke-width="0.5"/>
<line x1="946.3" y1="333.5" x2="951.4" y2="338.5" stroke="#d9eff8" stroke-width="0.5"/>
<line x1="951.4" y1="338.5" x2="979.9" y2="354.0" stroke="#d9eff8" stroke-width="0.5"/>
<line x1="946.3" y1="338.3" x2="951.4" y2="343.4" stroke="#d9eff8" stroke-width="0.5"/>
<line x1="951.4" y1="343.4" x2="979.9" y2="358.9" stroke="#d9eff8" stroke-width="0.5"/>
<line x1="946.3" y1="343.2" x2="951.4" y2="348.3" stroke="#d9eff8" stroke-width="0.5"/>
<line x1="951.4" y1="348.3" x2="979.9" y2="363.8" stroke="#d9eff8" stroke-width="0.5"/>
<line x1="946.3" y1="348.1" x2="951.4" y2="353.1" stroke="#d9eff8" stroke-width="0.5"/>
<line x1="951.4" y1="353.1" x2="979.9" y2="368.7" stroke="#d9eff8" stroke-width="0.5"/>
<line x1="946.3" y1="353.0" x2="951.4" y2="358.0" stroke="#d9eff8" stroke-width="0.5"/>
<line x1="951.4" y1="358.0" x2="979.9" y2="373.6" stroke="#d9eff8" stroke-width="0.5"/>
<line x1="946.3" y1="357.9" x2="951.4" y2="362.9" stroke="#d9eff8" stroke-width="0.5"/>
<line x1="951.4" y1="362.9" x2="979.9" y2="378.5" stroke="#d9eff8" stroke-width="0.5"/>
<line x1="946.3" y1="362.8" x2="951.4" y2="367.8" stroke="#d9eff8" stroke-width="0.5"/>
<line x1="951.4" y1="367.8" x2="979.9" y2="383.3" stroke="#d9eff8" stroke-width="0.5"/>
<path d="M963.9 314.2 A12.5 7.5 0 0 0 951.4 327.2 L980.9 342.7 A12.5 7.5 0 0 0 993.4 329.7 Z" fill="#e9eaec"/>
<path d="M962.9 315.2 A10.5 6.3 0 0 0 952.4 326.2 L981.9 341.7 A10.5 6.3 0 0 0 992.4 330.7 Z" fill="#74777c"/>
<polygon points="960.0,324.5 956.9,322.7 956.9,319.7 960.0,321.5" fill="#dcdcdc" stroke="#dcdcdc" stroke-width="0.35" stroke-linejoin="round"/>
<polygon points="960.0,324.5 963.1,322.7 963.1,319.7 960.0,321.5" fill="#c2c2c4" stroke="#c2c2c4" stroke-width="0.35" stroke-linejoin="round"/>
<polygon points="960.0,321.5 956.9,319.7 960.0,317.9 963.1,319.7" fill="#f6f6f4" stroke="#f6f6f4" stroke-width="0.35" stroke-linejoin="round"/>
<polygon points="972.4,331.0 969.3,329.2 969.3,326.2 972.4,328.0" fill="#dcdcdc" stroke="#dcdcdc" stroke-width="0.35" stroke-linejoin="round"/>
<polygon points="972.4,331.0 975.5,329.2 975.5,326.2 972.4,328.0" fill="#c2c2c4" stroke="#c2c2c4" stroke-width="0.35" stroke-linejoin="round"/>
<polygon points="972.4,328.0 969.3,326.2 972.4,324.4 975.5,326.2" fill="#f6f6f4" stroke="#f6f6f4" stroke-width="0.35" stroke-linejoin="round"/>
<polygon points="984.8,337.6 981.7,335.7 981.7,332.7 984.8,334.6" fill="#dcdcdc" stroke="#dcdcdc" stroke-width="0.35" stroke-linejoin="round"/>
<polygon points="984.8,337.6 987.9,335.7 987.9,332.7 984.8,334.6" fill="#c2c2c4" stroke="#c2c2c4" stroke-width="0.35" stroke-linejoin="round"/>
<polygon points="984.8,334.6 981.7,332.7 984.8,330.9 987.9,332.7" fill="#f6f6f4" stroke="#f6f6f4" stroke-width="0.35" stroke-linejoin="round"/>
<polygon points="900.2,366.0 912.1,373.3 912.1,400.2 900.2,393.0" fill="#2a6db5" stroke="#2a6db5" stroke-width="0.35" stroke-linejoin="round"/>
<polygon points="912.1,373.3 919.1,376.9 919.1,403.9 912.1,400.2" fill="#3b82c8" stroke="#3b82c8" stroke-width="0.35" stroke-linejoin="round"/>
<polygon points="919.1,376.9 927.2,375.6 927.2,402.6 919.1,403.9" fill="#2766aa" stroke="#2766aa" stroke-width="0.35" stroke-linejoin="round"/>
<polygon points="927.2,375.6 936.6,376.3 936.6,403.3 927.2,402.6" fill="#1b5190" stroke="#1b5190" stroke-width="0.35" stroke-linejoin="round"/>
<polygon points="936.6,376.3 940.7,377.9 940.7,404.9 936.6,403.3" fill="#2463a6" stroke="#2463a6" stroke-width="0.35" stroke-linejoin="round"/>
<polygon points="940.7,377.9 954.5,386.9 954.5,413.8 940.7,404.9" fill="#2b6cb2" stroke="#2b6cb2" stroke-width="0.35" stroke-linejoin="round"/>
<polygon points="954.5,386.9 967.9,379.3 967.9,405.4 954.5,413.2" fill="#1c4a86" stroke="#1c4a86" stroke-width="0.35" stroke-linejoin="round"/>
<path d="M912.1 400.2 Q921.3 407.0 927.2 402.6 L927.2 405.4 912.1 405.4 Z" fill="#5f666d"/>
<path d="M900.2 372.7 L912.1 380.0 Q918.3 383.8 922.4 383.0 Q931.0 381.4 936.6 383.0 L954.5 393.5" fill="none" stroke="#9cc3ea" stroke-width="0.7"/>
<line x1="954.5" y1="393.5" x2="967.9" y2="386.0" stroke="#7fa8d8" stroke-width="0.6"/>
<path d="M900.2 379.5 L912.1 386.7 Q918.3 390.6 922.4 389.8 Q931.0 388.1 936.6 389.8 L954.5 400.3" fill="none" stroke="#9cc3ea" stroke-width="0.7"/>
<line x1="954.5" y1="400.3" x2="967.9" y2="392.8" stroke="#7fa8d8" stroke-width="0.6"/>
<path d="M900.2 386.3 L912.1 393.5 Q918.3 397.4 922.4 396.6 Q931.0 394.9 936.6 396.6 L954.5 407.1" fill="none" stroke="#9cc3ea" stroke-width="0.7"/>
<line x1="954.5" y1="407.1" x2="967.9" y2="399.6" stroke="#7fa8d8" stroke-width="0.6"/>
<line x1="902.9" y1="388.1" x2="913.2" y2="377.4" stroke="#a9cdf0" stroke-width="1.3" opacity="0.6"/>
<line x1="912.1" y1="388.1" x2="918.9" y2="380.6" stroke="#a9cdf0" stroke-width="1.3" opacity="0.6"/>
<line x1="939.1" y1="403.3" x2="950.4" y2="386.5" stroke="#a9cdf0" stroke-width="1.3" opacity="0.6"/>
<line x1="943.9" y1="407.6" x2="953.6" y2="392.5" stroke="#a9cdf0" stroke-width="1.3" opacity="0.6"/>
<path d="M899.9 365.5 L925.1 352.8 968.1 378.9 954.5 386.9 940.7 377.9 Q935.3 375.0 927.8 375.4 Q921.3 377.4 917.8 376.5 Z" fill="#a9bdc8"/>
<path d="M899.9 365.5 L917.8 376.5 Q921.3 377.4 927.8 375.4 Q935.3 375.0 940.7 377.9 L954.5 386.9 968.1 378.9" fill="none" stroke="#e4edf2" stroke-width="1.0"/>
<polygon points="902.1,388.7 909.2,393.0 909.2,401.1 902.1,396.8" fill="#e8464f" stroke="#e8464f" stroke-width="0.35" stroke-linejoin="round"/>
<polygon points="903.8,391.4 907.8,393.8 907.8,400.2 903.8,397.9" fill="#9fd0e6" stroke="#9fd0e6" stroke-width="0.35" stroke-linejoin="round"/>
<text transform="matrix(0.86 0.5 0 1 899.5 364.8)" font-size="5.4" font-weight="bold" fill="#e8404a" stroke="#c22f3c" stroke-width="0.2" textLength="21" lengthAdjust="spacingAndGlyphs">CINEMA</text>
<polygon points="883.8,403.6 888.0,401.2 890.4,402.6 886.2,405.1" fill="#d9dde0" stroke="#d9dde0" stroke-width="0.35" stroke-linejoin="round"/>
<polygon points="884.4,402.6 887.8,400.6 889.8,401.8 886.4,403.9" fill="#e8414e" stroke="#e8414e" stroke-width="0.35" stroke-linejoin="round"/>
<polygon points="888.7,406.1 892.9,403.7 895.3,405.1 891.1,407.6" fill="#d9dde0" stroke="#d9dde0" stroke-width="0.35" stroke-linejoin="round"/>
<polygon points="889.3,405.1 892.7,403.1 894.7,404.3 891.3,406.4" fill="#f5a81c" stroke="#f5a81c" stroke-width="0.35" stroke-linejoin="round"/>
<polygon points="896.8,411.0 901.0,408.6 903.4,410.0 899.2,412.5" fill="#d9dde0" stroke="#d9dde0" stroke-width="0.35" stroke-linejoin="round"/>
<polygon points="897.4,410.0 900.8,408.0 902.8,409.2 899.4,411.3" fill="#26a79f" stroke="#26a79f" stroke-width="0.35" stroke-linejoin="round"/>
<line x1="925.9" y1="430.0" x2="925.9" y2="412.0" stroke="#4f6a80" stroke-width="1.2"/>
<line x1="925.9" y1="412.0" x2="922.0" y2="414.0" stroke="#9fb4c4" stroke-width="1.2"/>
<ellipse cx="925.9" cy="430.0" rx="1.5" ry="0.8" fill="#3a4a58"/>
<polygon points="1015.1,323.1 1021.2,326.8 1021.2,416.8 1015.1,413.1" fill="#9ed0e4" stroke="#9ed0e4" stroke-width="0.35" stroke-linejoin="round"/>
<polygon points="1021.2,326.8 1044.6,340.4 1044.6,430.4 1021.2,416.8" fill="#f1f2f2" stroke="#f1f2f2" stroke-width="0.35" stroke-linejoin="round"/>
<polygon points="1044.6,340.4 1064.4,340.4 1064.4,430.4 1044.6,430.4" fill="#a6d6e4" stroke="#a6d6e4" stroke-width="0.35" stroke-linejoin="round"/>
<polygon points="1064.4,340.4 1087.8,326.8 1087.8,416.8 1064.4,430.4" fill="#e2e4e6" stroke="#e2e4e6" stroke-width="0.35" stroke-linejoin="round"/>
<polygon points="1087.8,326.8 1094.7,323.1 1094.7,413.1 1087.8,416.8" fill="#86bfd8" stroke="#86bfd8" stroke-width="0.35" stroke-linejoin="round"/>
<polygon points="1021.7,333.6 1044.2,346.5 1044.2,348.8 1021.7,335.9" fill="#7fbfd6" stroke="#7fbfd6" stroke-width="0.35" stroke-linejoin="round"/>
<polygon points="1064.9,346.5 1087.3,333.6 1087.3,335.9 1064.9,348.8" fill="#6db2cc" stroke="#6db2cc" stroke-width="0.35" stroke-linejoin="round"/>
<polygon points="1021.7,332.9 1044.2,345.9 1044.2,346.7 1021.7,333.7" fill="#c9d2d6" stroke="#c9d2d6" stroke-width="0.35" stroke-linejoin="round"/>
<polygon points="1064.9,345.9 1087.3,332.9 1087.3,333.7 1064.9,346.7" fill="#b9c4c9" stroke="#b9c4c9" stroke-width="0.35" stroke-linejoin="round"/>
<polygon points="1047.9,343.1 1050.3,343.1 1050.3,347.4 1047.9,347.4" fill="#d9f0f5" stroke="#d9f0f5" stroke-width="0.35" stroke-linejoin="round"/>
<polygon points="1058.7,343.1 1061.2,343.1 1061.2,347.4 1058.7,347.4" fill="#d9f0f5" stroke="#d9f0f5" stroke-width="0.35" stroke-linejoin="round"/>
<line x1="1044.6" y1="348.4" x2="1064.4" y2="348.4" stroke="#2f9aa6" stroke-width="0.8"/>
<polygon points="1015.6,326.4 1020.7,329.3 1020.7,334.4 1015.6,331.4" fill="#bfe2ee" stroke="#bfe2ee" stroke-width="0.35" stroke-linejoin="round"/>
<polygon points="1088.3,329.3 1094.2,326.4 1094.2,331.4 1088.3,334.4" fill="#a5d2e4" stroke="#a5d2e4" stroke-width="0.35" stroke-linejoin="round"/>
<polygon points="1021.7,340.3 1044.2,353.3 1044.2,355.6 1021.7,342.6" fill="#7fbfd6" stroke="#7fbfd6" stroke-width="0.35" stroke-linejoin="round"/>
<polygon points="1064.9,353.3 1087.3,340.3 1087.3,342.6 1064.9,355.6" fill="#6db2cc" stroke="#6db2cc" stroke-width="0.35" stroke-linejoin="round"/>
<polygon points="1021.7,339.7 1044.2,352.6 1044.2,353.4 1021.7,340.5" fill="#c9d2d6" stroke="#c9d2d6" stroke-width="0.35" stroke-linejoin="round"/>
<polygon points="1064.9,352.6 1087.3,339.7 1087.3,340.5 1064.9,353.4" fill="#b9c4c9" stroke="#b9c4c9" stroke-width="0.35" stroke-linejoin="round"/>
<polygon points="1047.9,349.9 1050.3,349.9 1050.3,354.2 1047.9,354.2" fill="#d9f0f5" stroke="#d9f0f5" stroke-width="0.35" stroke-linejoin="round"/>
<polygon points="1058.7,349.9 1061.2,349.9 1061.2,354.2 1058.7,354.2" fill="#d9f0f5" stroke="#d9f0f5" stroke-width="0.35" stroke-linejoin="round"/>
<line x1="1044.6" y1="355.2" x2="1064.4" y2="355.2" stroke="#2f9aa6" stroke-width="0.8"/>
<polygon points="1015.6,333.1 1020.7,336.1 1020.7,341.1 1015.6,338.2" fill="#bfe2ee" stroke="#bfe2ee" stroke-width="0.35" stroke-linejoin="round"/>
<polygon points="1088.3,336.1 1094.2,333.1 1094.2,338.2 1088.3,341.1" fill="#a5d2e4" stroke="#a5d2e4" stroke-width="0.35" stroke-linejoin="round"/>
<polygon points="1021.7,347.1 1044.2,360.1 1044.2,362.4 1021.7,349.4" fill="#7fbfd6" stroke="#7fbfd6" stroke-width="0.35" stroke-linejoin="round"/>
<polygon points="1064.9,360.1 1087.3,347.1 1087.3,349.4 1064.9,362.4" fill="#6db2cc" stroke="#6db2cc" stroke-width="0.35" stroke-linejoin="round"/>
<polygon points="1021.7,346.4 1044.2,359.4 1044.2,360.2 1021.7,347.2" fill="#c9d2d6" stroke="#c9d2d6" stroke-width="0.35" stroke-linejoin="round"/>
<polygon points="1064.9,359.4 1087.3,346.4 1087.3,347.2 1064.9,360.2" fill="#b9c4c9" stroke="#b9c4c9" stroke-width="0.35" stroke-linejoin="round"/>
<polygon points="1047.9,356.6 1050.3,356.6 1050.3,360.9 1047.9,360.9" fill="#d9f0f5" stroke="#d9f0f5" stroke-width="0.35" stroke-linejoin="round"/>
<polygon points="1058.7,356.6 1061.2,356.6 1061.2,360.9 1058.7,360.9" fill="#d9f0f5" stroke="#d9f0f5" stroke-width="0.35" stroke-linejoin="round"/>
<line x1="1044.6" y1="361.9" x2="1064.4" y2="361.9" stroke="#2f9aa6" stroke-width="0.8"/>
<polygon points="1015.6,339.9 1020.7,342.8 1020.7,347.9 1015.6,344.9" fill="#bfe2ee" stroke="#bfe2ee" stroke-width="0.35" stroke-linejoin="round"/>
<polygon points="1088.3,342.8 1094.2,339.9 1094.2,344.9 1088.3,347.9" fill="#a5d2e4" stroke="#a5d2e4" stroke-width="0.35" stroke-linejoin="round"/>
<polygon points="1021.7,353.9 1044.2,366.8 1044.2,369.1 1021.7,356.2" fill="#7fbfd6" stroke="#7fbfd6" stroke-width="0.35" stroke-linejoin="round"/>
<polygon points="1064.9,366.8 1087.3,353.9 1087.3,356.2 1064.9,369.1" fill="#6db2cc" stroke="#6db2cc" stroke-width="0.35" stroke-linejoin="round"/>
<polygon points="1021.7,353.2 1044.2,366.2 1044.2,367.0 1021.7,354.0" fill="#c9d2d6" stroke="#c9d2d6" stroke-width="0.35" stroke-linejoin="round"/>
<polygon points="1064.9,366.2 1087.3,353.2 1087.3,354.0 1064.9,367.0" fill="#b9c4c9" stroke="#b9c4c9" stroke-width="0.35" stroke-linejoin="round"/>
<polygon points="1047.9,363.4 1050.3,363.4 1050.3,367.7 1047.9,367.7" fill="#d9f0f5" stroke="#d9f0f5" stroke-width="0.35" stroke-linejoin="round"/>
<polygon points="1058.7,363.4 1061.2,363.4 1061.2,367.7 1058.7,367.7" fill="#d9f0f5" stroke="#d9f0f5" stroke-width="0.35" stroke-linejoin="round"/>
<line x1="1044.6" y1="368.7" x2="1064.4" y2="368.7" stroke="#2f9aa6" stroke-width="0.8"/>
<polygon points="1015.6,346.6 1020.7,349.6 1020.7,354.6 1015.6,351.7" fill="#bfe2ee" stroke="#bfe2ee" stroke-width="0.35" stroke-linejoin="round"/>
<polygon points="1088.3,349.6 1094.2,346.6 1094.2,351.7 1088.3,354.6" fill="#a5d2e4" stroke="#a5d2e4" stroke-width="0.35" stroke-linejoin="round"/>
<polygon points="1021.7,360.6 1044.2,373.6 1044.2,375.9 1021.7,362.9" fill="#7fbfd6" stroke="#7fbfd6" stroke-width="0.35" stroke-linejoin="round"/>
<polygon points="1064.9,373.6 1087.3,360.6 1087.3,362.9 1064.9,375.9" fill="#6db2cc" stroke="#6db2cc" stroke-width="0.35" stroke-linejoin="round"/>
<polygon points="1021.7,360.0 1044.2,372.9 1044.2,373.7 1021.7,360.8" fill="#c9d2d6" stroke="#c9d2d6" stroke-width="0.35" stroke-linejoin="round"/>
<polygon points="1064.9,372.9 1087.3,360.0 1087.3,360.8 1064.9,373.7" fill="#b9c4c9" stroke="#b9c4c9" stroke-width="0.35" stroke-linejoin="round"/>
<polygon points="1047.9,370.2 1050.3,370.2 1050.3,374.5 1047.9,374.5" fill="#d9f0f5" stroke="#d9f0f5" stroke-width="0.35" stroke-linejoin="round"/>
<polygon points="1058.7,370.2 1061.2,370.2 1061.2,374.5 1058.7,374.5" fill="#d9f0f5" stroke="#d9f0f5" stroke-width="0.35" stroke-linejoin="round"/>
<line x1="1044.6" y1="375.5" x2="1064.4" y2="375.5" stroke="#2f9aa6" stroke-width="0.8"/>
<polygon points="1015.6,353.4 1020.7,356.4 1020.7,361.4 1015.6,358.5" fill="#bfe2ee" stroke="#bfe2ee" stroke-width="0.35" stroke-linejoin="round"/>
<polygon points="1088.3,356.4 1094.2,353.4 1094.2,358.5 1088.3,361.4" fill="#a5d2e4" stroke="#a5d2e4" stroke-width="0.35" stroke-linejoin="round"/>
<polygon points="1021.7,367.4 1044.2,380.4 1044.2,382.7 1021.7,369.7" fill="#7fbfd6" stroke="#7fbfd6" stroke-width="0.35" stroke-linejoin="round"/>
<polygon points="1064.9,380.4 1087.3,367.4 1087.3,369.7 1064.9,382.7" fill="#6db2cc" stroke="#6db2cc" stroke-width="0.35" stroke-linejoin="round"/>
<polygon points="1021.7,366.7 1044.2,379.7 1044.2,380.5 1021.7,367.5" fill="#c9d2d6" stroke="#c9d2d6" stroke-width="0.35" stroke-linejoin="round"/>
<polygon points="1064.9,379.7 1087.3,366.7 1087.3,367.5 1064.9,380.5" fill="#b9c4c9" stroke="#b9c4c9" stroke-width="0.35" stroke-linejoin="round"/>
<polygon points="1047.9,376.9 1050.3,376.9 1050.3,381.2 1047.9,381.2" fill="#d9f0f5" stroke="#d9f0f5" stroke-width="0.35" stroke-linejoin="round"/>
<polygon points="1058.7,376.9 1061.2,376.9 1061.2,381.2 1058.7,381.2" fill="#d9f0f5" stroke="#d9f0f5" stroke-width="0.35" stroke-linejoin="round"/>
<line x1="1044.6" y1="382.2" x2="1064.4" y2="382.2" stroke="#2f9aa6" stroke-width="0.8"/>
<polygon points="1015.6,360.2 1020.7,363.1 1020.7,368.2 1015.6,365.2" fill="#bfe2ee" stroke="#bfe2ee" stroke-width="0.35" stroke-linejoin="round"/>
<polygon points="1088.3,363.1 1094.2,360.2 1094.2,365.2 1088.3,368.2" fill="#a5d2e4" stroke="#a5d2e4" stroke-width="0.35" stroke-linejoin="round"/>
<polygon points="1021.7,374.2 1044.2,387.1 1044.2,389.4 1021.7,376.5" fill="#7fbfd6" stroke="#7fbfd6" stroke-width="0.35" stroke-linejoin="round"/>
<polygon points="1064.9,387.1 1087.3,374.2 1087.3,376.5 1064.9,389.4" fill="#6db2cc" stroke="#6db2cc" stroke-width="0.35" stroke-linejoin="round"/>
<polygon points="1021.7,373.5 1044.2,386.5 1044.2,387.3 1021.7,374.3" fill="#c9d2d6" stroke="#c9d2d6" stroke-width="0.35" stroke-linejoin="round"/>
<polygon points="1064.9,386.5 1087.3,373.5 1087.3,374.3 1064.9,387.3" fill="#b9c4c9" stroke="#b9c4c9" stroke-width="0.35" stroke-linejoin="round"/>
<polygon points="1047.9,383.7 1050.3,383.7 1050.3,388.0 1047.9,388.0" fill="#d9f0f5" stroke="#d9f0f5" stroke-width="0.35" stroke-linejoin="round"/>
<polygon points="1058.7,383.7 1061.2,383.7 1061.2,388.0 1058.7,388.0" fill="#d9f0f5" stroke="#d9f0f5" stroke-width="0.35" stroke-linejoin="round"/>
<line x1="1044.6" y1="389.0" x2="1064.4" y2="389.0" stroke="#2f9aa6" stroke-width="0.8"/>
<polygon points="1015.6,366.9 1020.7,369.9 1020.7,374.9 1015.6,372.0" fill="#bfe2ee" stroke="#bfe2ee" stroke-width="0.35" stroke-linejoin="round"/>
<polygon points="1088.3,369.9 1094.2,366.9 1094.2,372.0 1088.3,374.9" fill="#a5d2e4" stroke="#a5d2e4" stroke-width="0.35" stroke-linejoin="round"/>
<polygon points="1021.7,380.9 1044.2,393.9 1044.2,396.2 1021.7,383.2" fill="#7fbfd6" stroke="#7fbfd6" stroke-width="0.35" stroke-linejoin="round"/>
<polygon points="1064.9,393.9 1087.3,380.9 1087.3,383.2 1064.9,396.2" fill="#6db2cc" stroke="#6db2cc" stroke-width="0.35" stroke-linejoin="round"/>
<polygon points="1021.7,380.3 1044.2,393.2 1044.2,394.0 1021.7,381.1" fill="#c9d2d6" stroke="#c9d2d6" stroke-width="0.35" stroke-linejoin="round"/>
<polygon points="1064.9,393.2 1087.3,380.3 1087.3,381.1 1064.9,394.0" fill="#b9c4c9" stroke="#b9c4c9" stroke-width="0.35" stroke-linejoin="round"/>
<polygon points="1047.9,390.5 1050.3,390.5 1050.3,394.8 1047.9,394.8" fill="#d9f0f5" stroke="#d9f0f5" stroke-width="0.35" stroke-linejoin="round"/>
<polygon points="1058.7,390.5 1061.2,390.5 1061.2,394.8 1058.7,394.8" fill="#d9f0f5" stroke="#d9f0f5" stroke-width="0.35" stroke-linejoin="round"/>
<line x1="1044.6" y1="395.8" x2="1064.4" y2="395.8" stroke="#2f9aa6" stroke-width="0.8"/>
<polygon points="1015.6,373.7 1020.7,376.7 1020.7,381.7 1015.6,378.8" fill="#bfe2ee" stroke="#bfe2ee" stroke-width="0.35" stroke-linejoin="round"/>
<polygon points="1088.3,376.7 1094.2,373.7 1094.2,378.8 1088.3,381.7" fill="#a5d2e4" stroke="#a5d2e4" stroke-width="0.35" stroke-linejoin="round"/>
<polygon points="1021.7,387.7 1044.2,400.7 1044.2,403.0 1021.7,390.0" fill="#7fbfd6" stroke="#7fbfd6" stroke-width="0.35" stroke-linejoin="round"/>
<polygon points="1064.9,400.7 1087.3,387.7 1087.3,390.0 1064.9,403.0" fill="#6db2cc" stroke="#6db2cc" stroke-width="0.35" stroke-linejoin="round"/>
<polygon points="1021.7,387.0 1044.2,400.0 1044.2,400.8 1021.7,387.8" fill="#c9d2d6" stroke="#c9d2d6" stroke-width="0.35" stroke-linejoin="round"/>
<polygon points="1064.9,400.0 1087.3,387.0 1087.3,387.8 1064.9,400.8" fill="#b9c4c9" stroke="#b9c4c9" stroke-width="0.35" stroke-linejoin="round"/>
<polygon points="1047.9,397.2 1050.3,397.2 1050.3,401.5 1047.9,401.5" fill="#d9f0f5" stroke="#d9f0f5" stroke-width="0.35" stroke-linejoin="round"/>
<polygon points="1058.7,397.2 1061.2,397.2 1061.2,401.5 1058.7,401.5" fill="#d9f0f5" stroke="#d9f0f5" stroke-width="0.35" stroke-linejoin="round"/>
<line x1="1044.6" y1="402.5" x2="1064.4" y2="402.5" stroke="#2f9aa6" stroke-width="0.8"/>
<polygon points="1015.6,380.5 1020.7,383.4 1020.7,388.5 1015.6,385.5" fill="#bfe2ee" stroke="#bfe2ee" stroke-width="0.35" stroke-linejoin="round"/>
<polygon points="1088.3,383.4 1094.2,380.5 1094.2,385.5 1088.3,388.5" fill="#a5d2e4" stroke="#a5d2e4" stroke-width="0.35" stroke-linejoin="round"/>
<polygon points="1021.7,394.5 1044.2,407.4 1044.2,409.7 1021.7,396.8" fill="#7fbfd6" stroke="#7fbfd6" stroke-width="0.35" stroke-linejoin="round"/>
<polygon points="1064.9,407.4 1087.3,394.5 1087.3,396.8 1064.9,409.7" fill="#6db2cc" stroke="#6db2cc" stroke-width="0.35" stroke-linejoin="round"/>
<polygon points="1021.7,393.8 1044.2,406.8 1044.2,407.6 1021.7,394.6" fill="#c9d2d6" stroke="#c9d2d6" stroke-width="0.35" stroke-linejoin="round"/>
<polygon points="1064.9,406.8 1087.3,393.8 1087.3,394.6 1064.9,407.6" fill="#b9c4c9" stroke="#b9c4c9" stroke-width="0.35" stroke-linejoin="round"/>
<polygon points="1047.9,404.0 1050.3,404.0 1050.3,408.3 1047.9,408.3" fill="#d9f0f5" stroke="#d9f0f5" stroke-width="0.35" stroke-linejoin="round"/>
<polygon points="1058.7,404.0 1061.2,404.0 1061.2,408.3 1058.7,408.3" fill="#d9f0f5" stroke="#d9f0f5" stroke-width="0.35" stroke-linejoin="round"/>
<line x1="1044.6" y1="409.3" x2="1064.4" y2="409.3" stroke="#2f9aa6" stroke-width="0.8"/>
<polygon points="1015.6,387.2 1020.7,390.2 1020.7,395.2 1015.6,392.3" fill="#bfe2ee" stroke="#bfe2ee" stroke-width="0.35" stroke-linejoin="round"/>
<polygon points="1088.3,390.2 1094.2,387.2 1094.2,392.3 1088.3,395.2" fill="#a5d2e4" stroke="#a5d2e4" stroke-width="0.35" stroke-linejoin="round"/>
<polygon points="1021.7,401.2 1044.2,414.2 1044.2,416.5 1021.7,403.5" fill="#7fbfd6" stroke="#7fbfd6" stroke-width="0.35" stroke-linejoin="round"/>
<polygon points="1064.9,414.2 1087.3,401.2 1087.3,403.5 1064.9,416.5" fill="#6db2cc" stroke="#6db2cc" stroke-width="0.35" stroke-linejoin="round"/>
<polygon points="1021.7,400.6 1044.2,413.5 1044.2,414.3 1021.7,401.4" fill="#c9d2d6" stroke="#c9d2d6" stroke-width="0.35" stroke-linejoin="round"/>
<polygon points="1064.9,413.5 1087.3,400.6 1087.3,401.4 1064.9,414.3" fill="#b9c4c9" stroke="#b9c4c9" stroke-width="0.35" stroke-linejoin="round"/>
<polygon points="1047.9,410.8 1050.3,410.8 1050.3,415.1 1047.9,415.1" fill="#d9f0f5" stroke="#d9f0f5" stroke-width="0.35" stroke-linejoin="round"/>
<polygon points="1058.7,410.8 1061.2,410.8 1061.2,415.1 1058.7,415.1" fill="#d9f0f5" stroke="#d9f0f5" stroke-width="0.35" stroke-linejoin="round"/>
<line x1="1044.6" y1="416.1" x2="1064.4" y2="416.1" stroke="#2f9aa6" stroke-width="0.8"/>
<polygon points="1015.6,394.0 1020.7,397.0 1020.7,402.0 1015.6,399.1" fill="#bfe2ee" stroke="#bfe2ee" stroke-width="0.35" stroke-linejoin="round"/>
<polygon points="1088.3,397.0 1094.2,394.0 1094.2,399.1 1088.3,402.0" fill="#a5d2e4" stroke="#a5d2e4" stroke-width="0.35" stroke-linejoin="round"/>
<polygon points="1021.7,408.0 1044.2,421.0 1044.2,423.3 1021.7,410.3" fill="#7fbfd6" stroke="#7fbfd6" stroke-width="0.35" stroke-linejoin="round"/>
<polygon points="1064.9,421.0 1087.3,408.0 1087.3,410.3 1064.9,423.3" fill="#6db2cc" stroke="#6db2cc" stroke-width="0.35" stroke-linejoin="round"/>
<polygon points="1021.7,407.3 1044.2,420.3 1044.2,421.1 1021.7,408.1" fill="#c9d2d6" stroke="#c9d2d6" stroke-width="0.35" stroke-linejoin="round"/>
<polygon points="1064.9,420.3 1087.3,407.3 1087.3,408.1 1064.9,421.1" fill="#b9c4c9" stroke="#b9c4c9" stroke-width="0.35" stroke-linejoin="round"/>
<polygon points="1047.9,417.5 1050.3,417.5 1050.3,421.8 1047.9,421.8" fill="#d9f0f5" stroke="#d9f0f5" stroke-width="0.35" stroke-linejoin="round"/>
<polygon points="1058.7,417.5 1061.2,417.5 1061.2,421.8 1058.7,421.8" fill="#d9f0f5" stroke="#d9f0f5" stroke-width="0.35" stroke-linejoin="round"/>
<line x1="1044.6" y1="422.8" x2="1064.4" y2="422.8" stroke="#2f9aa6" stroke-width="0.8"/>
<polygon points="1015.6,400.8 1020.7,403.7 1020.7,408.8 1015.6,405.8" fill="#bfe2ee" stroke="#bfe2ee" stroke-width="0.35" stroke-linejoin="round"/>
<polygon points="1088.3,403.7 1094.2,400.8 1094.2,405.8 1088.3,408.8" fill="#a5d2e4" stroke="#a5d2e4" stroke-width="0.35" stroke-linejoin="round"/>
<polygon points="1021.7,414.8 1044.2,427.7 1044.2,430.0 1021.7,417.1" fill="#7fbfd6" stroke="#7fbfd6" stroke-width="0.35" stroke-linejoin="round"/>
<polygon points="1064.9,427.7 1087.3,414.8 1087.3,417.1 1064.9,430.0" fill="#6db2cc" stroke="#6db2cc" stroke-width="0.35" stroke-linejoin="round"/>
<polygon points="1021.7,414.1 1044.2,427.1 1044.2,427.9 1021.7,414.9" fill="#c9d2d6" stroke="#c9d2d6" stroke-width="0.35" stroke-linejoin="round"/>
<polygon points="1064.9,427.1 1087.3,414.1 1087.3,414.9 1064.9,427.9" fill="#b9c4c9" stroke="#b9c4c9" stroke-width="0.35" stroke-linejoin="round"/>
<polygon points="1047.9,424.3 1050.3,424.3 1050.3,428.6 1047.9,428.6" fill="#d9f0f5" stroke="#d9f0f5" stroke-width="0.35" stroke-linejoin="round"/>
<polygon points="1058.7,424.3 1061.2,424.3 1061.2,428.6 1058.7,428.6" fill="#d9f0f5" stroke="#d9f0f5" stroke-width="0.35" stroke-linejoin="round"/>
<line x1="1044.6" y1="429.6" x2="1064.4" y2="429.6" stroke="#2f9aa6" stroke-width="0.8"/>
<polygon points="1015.6,407.5 1020.7,410.5 1020.7,415.5 1015.6,412.6" fill="#bfe2ee" stroke="#bfe2ee" stroke-width="0.35" stroke-linejoin="round"/>
<polygon points="1088.3,410.5 1094.2,407.5 1094.2,412.6 1088.3,415.5" fill="#a5d2e4" stroke="#a5d2e4" stroke-width="0.35" stroke-linejoin="round"/>
<polygon points="1044.6,340.4 1046.9,340.4 1046.9,430.4 1044.6,430.4" fill="#3aa3ad" stroke="#3aa3ad" stroke-width="0.35" stroke-linejoin="round"/>
<polygon points="1062.1,340.4 1064.4,340.4 1064.4,430.4 1062.1,430.4" fill="#3aa3ad" stroke="#3aa3ad" stroke-width="0.35" stroke-linejoin="round"/>
<polygon points="1015.1,401.3 1021.2,405.0 1021.2,416.8 1015.1,413.1" fill="#eaa65e" stroke="#eaa65e" stroke-width="0.35" stroke-linejoin="round"/>
<polygon points="1044.6,418.1 1064.4,418.1 1064.4,430.4 1054.5,432.4 1044.6,430.4" fill="#eaa65e" stroke="#eaa65e" stroke-width="0.35" stroke-linejoin="round"/>
<polygon points="1054.5,418.1 1064.4,418.1 1064.4,430.4 1054.5,432.4" fill="#d98f48" stroke="#d98f48" stroke-width="0.35" stroke-linejoin="round"/>
<polygon points="1087.8,405.0 1094.7,401.3 1094.7,413.1 1087.8,416.8" fill="#d98f48" stroke="#d98f48" stroke-width="0.35" stroke-linejoin="round"/>
<polygon points="1026.6,411.9 1034.8,416.3 1034.8,423.0 1026.6,418.6" fill="#8fd0dc" stroke="#8fd0dc" stroke-width="0.35" stroke-linejoin="round"/>
<polygon points="1074.2,416.3 1082.9,411.9 1082.9,418.6 1074.2,423.0" fill="#7cc3d2" stroke="#7cc3d2" stroke-width="0.35" stroke-linejoin="round"/>
<polygon points="1015.1,323.1 1021.2,319.4 1044.6,305.9 1064.4,305.9 1087.8,319.4 1094.7,323.1 1087.8,326.8 1064.4,340.4 1044.6,340.4 1021.2,326.8" fill="#7fcbd3" stroke="#7fcbd3" stroke-width="0.35" stroke-linejoin="round"/>
<polygon points="1015.1,323.1 1021.2,326.8 1044.6,340.4 1064.4,340.4 1087.8,326.8 1094.7,323.1 1094.7,324.6 1087.8,328.3 1064.4,341.9 1044.6,341.9 1021.2,328.3 1015.1,324.6" fill="#d6eef2" stroke="#d6eef2" stroke-width="0.35" stroke-linejoin="round"/>
<polygon points="1045.9,307.6 1055.2,313.0 1055.2,315.2 1045.9,309.8" fill="#d98a3e" stroke="#d98a3e" stroke-width="0.35" stroke-linejoin="round"/>
<polygon points="1055.2,313.0 1064.6,307.6 1064.6,309.8 1055.2,315.2" fill="#c67a30" stroke="#c67a30" stroke-width="0.35" stroke-linejoin="round"/>
<polygon points="1045.9,307.6 1055.2,302.2 1064.6,307.6 1055.2,313.0" fill="#f0a75a" stroke="#f0a75a" stroke-width="0.35" stroke-linejoin="round"/>
<polygon points="1049.6,305.1 1055.2,308.4 1055.2,310.6 1049.6,307.3" fill="#e59a4c" stroke="#e59a4c" stroke-width="0.35" stroke-linejoin="round"/>
<polygon points="1055.2,308.4 1060.9,305.1 1060.9,307.3 1055.2,310.6" fill="#d08538" stroke="#d08538" stroke-width="0.35" stroke-linejoin="round"/>
<polygon points="1049.6,305.1 1055.2,301.9 1060.9,305.1 1055.2,308.4" fill="#f5b56c" stroke="#f5b56c" stroke-width="0.35" stroke-linejoin="round"/>
<polygon points="1014.3,321.9 1023.7,327.3 1023.7,329.5 1014.3,324.1" fill="#d98a3e" stroke="#d98a3e" stroke-width="0.35" stroke-linejoin="round"/>
<polygon points="1023.7,327.3 1033.1,321.9 1033.1,324.1 1023.7,329.5" fill="#c67a30" stroke="#c67a30" stroke-width="0.35" stroke-linejoin="round"/>
<polygon points="1014.3,321.9 1023.7,316.5 1033.1,321.9 1023.7,327.3" fill="#f0a75a" stroke="#f0a75a" stroke-width="0.35" stroke-linejoin="round"/>
<polygon points="1018.1,319.4 1023.7,322.7 1023.7,324.9 1018.1,321.6" fill="#e59a4c" stroke="#e59a4c" stroke-width="0.35" stroke-linejoin="round"/>
<polygon points="1023.7,322.7 1029.3,319.4 1029.3,321.6 1023.7,324.9" fill="#d08538" stroke="#d08538" stroke-width="0.35" stroke-linejoin="round"/>
<polygon points="1018.1,319.4 1023.7,316.2 1029.3,319.4 1023.7,322.7" fill="#f5b56c" stroke="#f5b56c" stroke-width="0.35" stroke-linejoin="round"/>
<polygon points="1076.0,322.4 1085.3,327.8 1085.3,330.0 1076.0,324.6" fill="#d98a3e" stroke="#d98a3e" stroke-width="0.35" stroke-linejoin="round"/>
<polygon points="1085.3,327.8 1094.7,322.4 1094.7,324.6 1085.3,330.0" fill="#c67a30" stroke="#c67a30" stroke-width="0.35" stroke-linejoin="round"/>
<polygon points="1076.0,322.4 1085.3,317.0 1094.7,322.4 1085.3,327.8" fill="#f0a75a" stroke="#f0a75a" stroke-width="0.35" stroke-linejoin="round"/>
<polygon points="1079.7,319.9 1085.3,323.2 1085.3,325.4 1079.7,322.1" fill="#e59a4c" stroke="#e59a4c" stroke-width="0.35" stroke-linejoin="round"/>
<polygon points="1085.3,323.2 1090.9,319.9 1090.9,322.1 1085.3,325.4" fill="#d08538" stroke="#d08538" stroke-width="0.35" stroke-linejoin="round"/>
<polygon points="1079.7,319.9 1085.3,316.7 1090.9,319.9 1085.3,323.2" fill="#f5b56c" stroke="#f5b56c" stroke-width="0.35" stroke-linejoin="round"/>
<polygon points="1045.1,340.4 1054.5,345.8 1054.5,348.0 1045.1,342.6" fill="#d98a3e" stroke="#d98a3e" stroke-width="0.35" stroke-linejoin="round"/>
<polygon points="1054.5,345.8 1063.9,340.4 1063.9,342.6 1054.5,348.0" fill="#c67a30" stroke="#c67a30" stroke-width="0.35" stroke-linejoin="round"/>
<polygon points="1045.1,340.4 1054.5,335.0 1063.9,340.4 1054.5,345.8" fill="#f0a75a" stroke="#f0a75a" stroke-width="0.35" stroke-linejoin="round"/>
<polygon points="1048.9,337.9 1054.5,341.2 1054.5,343.4 1048.9,340.1" fill="#e59a4c" stroke="#e59a4c" stroke-width="0.35" stroke-linejoin="round"/>
<polygon points="1054.5,341.2 1060.1,337.9 1060.1,340.1 1054.5,343.4" fill="#d08538" stroke="#d08538" stroke-width="0.35" stroke-linejoin="round"/>
<polygon points="1048.9,337.9 1054.5,334.7 1060.1,337.9 1054.5,341.2" fill="#f5b56c" stroke="#f5b56c" stroke-width="0.35" stroke-linejoin="round"/>
<line x1="1005.9" y1="408.2" x2="1005.9" y2="401.2" stroke="#3f5fa8" stroke-width="0.9"/>
<circle cx="1005.9" cy="400.7" r="0.9" fill="#dfe8f5"/>
<line x1="1054.5" y1="435.3" x2="1054.5" y2="428.3" stroke="#3f5fa8" stroke-width="0.9"/>
<circle cx="1054.5" cy="427.8" r="0.9" fill="#dfe8f5"/>
<line x1="1099.6" y1="408.2" x2="1099.6" y2="401.2" stroke="#3f5fa8" stroke-width="0.9"/>
<circle cx="1099.6" cy="400.7" r="0.9" fill="#dfe8f5"/>
<ellipse cx="1024.2" cy="419.3" rx="1.0" ry="2.8" fill="#2f7d33"/>
<ellipse cx="1018.8" cy="421.7" rx="1.0" ry="2.8" fill="#2f7d33"/>
<ellipse cx="1084.8" cy="421.7" rx="1.0" ry="2.8" fill="#2f7d33"/>
<ellipse cx="1089.8" cy="423.5" rx="1.0" ry="2.8" fill="#2f7d33"/>
<ellipse cx="1033.6" cy="420.5" rx="1.0" ry="2.8" fill="#2f7d33"/>
<ellipse cx="1075.5" cy="420.0" rx="1.0" ry="2.8" fill="#2f7d33"/>
<polygon points="951.9,425.9 967.0,434.5 967.0,440.9 951.9,433.5" fill="#e9dcc2" stroke="#e9dcc2" stroke-width="0.35" stroke-linejoin="round"/>
<polygon points="967.0,434.5 982.8,425.6 982.8,432.3 967.0,440.9" fill="#f4ecd6" stroke="#f4ecd6" stroke-width="0.35" stroke-linejoin="round"/>
<polygon points="951.0,433.5 960.2,439.0 957.7,440.7 949.7,436.0" fill="#cfc6b2" stroke="#cfc6b2" stroke-width="0.35" stroke-linejoin="round"/>
<polygon points="952.8,427.7 956.5,429.8 956.5,432.3 952.8,430.2" fill="#f3f6f6" stroke="#f3f6f6" stroke-width="0.35" stroke-linejoin="round"/>
<polygon points="958.1,430.8 960.8,432.3 960.8,437.0 958.1,435.5" fill="#9fdbe6" stroke="#9fdbe6" stroke-width="0.35" stroke-linejoin="round"/>
<polygon points="962.7,433.3 965.8,435.0 965.8,438.5 962.7,436.7" fill="#9fdbe6" stroke="#9fdbe6" stroke-width="0.35" stroke-linejoin="round"/>
<polygon points="971.3,433.5 980.6,428.4 980.6,430.8 971.3,436.0" fill="#9fdbe6" stroke="#9fdbe6" stroke-width="0.35" stroke-linejoin="round"/>
<polygon points="949.5,423.2 969.2,433.0 969.2,435.8 949.7,425.9" fill="#f7c7b0" stroke="#f7c7b0" stroke-width="0.35" stroke-linejoin="round"/>
<polygon points="969.2,433.0 984.7,423.2 984.7,425.6 969.2,435.8" fill="#fbe0d0" stroke="#fbe0d0" stroke-width="0.35" stroke-linejoin="round"/>
<polygon points="949.7,423.3 951.0,423.9 951.0,426.5 949.7,425.9" fill="#ef4f22" stroke="#ef4f22" stroke-width="0.35" stroke-linejoin="round"/>
<polygon points="952.2,424.5 953.4,425.2 953.4,427.7 952.2,427.1" fill="#ef4f22" stroke="#ef4f22" stroke-width="0.35" stroke-linejoin="round"/>
<polygon points="954.7,425.8 955.9,426.4 955.9,429.0 954.7,428.4" fill="#ef4f22" stroke="#ef4f22" stroke-width="0.35" stroke-linejoin="round"/>
<polygon points="957.1,427.0 958.4,427.6 958.4,430.2 957.1,429.6" fill="#ef4f22" stroke="#ef4f22" stroke-width="0.35" stroke-linejoin="round"/>
<polygon points="959.6,428.2 960.8,428.9 960.8,431.4 959.6,430.8" fill="#ef4f22" stroke="#ef4f22" stroke-width="0.35" stroke-linejoin="round"/>
<polygon points="962.1,429.5 963.3,430.1 963.3,432.7 962.1,432.1" fill="#ef4f22" stroke="#ef4f22" stroke-width="0.35" stroke-linejoin="round"/>
<polygon points="964.5,430.7 965.8,431.3 965.8,433.9 964.5,433.3" fill="#ef4f22" stroke="#ef4f22" stroke-width="0.35" stroke-linejoin="round"/>
<polygon points="967.0,431.9 968.2,432.6 968.2,435.1 967.0,434.5" fill="#ef4f22" stroke="#ef4f22" stroke-width="0.35" stroke-linejoin="round"/>
<polygon points="969.7,432.8 970.9,432.0 970.9,434.5 969.7,435.4" fill="#f0562a" stroke="#f0562a" stroke-width="0.35" stroke-linejoin="round"/>
<polygon points="972.3,431.2 973.5,430.4 973.5,432.9 972.3,433.8" fill="#f0562a" stroke="#f0562a" stroke-width="0.35" stroke-linejoin="round"/>
<polygon points="974.9,429.5 976.1,428.8 976.1,431.3 974.9,432.1" fill="#f0562a" stroke="#f0562a" stroke-width="0.35" stroke-linejoin="round"/>
<polygon points="977.5,427.9 978.7,427.1 978.7,429.6 977.5,430.5" fill="#f0562a" stroke="#f0562a" stroke-width="0.35" stroke-linejoin="round"/>
<polygon points="980.1,426.3 981.3,425.5 981.3,428.0 980.1,428.9" fill="#f0562a" stroke="#f0562a" stroke-width="0.35" stroke-linejoin="round"/>
<polygon points="982.7,424.7 983.9,423.9 983.9,426.4 982.7,427.3" fill="#f0562a" stroke="#f0562a" stroke-width="0.35" stroke-linejoin="round"/>
<polygon points="949.5,423.2 967.0,411.3 984.7,423.2 969.2,433.0" fill="#ef4f22" stroke="#ef4f22" stroke-width="0.35" stroke-linejoin="round"/>
<polygon points="967.0,411.3 984.7,423.2 969.2,433.0 967.0,422.2" fill="#f25a2a" stroke="#f25a2a" stroke-width="0.35" stroke-linejoin="round"/>
<ellipse cx="962.3" cy="419.7" rx="7.8" ry="2.4" fill="#e23b2a" transform="rotate(30 962.3 419.7)"/>
<ellipse cx="962.3" cy="419.1" rx="7.2" ry="1.9" fill="#f6c02e" transform="rotate(30 962.3 419.7)"/>
<circle cx="957.4" cy="416.3" r="2.4" fill="#f3b52a"/>
<circle cx="957.4" cy="416.3" r="1.3" fill="#8cc63f"/>
<ellipse cx="967.0" cy="445.4" rx="2.0" ry="1.2" fill="#fff"/>
<line x1="964.4" y1="444.8" x2="964.4" y2="446.6" stroke="#fff" stroke-width="0.7"/>
<line x1="969.6" y1="444.8" x2="969.6" y2="446.6" stroke="#fff" stroke-width="0.7"/>
<circle cx="967.0" cy="445.2" r="0.5" fill="#e8703a"/>
<ellipse cx="979.3" cy="443.8" rx="2.0" ry="1.2" fill="#fff"/>
<line x1="976.7" y1="443.2" x2="976.7" y2="445.0" stroke="#fff" stroke-width="0.7"/>
<line x1="981.9" y1="443.2" x2="981.9" y2="445.0" stroke="#fff" stroke-width="0.7"/>
<circle cx="979.3" cy="443.6" r="0.5" fill="#e8703a"/>
<ellipse cx="974.1" cy="452.8" rx="2.0" ry="1.2" fill="#fff"/>
<line x1="971.5" y1="452.2" x2="971.5" y2="454.0" stroke="#fff" stroke-width="0.7"/>
<line x1="976.7" y1="452.2" x2="976.7" y2="454.0" stroke="#fff" stroke-width="0.7"/>
<circle cx="974.1" cy="452.6" r="0.5" fill="#e8703a"/>
<ellipse cx="983.9" cy="436.4" rx="2.0" ry="1.2" fill="#fff"/>
<line x1="981.3" y1="435.8" x2="981.3" y2="437.6" stroke="#fff" stroke-width="0.7"/>
<line x1="986.5" y1="435.8" x2="986.5" y2="437.6" stroke="#fff" stroke-width="0.7"/>
<circle cx="983.9" cy="436.2" r="0.5" fill="#e8703a"/>
<circle cx="938.0" cy="433.0" r="1.9" fill="#2f7d33"/>
<circle cx="938.3" cy="432.6" r="1.1" fill="#4a9a42"/>
<circle cx="943.6" cy="434.5" r="1.9" fill="#2f7d33"/>
<circle cx="943.9" cy="434.1" r="1.1" fill="#4a9a42"/>
<circle cx="941.3" cy="439.7" r="1.9" fill="#2f7d33"/>
<circle cx="941.6" cy="439.3" r="1.1" fill="#4a9a42"/>
<circle cx="948.7" cy="430.2" r="1.9" fill="#2f7d33"/>
<circle cx="949.0" cy="429.8" r="1.1" fill="#4a9a42"/>
<circle cx="958.6" cy="450.3" r="1.9" fill="#2f7d33"/>
<circle cx="958.9" cy="449.9" r="1.1" fill="#4a9a42"/>
<circle cx="962.3" cy="454.0" r="1.9" fill="#2f7d33"/>
<circle cx="962.6" cy="453.6" r="1.1" fill="#4a9a42"/>
<circle cx="972.2" cy="458.0" r="1.9" fill="#2f7d33"/>
<circle cx="972.5" cy="457.6" r="1.1" fill="#4a9a42"/>
<circle cx="982.4" cy="453.3" r="1.9" fill="#2f7d33"/>
<circle cx="982.7" cy="452.9" r="1.1" fill="#4a9a42"/>
<circle cx="988.9" cy="450.3" r="1.9" fill="#2f7d33"/>
<circle cx="989.2" cy="449.9" r="1.1" fill="#4a9a42"/>
<ellipse cx="944.8" cy="429.7" rx="1.9" ry="1.0" fill="#000" opacity="0.12"/>
<line x1="945.8" y1="429.7" x2="945.8" y2="426.2" stroke="#7a4a25" stroke-width="1.0"/>
<circle cx="945.8" cy="425.3" r="2.4" fill="#2f7d33"/>
<circle cx="944.7" cy="425.9" r="1.7" fill="#2f7d33"/>
<circle cx="946.9" cy="425.8" r="1.7" fill="#2f7d33"/>
<circle cx="946.0" cy="424.2" r="1.7" fill="#2f7d33"/>
<circle cx="946.4" cy="425.0" r="1.8" fill="#3f8f3a"/>
<ellipse cx="986.3" cy="429.7" rx="2.0" ry="1.0" fill="#000" opacity="0.12"/>
<line x1="987.3" y1="429.7" x2="987.3" y2="425.2" stroke="#7a4a25" stroke-width="1.0"/>
<circle cx="987.3" cy="424.2" r="2.5" fill="#2f7d33"/>
<circle cx="986.2" cy="424.9" r="1.8" fill="#2f7d33"/>
<circle cx="988.5" cy="424.7" r="1.8" fill="#2f7d33"/>
<circle cx="987.6" cy="423.1" r="1.8" fill="#2f7d33"/>
<circle cx="988.0" cy="423.9" r="1.9" fill="#3f8f3a"/>
<ellipse cx="966.6" cy="456.3" rx="1.8" ry="0.9" fill="#000" opacity="0.12"/>
<line x1="967.6" y1="456.3" x2="967.6" y2="452.3" stroke="#7a4a25" stroke-width="1.0"/>
<circle cx="967.6" cy="451.4" r="2.3" fill="#2f7d33"/>
<circle cx="966.6" cy="452.0" r="1.6" fill="#2f7d33"/>
<circle cx="968.6" cy="451.9" r="1.6" fill="#2f7d33"/>
<circle cx="967.8" cy="450.4" r="1.6" fill="#2f7d33"/>
<circle cx="968.2" cy="451.1" r="1.7" fill="#3f8f3a"/>
<polygon points="990.0,428.4 1002.9,435.5 1002.9,474.6 990.0,467.8" fill="#e7e7e4" stroke="#e7e7e4" stroke-width="0.35" stroke-linejoin="round"/>
<polygon points="1002.9,435.5 1015.5,429.5 1015.5,466.9 1002.9,474.6" fill="#dadad6" stroke="#dadad6" stroke-width="0.35" stroke-linejoin="round"/>
<polygon points="990.0,428.4 997.7,424.0 1015.5,429.5 1002.9,435.5" fill="#f4f3ef" stroke="#f4f3ef" stroke-width="0.35" stroke-linejoin="round"/>
<polygon points="993.1,429.0 998.1,426.2 1009.7,429.9 1003.3,433.6" fill="#e9e7e0" stroke="#e9e7e0" stroke-width="0.35" stroke-linejoin="round"/>
<polygon points="1004.2,440.4 1006.2,439.5 1006.2,465.9 1004.2,466.8" fill="#7c7c80" stroke="#7c7c80" stroke-width="0.35" stroke-linejoin="round"/>
<polygon points="1008.4,438.4 1010.5,437.5 1010.5,463.9 1008.4,464.8" fill="#7c7c80" stroke="#7c7c80" stroke-width="0.35" stroke-linejoin="round"/>
<polygon points="1012.5,436.5 1014.5,435.6 1014.5,462.0 1012.5,462.9" fill="#7c7c80" stroke="#7c7c80" stroke-width="0.35" stroke-linejoin="round"/>
<polygon points="1016.2,433.6 1023.2,436.9 1023.2,466.9 1016.2,463.5" fill="#f5f4e2" stroke="#f5f4e2" stroke-width="0.35" stroke-linejoin="round"/>
<polygon points="1023.2,436.9 1036.5,429.5 1036.5,456.7 1023.2,466.9" fill="#ebe9cf" stroke="#ebe9cf" stroke-width="0.35" stroke-linejoin="round"/>
<polygon points="1016.2,433.2 1028.8,426.6 1036.5,429.5 1023.2,436.9" fill="#fbfaf0" stroke="#fbfaf0" stroke-width="0.35" stroke-linejoin="round"/>
<polygon points="1019.5,433.2 1029.1,428.4 1033.8,429.9 1023.6,435.1" fill="#eeeadc" stroke="#eeeadc" stroke-width="0.35" stroke-linejoin="round"/>
<polygon points="1024.7,441.1 1026.7,440.0 1026.7,460.5 1024.7,461.6" fill="#7c7c80" stroke="#7c7c80" stroke-width="0.35" stroke-linejoin="round"/>
<polygon points="1029.1,438.7 1031.2,437.6 1031.2,458.1 1029.1,459.2" fill="#7c7c80" stroke="#7c7c80" stroke-width="0.35" stroke-linejoin="round"/>
<polygon points="1033.2,436.4 1035.2,435.3 1035.2,455.8 1033.2,457.0" fill="#7c7c80" stroke="#7c7c80" stroke-width="0.35" stroke-linejoin="round"/>
<ellipse cx="1008.2" cy="478.0" rx="2.9" ry="1.4" fill="#000" opacity="0.12"/>
<line x1="1009.2" y1="478.0" x2="1009.2" y2="472.0" stroke="#7a4a25" stroke-width="1.0080000000000002"/>
<circle cx="1009.2" cy="470.1" r="3.6" fill="#3c8c3a"/>
<circle cx="1007.6" cy="471.0" r="2.5" fill="#3c8c3a"/>
<circle cx="1010.8" cy="470.8" r="2.5" fill="#3c8c3a"/>
<circle cx="1009.5" cy="468.5" r="2.5" fill="#3c8c3a"/>
<circle cx="1010.1" cy="469.5" r="2.7" fill="#58a846"/>
<ellipse cx="1018.0" cy="473.3" rx="1.9" ry="1.0" fill="#000" opacity="0.12"/>
<line x1="1019.0" y1="473.3" x2="1019.0" y2="468.8" stroke="#7a4a25" stroke-width="1.0"/>
<circle cx="1019.0" cy="467.9" r="2.4" fill="#3c8c3a"/>
<circle cx="1017.9" cy="468.5" r="1.7" fill="#3c8c3a"/>
<circle cx="1020.1" cy="468.4" r="1.7" fill="#3c8c3a"/>
<circle cx="1019.2" cy="466.8" r="1.7" fill="#3c8c3a"/>
<circle cx="1019.6" cy="467.6" r="1.8" fill="#58a846"/>
<ellipse cx="1034.1" cy="462.8" rx="1.8" ry="0.9" fill="#000" opacity="0.12"/>
<line x1="1035.1" y1="462.8" x2="1035.1" y2="458.8" stroke="#7a4a25" stroke-width="1.0"/>
<circle cx="1035.1" cy="458.0" r="2.2" fill="#3c8c3a"/>
<circle cx="1034.1" cy="458.6" r="1.5" fill="#3c8c3a"/>
<circle cx="1036.1" cy="458.5" r="1.5" fill="#3c8c3a"/>
<circle cx="1035.3" cy="457.1" r="1.5" fill="#3c8c3a"/>
<circle cx="1035.6" cy="457.7" r="1.7" fill="#58a846"/>
</g>
<g id="tile3">
<polygon points="612.0,446.5 764.5,537.5 764.5,543.0 612.0,452.0" fill="#92b254" stroke="#92b254" stroke-width="0.35" stroke-linejoin="round"/>
<polygon points="764.5,537.5 903.0,453.0 903.0,458.5 764.5,543.0" fill="#4b5056" stroke="#4b5056" stroke-width="0.35" stroke-linejoin="round"/>
<polygon points="747.5,368.0 903.0,453.0 764.5,537.5 612.0,446.5" fill="#b8cd48" stroke="#b8cd48" stroke-width="0.35" stroke-linejoin="round"/>
<polygon points="837.3,421.4 853.6,429.5 844.7,438.3 870.2,457.0 833.1,482.7 843.2,489.2 820.7,502.7 810.2,496.3 767.8,519.3 709.0,484.5 735.6,462.7" fill="#646b73" stroke="#646b73" stroke-width="0.35" stroke-linejoin="round"/>
<g transform="matrix(0.12376 -0.07067 0.12376 0.06881 681.49 432.71)">
<rect x="-149" y="-106" width="749" height="553" rx="225" fill="#c6563c" stroke="#f4f6ee" stroke-width="7"/>
<rect x="-98" y="-55" width="647" height="451" rx="176" fill="#a9cf47" stroke="#f4f6ee" stroke-width="7"/>
<g fill="none" stroke="#f7f9f2" stroke-width="5"><rect x="0" y="0" width="451" height="341"/><line x1="225.5" y1="0" x2="225.5" y2="341"/><circle cx="225.5" cy="170.5" r="66"/><rect x="0" y="70" width="82" height="200"/><rect x="369" y="70" width="82" height="200"/><rect x="0" y="125" width="30" height="90"/><rect x="421" y="125" width="30" height="90"/><path d="M82 125 A52 52 0 0 1 82 216"/><path d="M369 125 A52 52 0 0 0 369 216"/></g>
<circle cx="225.5" cy="170.5" r="6" fill="#fff"/><circle cx="58" cy="170.5" r="5" fill="#fff"/><circle cx="393" cy="170.5" r="5" fill="#fff"/>
</g>
<polygon points="736.1,402.3 746.0,400.5 772.6,412.8 767.0,415.9" fill="#6f8f2f" opacity="0.55"/>
<polygon points="680.4,437.0 685.9,433.9 709.5,446.9 703.9,453.1" fill="#6f8f2f" opacity="0.5"/>
<polygon points="750.7,403.8 772.6,415.2 772.6,405.5 750.7,394.1" fill="#ffffff" stroke="#fff" stroke-width="0.5" stroke-linejoin="round" opacity="0.35"/>
<polygon points="746.3,406.0 768.2,417.4 768.2,405.3 746.3,393.9" fill="#ffffff" stroke="#ffffff" stroke-width="0.9" stroke-linejoin="round" opacity="0.5"/>
<polygon points="746.3,393.9 768.2,405.3 772.6,405.5 750.7,394.1" fill="#ffffff" stroke="#fff" stroke-width="0.6" stroke-linejoin="round" opacity="0.45"/>
<polygon points="768.2,417.4 772.6,415.2 772.6,405.5 768.2,405.3" fill="#ffffff" stroke="#fff" stroke-width="0.6" stroke-linejoin="round" opacity="0.5"/>
<line x1="746.3" y1="406.0" x2="746.3" y2="393.9" stroke="#fff" stroke-width="1.0"/>
<line x1="768.2" y1="417.4" x2="768.2" y2="405.3" stroke="#fff" stroke-width="1.0"/>
<line x1="746.3" y1="393.9" x2="768.2" y2="405.3" stroke="#fff" stroke-width="1.0"/>
<polygon points="693.0,437.0 714.0,449.4 714.0,438.3 693.0,425.9" fill="#ffffff" stroke="#fff" stroke-width="0.5" stroke-linejoin="round" opacity="0.35"/>
<polygon points="687.4,440.1 708.5,452.5 708.5,438.6 687.4,426.2" fill="#ffffff" stroke="#ffffff" stroke-width="0.9" stroke-linejoin="round" opacity="0.5"/>
<polygon points="687.4,426.2 708.5,438.6 714.0,438.3 693.0,425.9" fill="#ffffff" stroke="#fff" stroke-width="0.6" stroke-linejoin="round" opacity="0.45"/>
<polygon points="708.5,452.5 714.0,449.4 714.0,438.3 708.5,438.6" fill="#ffffff" stroke="#fff" stroke-width="0.6" stroke-linejoin="round" opacity="0.5"/>
<line x1="687.4" y1="440.1" x2="687.4" y2="426.2" stroke="#fff" stroke-width="1.0"/>
<line x1="708.5" y1="452.5" x2="708.5" y2="438.6" stroke="#fff" stroke-width="1.0"/>
<line x1="687.4" y1="426.2" x2="708.5" y2="438.6" stroke="#fff" stroke-width="1.0"/>
<ellipse cx="747.3" cy="377.5" rx="6.6" ry="3.6" fill="#6b7a1e" opacity="0.35"/>
<line x1="748.8" y1="380.5" x2="748.8" y2="369.5" stroke="#b8412c" stroke-width="2.0"/>
<line x1="748.5" y1="373.5" x2="745.6" y2="370.0" stroke="#b8412c" stroke-width="1.0"/>
<circle cx="744.3" cy="365.5" r="6.2" fill="#5f8f2b"/>
<circle cx="748.8" cy="366.0" r="7.5" fill="#5f8f2b"/>
<circle cx="748.8" cy="361.5" r="8.6" fill="#71a132"/>
<circle cx="743.4" cy="362.0" r="6.4" fill="#71a132"/>
<circle cx="754.4" cy="362.5" r="6.6" fill="#71a132"/>
<circle cx="746.2" cy="356.0" r="6.3" fill="#71a132"/>
<circle cx="752.4" cy="356.5" r="6.2" fill="#71a132"/>
<ellipse cx="826.3" cy="418.7" rx="6.6" ry="3.6" fill="#6b7a1e" opacity="0.35"/>
<line x1="827.8" y1="421.7" x2="827.8" y2="410.7" stroke="#b8412c" stroke-width="2.0"/>
<line x1="827.5" y1="414.7" x2="824.6" y2="411.2" stroke="#b8412c" stroke-width="1.0"/>
<circle cx="823.3" cy="406.7" r="6.2" fill="#5f8f2b"/>
<circle cx="827.8" cy="407.2" r="7.5" fill="#5f8f2b"/>
<circle cx="827.8" cy="402.7" r="8.6" fill="#71a132"/>
<circle cx="822.4" cy="403.2" r="6.4" fill="#71a132"/>
<circle cx="833.4" cy="403.7" r="6.6" fill="#71a132"/>
<circle cx="825.2" cy="397.2" r="6.3" fill="#71a132"/>
<circle cx="831.4" cy="397.7" r="6.2" fill="#71a132"/>
<polygon points="735.4,484.4 766.2,500.9 845.9,458.2 845.9,455.5 840.9,453.2 766.2,494.0 736.9,480.1" fill="#e7a262" stroke="#e7a262" stroke-width="0.35" stroke-linejoin="round"/>
<polygon points="735.4,484.4 766.2,500.9 766.2,498.6 735.4,482.3" fill="#d98a4e" stroke="#d98a4e" stroke-width="0.35" stroke-linejoin="round"/>
<polygon points="823.2,440.1 841.2,430.5 841.2,455.5 824.0,465.5" fill="#f3dca2" stroke="#f3dca2" stroke-width="0.35" stroke-linejoin="round"/>
<polygon points="801.6,419.7 811.7,414.2 841.7,429.6 841.7,432.7 824.3,441.9 822.4,440.4" fill="#e0503a" stroke="#e0503a" stroke-width="0.35" stroke-linejoin="round"/>
<polygon points="805.5,420.0 812.0,416.6 836.6,429.6 824.0,436.7 816.3,432.7" fill="#f5e3d3" stroke="#f5e3d3" stroke-width="0.35" stroke-linejoin="round"/>
<polygon points="805.5,420.0 812.0,416.6 816.3,418.8 810.1,422.8" fill="#b9a0b4" stroke="#b9a0b4" stroke-width="0.35" stroke-linejoin="round"/>
<polygon points="824.3,438.5 841.7,429.6 841.7,433.1 824.3,442.4" fill="#c9432f" stroke="#c9432f" stroke-width="0.35" stroke-linejoin="round"/>
<polygon points="782.4,455.5 824.0,433.1 824.3,465.9 783.2,488.6" fill="#f7e6b4" stroke="#f7e6b4" stroke-width="0.35" stroke-linejoin="round"/>
<polygon points="736.9,459.3 765.7,475.8 766.5,498.6 736.9,482.4" fill="#f3dca2" stroke="#f3dca2" stroke-width="0.35" stroke-linejoin="round"/>
<polygon points="765.7,475.8 783.2,465.9 783.2,489.4 766.5,498.6" fill="#f7e6b4" stroke="#f7e6b4" stroke-width="0.35" stroke-linejoin="round"/>
<polygon points="736.2,457.3 753.4,448.5 783.2,463.5 783.2,466.3 765.7,476.3 736.2,460.4" fill="#e0503a" stroke="#e0503a" stroke-width="0.35" stroke-linejoin="round"/>
<polygon points="736.2,458.6 765.7,474.7 765.7,477.0 736.2,460.9" fill="#c9432f" stroke="#c9432f" stroke-width="0.35" stroke-linejoin="round"/>
<polygon points="743.1,457.3 754.7,451.6 779.3,463.9 767.0,470.6" fill="#f6e4d4" stroke="#f6e4d4" stroke-width="0.35" stroke-linejoin="round"/>
<polygon points="743.1,457.3 754.7,451.6 780.8,464.7 776.2,461.6 757.0,455.5 748.5,459.3" fill="#b9a0b4" stroke="#b9a0b4" stroke-width="0.35" stroke-linejoin="round"/>
<polygon points="753.1,441.6 761.6,437.0 790.1,450.8 822.4,432.7 824.8,434.7 783.2,457.3 753.1,444.7" fill="#e8c98a" stroke="#e8c98a" stroke-width="0.35" stroke-linejoin="round"/>
<polygon points="754.7,437.8 761.6,434.2 789.3,449.0 816.3,434.2 822.4,433.1 783.2,454.2 755.4,440.4" fill="#e0503a" stroke="#e0503a" stroke-width="0.35" stroke-linejoin="round"/>
<polygon points="753.1,441.3 783.2,457.3 783.2,453.9 754.7,438.2" fill="#ecd49a" stroke="#ecd49a" stroke-width="0.35" stroke-linejoin="round"/>
<polygon points="755.4,440.4 783.2,454.2 783.2,455.8 755.4,441.9" fill="#b89fb2" stroke="#b89fb2" stroke-width="0.35" stroke-linejoin="round"/>
<polygon points="761.3,429.0 789.3,444.4 789.3,450.4 761.3,435.1" fill="#f3dca2" stroke="#f3dca2" stroke-width="0.35" stroke-linejoin="round"/>
<polygon points="789.3,444.4 815.8,430.5 815.8,436.4 789.3,450.4" fill="#e8c98a" stroke="#e8c98a" stroke-width="0.35" stroke-linejoin="round"/>
<polygon points="761.3,428.7 787.8,414.3 815.8,430.2 789.3,444.7" fill="#f7e6b4" stroke="#f7e6b4" stroke-width="0.35" stroke-linejoin="round"/>
<polygon points="767.8,428.7 787.8,418.0 810.1,430.2 790.1,440.5" fill="#b5aba8" stroke="#b5aba8" stroke-width="0.35" stroke-linejoin="round"/>
<polygon points="767.8,428.7 787.8,418.0 790.4,419.4 771.3,430.2" fill="#9f9597" stroke="#9f9597" stroke-width="0.35" stroke-linejoin="round"/>
<ellipse cx="802.7" cy="437.3" rx="4.2" ry="5.2" fill="#e0503a" transform="rotate(-25 804.0 437.8)"/>
<ellipse cx="805.0" cy="438.1" rx="3.4" ry="4.6" fill="#fff" transform="rotate(-25 804.0 437.8)"/>
<polygon points="786.9,458.9 791.2,456.8 791.2,464.2 786.9,466.3" fill="#fbf3d8" stroke="#fbf3d8" stroke-width="0.35" stroke-linejoin="round"/>
<polygon points="787.3,459.3 790.7,457.5 790.7,464.0 787.3,465.8" fill="#1f5f5a" stroke="#1f5f5a" stroke-width="0.35" stroke-linejoin="round"/>
<polygon points="792.7,455.7 797.0,453.6 797.0,461.0 792.7,463.1" fill="#fbf3d8" stroke="#fbf3d8" stroke-width="0.35" stroke-linejoin="round"/>
<polygon points="793.2,456.2 796.6,454.3 796.6,460.8 793.2,462.6" fill="#1f5f5a" stroke="#1f5f5a" stroke-width="0.35" stroke-linejoin="round"/>
<polygon points="798.9,452.4 803.2,450.3 803.2,457.7 798.9,459.8" fill="#fbf3d8" stroke="#fbf3d8" stroke-width="0.35" stroke-linejoin="round"/>
<polygon points="799.3,452.8 802.7,451.0 802.7,457.5 799.3,459.3" fill="#1f5f5a" stroke="#1f5f5a" stroke-width="0.35" stroke-linejoin="round"/>
<polygon points="805.0,449.0 809.4,447.0 809.4,454.4 805.0,456.4" fill="#fbf3d8" stroke="#fbf3d8" stroke-width="0.35" stroke-linejoin="round"/>
<polygon points="805.5,449.5 808.9,447.7 808.9,454.1 805.5,456.0" fill="#1f5f5a" stroke="#1f5f5a" stroke-width="0.35" stroke-linejoin="round"/>
<polygon points="810.9,445.9 815.2,443.8 815.2,451.2 810.9,453.3" fill="#fbf3d8" stroke="#fbf3d8" stroke-width="0.35" stroke-linejoin="round"/>
<polygon points="811.4,446.3 814.7,444.5 814.7,451.0 811.4,452.8" fill="#1f5f5a" stroke="#1f5f5a" stroke-width="0.35" stroke-linejoin="round"/>
<polygon points="816.6,442.8 820.9,440.7 820.9,448.1 816.6,450.2" fill="#fbf3d8" stroke="#fbf3d8" stroke-width="0.35" stroke-linejoin="round"/>
<polygon points="817.1,443.3 820.4,441.4 820.4,447.9 817.1,449.7" fill="#1f5f5a" stroke="#1f5f5a" stroke-width="0.35" stroke-linejoin="round"/>
<polygon points="769.3,482.0 773.6,479.9 773.6,487.3 769.3,489.4" fill="#fbf3d8" stroke="#fbf3d8" stroke-width="0.35" stroke-linejoin="round"/>
<polygon points="769.8,482.4 773.1,480.6 773.1,487.1 769.8,488.9" fill="#1f5f5a" stroke="#1f5f5a" stroke-width="0.35" stroke-linejoin="round"/>
<polygon points="775.3,478.7 779.6,476.6 779.6,484.0 775.3,486.1" fill="#fbf3d8" stroke="#fbf3d8" stroke-width="0.35" stroke-linejoin="round"/>
<polygon points="775.8,479.2 779.2,477.4 779.2,483.8 775.8,485.7" fill="#1f5f5a" stroke="#1f5f5a" stroke-width="0.35" stroke-linejoin="round"/>
<polygon points="781.2,475.6 785.5,473.5 785.5,480.9 781.2,483.0" fill="#fbf3d8" stroke="#fbf3d8" stroke-width="0.35" stroke-linejoin="round"/>
<polygon points="781.6,476.0 785.0,474.2 785.0,480.7 781.6,482.5" fill="#1f5f5a" stroke="#1f5f5a" stroke-width="0.35" stroke-linejoin="round"/>
<polygon points="786.9,472.5 791.2,470.4 791.2,477.8 786.9,479.9" fill="#fbf3d8" stroke="#fbf3d8" stroke-width="0.35" stroke-linejoin="round"/>
<polygon points="787.3,472.9 790.7,471.1 790.7,477.6 787.3,479.4" fill="#1f5f5a" stroke="#1f5f5a" stroke-width="0.35" stroke-linejoin="round"/>
<polygon points="816.6,455.0 820.9,452.9 820.9,460.3 816.6,462.4" fill="#fbf3d8" stroke="#fbf3d8" stroke-width="0.35" stroke-linejoin="round"/>
<polygon points="817.1,455.5 820.4,453.6 820.4,460.1 817.1,461.9" fill="#1f5f5a" stroke="#1f5f5a" stroke-width="0.35" stroke-linejoin="round"/>
<polygon points="822.3,451.9 826.6,449.8 826.6,457.2 822.3,459.3" fill="#fbf3d8" stroke="#fbf3d8" stroke-width="0.35" stroke-linejoin="round"/>
<polygon points="822.8,452.4 826.1,450.6 826.1,457.0 822.8,458.9" fill="#1f5f5a" stroke="#1f5f5a" stroke-width="0.35" stroke-linejoin="round"/>
<polygon points="828.2,448.8 832.5,446.7 832.5,454.1 828.2,456.2" fill="#fbf3d8" stroke="#fbf3d8" stroke-width="0.35" stroke-linejoin="round"/>
<polygon points="828.6,449.2 832.0,447.4 832.0,453.9 828.6,455.7" fill="#1f5f5a" stroke="#1f5f5a" stroke-width="0.35" stroke-linejoin="round"/>
<polygon points="834.3,445.4 838.6,443.4 838.6,450.8 834.3,452.8" fill="#fbf3d8" stroke="#fbf3d8" stroke-width="0.35" stroke-linejoin="round"/>
<polygon points="834.8,445.9 838.2,444.1 838.2,450.5 834.8,452.4" fill="#1f5f5a" stroke="#1f5f5a" stroke-width="0.35" stroke-linejoin="round"/>
<polygon points="739.6,470.1 743.6,472.1 743.6,479.5 739.6,477.5" fill="#fbf3d8" stroke="#fbf3d8" stroke-width="0.35" stroke-linejoin="round"/>
<polygon points="740.0,470.6 743.1,472.3 743.1,478.8 740.0,477.0" fill="#1f5f5a" stroke="#1f5f5a" stroke-width="0.35" stroke-linejoin="round"/>
<polygon points="745.4,473.4 749.4,475.4 749.4,482.8 745.4,480.8" fill="#fbf3d8" stroke="#fbf3d8" stroke-width="0.35" stroke-linejoin="round"/>
<polygon points="745.9,473.8 749.0,475.6 749.0,482.0 745.9,480.3" fill="#1f5f5a" stroke="#1f5f5a" stroke-width="0.35" stroke-linejoin="round"/>
<polygon points="751.1,476.6 755.1,478.6 755.1,486.0 751.1,484.0" fill="#fbf3d8" stroke="#fbf3d8" stroke-width="0.35" stroke-linejoin="round"/>
<polygon points="751.6,477.0 754.7,478.8 754.7,485.2 751.6,483.5" fill="#1f5f5a" stroke="#1f5f5a" stroke-width="0.35" stroke-linejoin="round"/>
<polygon points="757.3,480.0 761.3,482.0 761.3,489.4 757.3,487.4" fill="#fbf3d8" stroke="#fbf3d8" stroke-width="0.35" stroke-linejoin="round"/>
<polygon points="757.7,480.5 760.8,482.2 760.8,488.7 757.7,487.0" fill="#1f5f5a" stroke="#1f5f5a" stroke-width="0.35" stroke-linejoin="round"/>
<polygon points="798.6,467.8 813.2,460.4 814.0,472.4 799.3,480.1" fill="#a8506a" stroke="#a8506a" stroke-width="0.35" stroke-linejoin="round"/>
<polygon points="801.2,467.0 805.5,464.7 805.5,476.3 801.2,478.6" fill="#1f6f68" stroke="#1f6f68" stroke-width="0.35" stroke-linejoin="round"/>
<polygon points="796.6,466.6 803.2,459.3 814.4,458.2 810.1,460.9 804.0,461.9 798.6,467.8" fill="#e0503a" stroke="#e0503a" stroke-width="0.35" stroke-linejoin="round"/>
<polygon points="796.6,466.6 798.6,467.8 798.6,469.0 796.6,467.8" fill="#c9432f" stroke="#c9432f" stroke-width="0.35" stroke-linejoin="round"/>
<line x1="798.9" y1="468.6" x2="798.9" y2="480.1" stroke="#fbf3e0" stroke-width="1.6"/>
<line x1="812.9" y1="461.3" x2="812.9" y2="472.4" stroke="#fbf3e0" stroke-width="1.6"/>
<ellipse cx="662.9" cy="463.7" rx="6.6" ry="3.6" fill="#6b7a1e" opacity="0.35"/>
<line x1="664.4" y1="466.7" x2="664.4" y2="455.7" stroke="#b8412c" stroke-width="2.0"/>
<line x1="664.1" y1="459.7" x2="661.2" y2="456.2" stroke="#b8412c" stroke-width="1.0"/>
<circle cx="659.9" cy="451.7" r="6.2" fill="#5f8f2b"/>
<circle cx="664.4" cy="452.2" r="7.5" fill="#5f8f2b"/>
<circle cx="664.4" cy="447.7" r="8.6" fill="#71a132"/>
<circle cx="659.0" cy="448.2" r="6.4" fill="#71a132"/>
<circle cx="670.0" cy="448.7" r="6.6" fill="#71a132"/>
<circle cx="661.8" cy="442.2" r="6.3" fill="#71a132"/>
<circle cx="668.0" cy="442.7" r="6.2" fill="#71a132"/>
<ellipse cx="701.9" cy="490.9" rx="6.6" ry="3.6" fill="#6b7a1e" opacity="0.35"/>
<line x1="703.4" y1="493.9" x2="703.4" y2="482.9" stroke="#b8412c" stroke-width="2.0"/>
<line x1="703.1" y1="486.9" x2="700.2" y2="483.4" stroke="#b8412c" stroke-width="1.0"/>
<circle cx="698.9" cy="478.9" r="6.2" fill="#5f8f2b"/>
<circle cx="703.4" cy="479.4" r="7.5" fill="#5f8f2b"/>
<circle cx="703.4" cy="474.9" r="8.6" fill="#71a132"/>
<circle cx="698.0" cy="475.4" r="6.4" fill="#71a132"/>
<circle cx="709.0" cy="475.9" r="6.6" fill="#71a132"/>
<circle cx="700.8" cy="469.4" r="6.3" fill="#71a132"/>
<circle cx="707.0" cy="469.9" r="6.2" fill="#71a132"/>
<ellipse cx="723.2" cy="503.4" rx="6.6" ry="3.6" fill="#6b7a1e" opacity="0.35"/>
<line x1="724.7" y1="506.4" x2="724.7" y2="495.4" stroke="#b8412c" stroke-width="2.0"/>
<line x1="724.4" y1="499.4" x2="721.5" y2="495.9" stroke="#b8412c" stroke-width="1.0"/>
<circle cx="720.2" cy="491.4" r="6.2" fill="#5f8f2b"/>
<circle cx="724.7" cy="491.9" r="7.5" fill="#5f8f2b"/>
<circle cx="724.7" cy="487.4" r="8.6" fill="#71a132"/>
<circle cx="719.3" cy="487.9" r="6.4" fill="#71a132"/>
<circle cx="730.3" cy="488.4" r="6.6" fill="#71a132"/>
<circle cx="722.1" cy="481.9" r="6.3" fill="#71a132"/>
<circle cx="728.3" cy="482.4" r="6.2" fill="#71a132"/>
<ellipse cx="746.6" cy="515.9" rx="6.6" ry="3.6" fill="#6b7a1e" opacity="0.35"/>
<line x1="748.1" y1="518.9" x2="748.1" y2="507.9" stroke="#b8412c" stroke-width="2.0"/>
<line x1="747.8" y1="511.9" x2="744.9" y2="508.4" stroke="#b8412c" stroke-width="1.0"/>
<circle cx="743.6" cy="503.9" r="6.2" fill="#5f8f2b"/>
<circle cx="748.1" cy="504.4" r="7.5" fill="#5f8f2b"/>
<circle cx="748.1" cy="499.9" r="8.6" fill="#71a132"/>
<circle cx="742.7" cy="500.4" r="6.4" fill="#71a132"/>
<circle cx="753.7" cy="500.9" r="6.6" fill="#71a132"/>
<circle cx="745.5" cy="494.4" r="6.3" fill="#71a132"/>
<circle cx="751.7" cy="494.9" r="6.2" fill="#71a132"/>
<ellipse cx="863.6" cy="440.7" rx="6.6" ry="3.6" fill="#6b7a1e" opacity="0.35"/>
<line x1="865.1" y1="443.7" x2="865.1" y2="432.7" stroke="#b8412c" stroke-width="2.0"/>
<line x1="864.8" y1="436.7" x2="861.9" y2="433.2" stroke="#b8412c" stroke-width="1.0"/>
<circle cx="860.6" cy="428.7" r="6.2" fill="#5f8f2b"/>
<circle cx="865.1" cy="429.2" r="7.5" fill="#5f8f2b"/>
<circle cx="865.1" cy="424.7" r="8.6" fill="#71a132"/>
<circle cx="859.7" cy="425.2" r="6.4" fill="#71a132"/>
<circle cx="870.7" cy="425.7" r="6.6" fill="#71a132"/>
<circle cx="862.5" cy="419.2" r="6.3" fill="#71a132"/>
<circle cx="868.7" cy="419.7" r="6.2" fill="#71a132"/>
<polygon points="661.4,504.6 678.4,495.1 687.4,500.1 670.4,510.1" fill="#cdbfe6" opacity="0.7"/>
<polygon points="664.4,502.1 676.4,495.6 685.9,499.1 685.9,502.6 672.4,510.1 664.4,506.1" fill="#e8414e" stroke="#e8414e" stroke-width="0.35" stroke-linejoin="round"/>
<polygon points="664.4,502.1 672.4,506.3 672.4,510.1 664.4,506.1" fill="#b72c3a" stroke="#b72c3a" stroke-width="0.35" stroke-linejoin="round"/>
<polygon points="668.4,498.1 676.9,493.1 682.4,495.6 673.9,500.8" fill="#e8414e" stroke="#e8414e" stroke-width="0.35" stroke-linejoin="round"/>
<polygon points="668.4,498.1 673.9,500.8 673.4,504.5 666.9,501.1" fill="#b72c3a" stroke="#b72c3a" stroke-width="0.35" stroke-linejoin="round"/>
<polygon points="674.2,501.1 682.0,496.5 682.8,499.5 674.2,504.4" fill="#4a3434" stroke="#4a3434" stroke-width="0.35" stroke-linejoin="round"/>
<polygon points="677.9,498.7 678.7,498.2 678.9,501.4 678.1,501.9" fill="#e8414e" stroke="#e8414e" stroke-width="0.35" stroke-linejoin="round"/>
<circle cx="673.6" cy="508.9" r="1.9" fill="#2b2b2b"/>
<circle cx="682.6" cy="503.5" r="1.9" fill="#2b2b2b"/>
<circle cx="673.6" cy="508.9" r="0.8" fill="#ddd"/>
<circle cx="682.6" cy="503.5" r="0.8" fill="#ddd"/>
<polygon points="677.6,515.8 694.6,506.3 703.6,511.3 686.6,521.3" fill="#cdbfe6" opacity="0.7"/>
<polygon points="680.6,513.3 692.6,506.8 702.1,510.3 702.1,513.8 688.6,521.3 680.6,517.3" fill="#f5a81c" stroke="#f5a81c" stroke-width="0.35" stroke-linejoin="round"/>
<polygon points="680.6,513.3 688.6,517.5 688.6,521.3 680.6,517.3" fill="#cf8a10" stroke="#cf8a10" stroke-width="0.35" stroke-linejoin="round"/>
<polygon points="684.6,509.3 693.1,504.3 698.6,506.8 690.1,512.0" fill="#f5a81c" stroke="#f5a81c" stroke-width="0.35" stroke-linejoin="round"/>
<polygon points="684.6,509.3 690.1,512.0 689.6,515.7 683.1,512.3" fill="#cf8a10" stroke="#cf8a10" stroke-width="0.35" stroke-linejoin="round"/>
<polygon points="690.4,512.3 698.2,507.7 699.0,510.7 690.4,515.6" fill="#4a3434" stroke="#4a3434" stroke-width="0.35" stroke-linejoin="round"/>
<polygon points="694.1,509.9 694.9,509.4 695.1,512.6 694.3,513.1" fill="#f5a81c" stroke="#f5a81c" stroke-width="0.35" stroke-linejoin="round"/>
<circle cx="689.8" cy="520.1" r="1.9" fill="#2b2b2b"/>
<circle cx="698.8" cy="514.7" r="1.9" fill="#2b2b2b"/>
<circle cx="689.8" cy="520.1" r="0.8" fill="#ddd"/>
<circle cx="698.8" cy="514.7" r="0.8" fill="#ddd"/>
<polygon points="708.3,534.1 725.3,524.6 734.3,529.6 717.3,539.6" fill="#cdbfe6" opacity="0.7"/>
<polygon points="711.3,531.6 723.3,525.1 732.8,528.6 732.8,532.1 719.3,539.6 711.3,535.6" fill="#26a79f" stroke="#26a79f" stroke-width="0.35" stroke-linejoin="round"/>
<polygon points="711.3,531.6 719.3,535.8 719.3,539.6 711.3,535.6" fill="#1b827c" stroke="#1b827c" stroke-width="0.35" stroke-linejoin="round"/>
<polygon points="715.3,527.6 723.8,522.6 729.3,525.1 720.8,530.3" fill="#26a79f" stroke="#26a79f" stroke-width="0.35" stroke-linejoin="round"/>
<polygon points="715.3,527.6 720.8,530.3 720.3,534.0 713.8,530.6" fill="#1b827c" stroke="#1b827c" stroke-width="0.35" stroke-linejoin="round"/>
<polygon points="721.1,530.6 728.9,526.0 729.7,529.0 721.1,533.9" fill="#4a3434" stroke="#4a3434" stroke-width="0.35" stroke-linejoin="round"/>
<polygon points="724.8,528.2 725.6,527.7 725.8,530.9 725.0,531.4" fill="#26a79f" stroke="#26a79f" stroke-width="0.35" stroke-linejoin="round"/>
<circle cx="720.5" cy="538.4" r="1.9" fill="#2b2b2b"/>
<circle cx="729.5" cy="533.0" r="1.9" fill="#2b2b2b"/>
<circle cx="720.5" cy="538.4" r="0.8" fill="#ddd"/>
<circle cx="729.5" cy="533.0" r="0.8" fill="#ddd"/>
</g>
<g id="overlay">
<line x1="149.6" y1="300.0" x2="149.6" y2="352.0" stroke="#a9bd7c" stroke-width="1.2"/>
<circle cx="149.4" cy="352.0" r="3.1" fill="#b5c93f"/>
<line x1="552.6" y1="290.0" x2="552.6" y2="352.4" stroke="#a9bd7c" stroke-width="1.2"/>
<circle cx="552.6" cy="352.4" r="3.1" fill="#b5c93f"/>
<line x1="711.4" y1="360.0" x2="711.4" y2="402.0" stroke="#a9bd7c" stroke-width="1.2"/>
<circle cx="711.5" cy="402.2" r="3.1" fill="#b5c93f"/>
<line x1="1055.0" y1="290.0" x2="1055.0" y2="322.5" stroke="#a9bd7c" stroke-width="1.2"/>
<circle cx="1055.0" cy="322.8" r="3.1" fill="#b5c93f"/>
</g>
</svg>
</body></html>
